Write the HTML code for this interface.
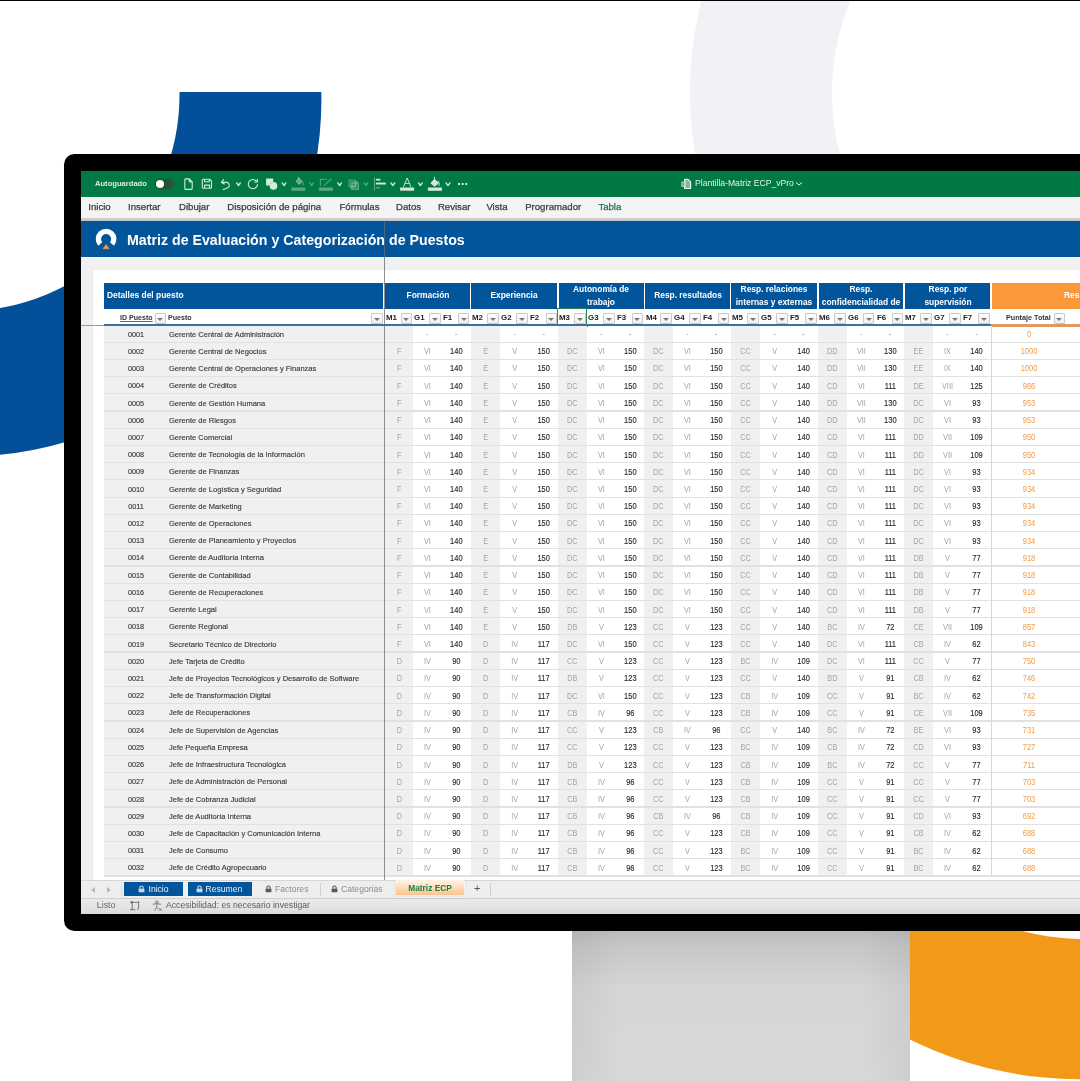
<!DOCTYPE html>
<html><head><meta charset="utf-8"><style>
html,body{margin:0;padding:0;}
body{width:1080px;height:1081px;overflow:hidden;position:relative;background:#fff;font-family:"Liberation Sans", sans-serif;}
div{box-sizing:border-box;}
</style></head><body>
<svg style="position:absolute;left:0;top:0" width="1080" height="1081" viewBox="0 0 1080 1081">
<defs><clipPath id="cb"><rect x="0" y="92" width="1080" height="1000"/></clipPath>
<linearGradient id="st" x1="0" y1="0" x2="0" y2="1"><stop offset="0" stop-color="#b8b8b9"/><stop offset="0.12" stop-color="#c6c6c7"/><stop offset="0.4" stop-color="#d6d6d8"/><stop offset="1" stop-color="#d9d9db"/></linearGradient>
<linearGradient id="stx" x1="0" y1="0" x2="1" y2="0"><stop offset="0" stop-color="#000" stop-opacity="0.05"/><stop offset="0.15" stop-color="#000" stop-opacity="0"/><stop offset="0.85" stop-color="#000" stop-opacity="0"/><stop offset="1" stop-color="#000" stop-opacity="0.05"/></linearGradient>
</defs>
<path fill-rule="evenodd" fill="#f1f1f6" d="M690,93 a382,382 0 1,0 764,0 a382,382 0 1,0 -764,0 Z M832,93 a240,240 0 1,1 480,0 a240,240 0 1,1 -480,0 Z"/>
<path fill-rule="evenodd" fill="#034f9a" clip-path="url(#cb)" d="M-392.2,99.7 a356.8,356.8 0 1,0 713.6,0 a356.8,356.8 0 1,0 -713.6,0 Z M-252.89999999999998,94.9 a216.2,216.2 0 1,1 432.4,0 a216.2,216.2 0 1,1 -432.4,0 Z"/>
<path fill-rule="evenodd" fill="#f3991a" d="M697.0999999999999,697.2 a382,382 0 1,0 764,0 a382,382 0 1,0 -764,0 Z M843.0999999999999,698.9 a240,240 0 1,1 480,0 a240,240 0 1,1 -480,0 Z"/>
<rect x="572" y="925" width="338" height="160" fill="url(#st)"/>
<rect x="572" y="925" width="338" height="160" fill="url(#stx)"/>
<rect x="0" y="0" width="1080" height="1.0" fill="#000"/>
</svg><div style="position:absolute;left:63.80px;top:153.70px;width:1100.00px;height:777.10px;background:#000;border-radius:10.5px;"></div><div style="position:absolute;left:0;top:0;width:1080px;height:1081px;overflow:hidden;filter:blur(0.35px);"><div style="position:absolute;left:80.80px;top:170.80px;width:999.20px;height:742.70px;background:#f0f0f0;overflow:hidden;"></div><div style="position:absolute;left:80.80px;top:170.80px;width:999.20px;height:26.00px;background:#007944;"></div><div style="position:absolute;left:80.80px;top:196.80px;width:999.20px;height:21.50px;background:#f4f4f4;"></div><div style="position:absolute;left:80.80px;top:218.30px;width:999.20px;height:2.80px;background:linear-gradient(#d6d6d6,#c2bfbf);"></div><div style="position:absolute;left:80.80px;top:221.00px;width:999.20px;height:36.40px;background:#02559b;"></div><div style="position:absolute;left:80.80px;top:257.40px;width:999.20px;height:13.00px;background:#f1f1f1;"></div><div style="position:absolute;left:92.60px;top:270.30px;width:987.40px;height:609.70px;background:#fff;box-shadow:0 0 1px rgba(0,0,0,0.15);"></div><div style="position:absolute;top:179.31px;font-size:7.6px;line-height:9.5px;color:#d9eee0;white-space:nowrap;font-weight:bold;left:95.00px;">Autoguardado</div><div style="position:absolute;left:155.30px;top:179.40px;width:19.40px;height:9.40px;background:linear-gradient(90deg,#184a2e,#2a5a3e);border-radius:5px;"></div><div style="position:absolute;left:155.60px;top:179.60px;width:8.80px;height:8.80px;background:#fff;border-radius:50%;"></div><svg style="position:absolute;left:180px;top:175px" width="300" height="18" viewBox="180 175 300 18" fill="none" stroke="#d3eadb" stroke-width="1.1" stroke-linejoin="round" stroke-linecap="round">
<path d="M185.6,178.9 h3.6 l3,3.1 v6.6 a0.8,0.8 0 0 1 -0.8,0.8 h-5.8 a0.8,0.8 0 0 1 -0.8,-0.8 v-8.9 a0.8,0.8 0 0 1 0.8,-0.8 z M189.2,178.9 v2.3 a0.8,0.8 0 0 0 0.8,0.8 h2.2"/>
<path d="M203.2,179.3 h6.6 l1.7,1.7 v6.4 a0.9,0.9 0 0 1 -0.9,0.9 h-7.4 a0.9,0.9 0 0 1 -0.9,-0.9 v-7.2 a0.9,0.9 0 0 1 0.9,-0.9 z M204.6,179.3 v2.4 h4.6 v-2.4 M204.6,188.3 v-3.2 h5 v3.2"/>
<path d="M221.6,182.4 h5.4 a2.9,2.9 0 0 1 0.9,5.3 l-4.6,1.9"/>
<path d="M223.6,179.6 l-2.1,2.8 l2.8,1.6" />
<path d="M236.70000000000002,182.9 L238.5,185.5 L240.29999999999998,182.9" stroke="#d3eadb" stroke-width="1.35" fill="none"/>
<path d="M256.6,181.3 a4.6,4.6 0 1 0 0.9,3.2"/>
<path d="M257.3,179.4 v2.6 h-2.6" />
<path d="M266.1,178.6 h7.1 v3.4 a3.8,3.8 0 0 0 -3.4,3.5 h-3.7 z" fill="#d3eadb" stroke="none"/>
<circle cx="273.5" cy="185.9" r="3.8" fill="#d3eadb" stroke="none"/>
<path d="M282.29999999999995,182.9 L284.1,185.5 L285.90000000000003,182.9" stroke="#d3eadb" stroke-width="1.35" fill="none"/>
<path d="M296,181.2 l3,-3 l3.2,3.2 l-3,3 z" fill="rgba(210,235,220,0.42)" stroke="rgba(210,235,220,0.42)"/>
<path d="M298.5,177 v2.6 M302.8,182 q1,1.5 0,3" stroke="rgba(210,235,220,0.42)"/>
<rect x="291.5" y="187.5" width="13.8" height="3.3" fill="rgba(210,235,220,0.42)" stroke="none"/>
<path d="M309.9,182.9 L311.6,185.5 L313.3,182.9" stroke="rgba(210,235,220,0.42)" stroke-width="1.35" fill="none"/>
<path d="M320.4,185.2 v-6 h6 M324.4,185.4 l6.8,-6.4" stroke="rgba(210,235,220,0.42)"/>
<rect x="319" y="187.5" width="14" height="3.3" fill="rgba(210,235,220,0.42)" stroke="none"/>
<path d="M337.79999999999995,182.9 L339.6,185.5 L341.40000000000003,182.9" stroke="#d3eadb" stroke-width="1.35" fill="none"/>
<path d="M349,180 h6.5 v6.5 h-6.5 z M352,183 h6.5 v6.5 h-6.5 z" stroke="rgba(210,235,220,0.42)"/>
<rect x="350" y="181" width="8" height="8" fill="rgba(210,235,220,0.42)" stroke="none" opacity="0.6"/>
<path d="M364.29999999999995,182.9 L366.0,185.5 L367.70000000000005,182.9" stroke="rgba(210,235,220,0.42)" stroke-width="1.35" fill="none"/>
<path d="M374.5,178 v12" stroke="rgba(210,235,220,0.42)"/>
<rect x="375.9" y="178.8" width="4.5" height="1.7" fill="#d3eadb" stroke="none"/>
<rect x="375.9" y="182.6" width="10" height="1.9" fill="#d3eadb" stroke="none"/>
<rect x="375.9" y="187.1" width="4.2" height="1.4" fill="rgba(210,235,220,0.42)" stroke="none"/>
<path d="M391.0,182.9 L392.9,185.5 L394.8,182.9" stroke="#d3eadb" stroke-width="1.35" fill="none"/>
<path d="M403.6,186.6 l3.6,-8.6 l3.6,8.6 M405,183.4 h4.4" stroke-width="0.9"/>
<rect x="400.1" y="187.5" width="14" height="3.2" fill="#d3eadb" stroke="none"/>
<path d="M418.5,182.9 L420.4,185.5 L422.3,182.9" stroke="#d3eadb" stroke-width="1.35" fill="none"/>
<path d="M431.2,183 l3.4,-3.4 l3.4,3.4 l-3.4,3 z" fill="#d3eadb"/>
<path d="M434.4,177.2 v2.6 M438.6,181.2 q1.2,1.6 0.4,4.4" stroke-width="0.9"/>
<rect x="427.9" y="187.5" width="14" height="3.3" fill="#d3eadb" stroke="none"/>
<path d="M446.0,182.9 L448.0,185.5 L450.0,182.9" stroke="#d3eadb" stroke-width="1.35" fill="none"/>
<rect x="458" y="183" width="2" height="2" fill="#d3eadb" stroke="none"/><rect x="461.6" y="183" width="2" height="2" fill="#d3eadb" stroke="none"/><rect x="465.2" y="183" width="2" height="2" fill="#d3eadb" stroke="none"/>
</svg><svg style="position:absolute;left:680px;top:177px" width="14" height="14" viewBox="680 177 14 14">
<path d="M684.6,179.3 h3.4 l2.6,2.6 v6.6 h-6 z" fill="rgba(225,242,232,0.55)" stroke="#eaf6ef" stroke-width="1.2" stroke-linejoin="round"/>
<rect x="681.2" y="181.6" width="4.6" height="5.4" fill="rgba(200,230,212,0.75)"/>
<path d="M682.4,183 l2.2,2.6 M684.6,183 l-2.2,2.6" stroke="#007944" stroke-width="0.7" opacity="0.6"/>
</svg><div style="position:absolute;top:178.35px;font-size:9px;line-height:11.25px;color:#e3f1e8;white-space:nowrap;left:694.50px;transform:scaleX(0.955);transform-origin:0 0;">Plantilla-Matriz ECP_vPro</div><svg style="position:absolute;left:795px;top:181px" width="8" height="6" viewBox="0 0 8 6"><path d="M1,1.5 l3,2.5 l3,-2.5" stroke="#eef6f1" fill="none" stroke-width="1"/></svg><div style="position:absolute;top:200.97px;font-size:9.6px;line-height:12.0px;color:#3b3b3b;white-space:nowrap;left:88.30px;-webkit-text-stroke:0.25px #3b3b3b;">Inicio</div><div style="position:absolute;top:200.97px;font-size:9.6px;line-height:12.0px;color:#3b3b3b;white-space:nowrap;left:128.00px;-webkit-text-stroke:0.25px #3b3b3b;">Insertar</div><div style="position:absolute;top:200.97px;font-size:9.6px;line-height:12.0px;color:#3b3b3b;white-space:nowrap;left:179.00px;-webkit-text-stroke:0.25px #3b3b3b;">Dibujar</div><div style="position:absolute;top:200.97px;font-size:9.6px;line-height:12.0px;color:#3b3b3b;white-space:nowrap;left:227.30px;-webkit-text-stroke:0.25px #3b3b3b;">Disposición de página</div><div style="position:absolute;top:200.97px;font-size:9.6px;line-height:12.0px;color:#3b3b3b;white-space:nowrap;left:339.50px;-webkit-text-stroke:0.25px #3b3b3b;">Fórmulas</div><div style="position:absolute;top:200.97px;font-size:9.6px;line-height:12.0px;color:#3b3b3b;white-space:nowrap;left:396.00px;-webkit-text-stroke:0.25px #3b3b3b;">Datos</div><div style="position:absolute;top:200.97px;font-size:9.6px;line-height:12.0px;color:#3b3b3b;white-space:nowrap;left:437.90px;-webkit-text-stroke:0.25px #3b3b3b;">Revisar</div><div style="position:absolute;top:200.97px;font-size:9.6px;line-height:12.0px;color:#3b3b3b;white-space:nowrap;left:486.40px;-webkit-text-stroke:0.25px #3b3b3b;">Vista</div><div style="position:absolute;top:200.97px;font-size:9.6px;line-height:12.0px;color:#3b3b3b;white-space:nowrap;left:525.20px;-webkit-text-stroke:0.25px #3b3b3b;">Programador</div><div style="position:absolute;top:200.97px;font-size:9.6px;line-height:12.0px;color:#1e7145;white-space:nowrap;left:598.40px;-webkit-text-stroke:0.25px #1e7145;">Tabla</div><svg style="position:absolute;left:90px;top:224px" width="34" height="28" viewBox="90 224 34 28">
<path d="M100.2,244.05 A7.7,7.7 0 1 1 112,244.05" fill="none" stroke="#fff" stroke-width="5.3"/>
<path d="M103.2,248.7 L106.1,244.6 L109.1,248.7 Z" fill="#f7993a" stroke="#f7993a" stroke-width="0.7" stroke-linejoin="round"/>
</svg><div style="position:absolute;top:230.13px;font-size:15.2px;line-height:19.0px;color:#fff;white-space:nowrap;font-weight:bold;left:126.50px;transform:scaleX(0.935);transform-origin:0 0;">Matriz de Evaluación y Categorización de Puestos</div><div style="position:absolute;left:104.20px;top:282.50px;width:278.60px;height:26.00px;background:#02559b;"></div><div style="position:absolute;top:290.25px;font-size:8.8px;line-height:11.0px;color:#fff;white-space:nowrap;font-weight:bold;left:106.70px;transform:scaleX(0.955);transform-origin:0 0;">Detalles del puesto</div><div style="position:absolute;left:385.40px;top:282.50px;width:84.40px;height:26.00px;background:#02559b;"></div><div style="position:absolute;top:289.75px;font-size:8.8px;line-height:11.0px;color:#fff;white-space:nowrap;font-weight:bold;left:372.60px;width:110.00px;text-align:center;transform:scaleX(0.955);">Formación</div><div style="position:absolute;left:471.40px;top:282.50px;width:86.10px;height:26.00px;background:#02559b;"></div><div style="position:absolute;top:289.75px;font-size:8.8px;line-height:11.0px;color:#fff;white-space:nowrap;font-weight:bold;left:459.45px;width:110.00px;text-align:center;transform:scaleX(0.955);">Experiencia</div><div style="position:absolute;left:559.10px;top:282.50px;width:84.50px;height:26.00px;background:#02559b;"></div><div style="position:absolute;top:284.15px;font-size:8.8px;line-height:11.0px;color:#fff;white-space:nowrap;font-weight:bold;left:546.35px;width:110.00px;text-align:center;transform:scaleX(0.955);">Autonomía de</div><div style="position:absolute;top:296.55px;font-size:8.8px;line-height:11.0px;color:#fff;white-space:nowrap;font-weight:bold;left:546.35px;width:110.00px;text-align:center;transform:scaleX(0.955);">trabajo</div><div style="position:absolute;left:645.20px;top:282.50px;width:84.60px;height:26.00px;background:#02559b;"></div><div style="position:absolute;top:289.75px;font-size:8.8px;line-height:11.0px;color:#fff;white-space:nowrap;font-weight:bold;left:632.50px;width:110.00px;text-align:center;transform:scaleX(0.955);">Resp. resultados</div><div style="position:absolute;left:731.40px;top:282.50px;width:85.90px;height:26.00px;background:#02559b;"></div><div style="position:absolute;top:284.15px;font-size:8.8px;line-height:11.0px;color:#fff;white-space:nowrap;font-weight:bold;left:719.35px;width:110.00px;text-align:center;transform:scaleX(0.955);">Resp. relaciones</div><div style="position:absolute;top:296.55px;font-size:8.8px;line-height:11.0px;color:#fff;white-space:nowrap;font-weight:bold;left:719.35px;width:110.00px;text-align:center;transform:scaleX(0.955);">internas y externas</div><div style="position:absolute;left:818.90px;top:282.50px;width:84.50px;height:26.00px;background:#02559b;"></div><div style="position:absolute;top:284.15px;font-size:8.8px;line-height:11.0px;color:#fff;white-space:nowrap;font-weight:bold;left:806.15px;width:110.00px;text-align:center;transform:scaleX(0.955);">Resp.</div><div style="position:absolute;top:296.55px;font-size:8.8px;line-height:11.0px;color:#fff;white-space:nowrap;font-weight:bold;left:806.15px;width:110.00px;text-align:center;transform:scaleX(0.955);">confidencialidad de</div><div style="position:absolute;left:905.00px;top:282.50px;width:85.30px;height:26.00px;background:#02559b;"></div><div style="position:absolute;top:284.15px;font-size:8.8px;line-height:11.0px;color:#fff;white-space:nowrap;font-weight:bold;left:892.65px;width:110.00px;text-align:center;transform:scaleX(0.955);">Resp. por</div><div style="position:absolute;top:296.55px;font-size:8.8px;line-height:11.0px;color:#fff;white-space:nowrap;font-weight:bold;left:892.65px;width:110.00px;text-align:center;transform:scaleX(0.955);">supervisión</div><div style="position:absolute;left:992.40px;top:282.50px;width:200.00px;height:26.00px;background:#fd983a;"></div><div style="position:absolute;top:289.65px;font-size:8.8px;line-height:11.0px;color:#fff;white-space:nowrap;font-weight:bold;left:1064.20px;transform:scaleX(0.955);transform-origin:0 0;">Resultado</div><div style="position:absolute;top:313.01px;font-size:7.5px;line-height:9.38px;color:#333;white-space:nowrap;font-weight:bold;left:119.80px;transform:scaleX(0.945);transform-origin:0 0;text-decoration:underline;text-decoration-color:#666;text-decoration-thickness:0.7px;text-underline-offset:0.8px;">ID Puesto</div><div style="position:absolute;left:154.60px;top:313.1px;width:11.5px;height:10.9px;border:1px solid #cacaca;border-radius:1px;background:linear-gradient(#fdfdfd,#f0f0f0);"></div><div style="position:absolute;left:157.35px;top:317.5px;width:0;height:0;border-left:3px solid transparent;border-right:3px solid transparent;border-top:3.3px solid #777;"></div><div style="position:absolute;top:313.01px;font-size:7.5px;line-height:9.38px;color:#333;white-space:nowrap;font-weight:bold;left:168.30px;transform:scaleX(0.945);transform-origin:0 0;">Puesto</div><div style="position:absolute;left:371.30px;top:313.1px;width:11.5px;height:10.9px;border:1px solid #cacaca;border-radius:1px;background:linear-gradient(#fdfdfd,#f0f0f0);"></div><div style="position:absolute;left:374.05px;top:317.5px;width:0;height:0;border-left:3px solid transparent;border-right:3px solid transparent;border-top:3.3px solid #777;"></div><div style="position:absolute;top:312.91px;font-size:7.6px;line-height:9.5px;color:#222;white-space:nowrap;font-weight:bold;left:385.70px;transform:scaleX(1.04);transform-origin:0 0;">M1</div><div style="position:absolute;left:400.57px;top:313.1px;width:11.5px;height:10.9px;border:1px solid #cacaca;border-radius:1px;background:linear-gradient(#fdfdfd,#f0f0f0);"></div><div style="position:absolute;left:403.32px;top:317.5px;width:0;height:0;border-left:3px solid transparent;border-right:3px solid transparent;border-top:3.3px solid #777;"></div><div style="position:absolute;top:312.91px;font-size:7.6px;line-height:9.5px;color:#222;white-space:nowrap;font-weight:bold;left:414.37px;transform:scaleX(1.04);transform-origin:0 0;">G1</div><div style="position:absolute;left:429.23px;top:313.1px;width:11.5px;height:10.9px;border:1px solid #cacaca;border-radius:1px;background:linear-gradient(#fdfdfd,#f0f0f0);"></div><div style="position:absolute;left:431.98px;top:317.5px;width:0;height:0;border-left:3px solid transparent;border-right:3px solid transparent;border-top:3.3px solid #777;"></div><div style="position:absolute;top:312.91px;font-size:7.6px;line-height:9.5px;color:#222;white-space:nowrap;font-weight:bold;left:443.03px;transform:scaleX(1.04);transform-origin:0 0;">F1</div><div style="position:absolute;left:457.90px;top:313.1px;width:11.5px;height:10.9px;border:1px solid #cacaca;border-radius:1px;background:linear-gradient(#fdfdfd,#f0f0f0);"></div><div style="position:absolute;left:460.65px;top:317.5px;width:0;height:0;border-left:3px solid transparent;border-right:3px solid transparent;border-top:3.3px solid #777;"></div><div style="position:absolute;top:312.91px;font-size:7.6px;line-height:9.5px;color:#222;white-space:nowrap;font-weight:bold;left:471.70px;transform:scaleX(1.04);transform-origin:0 0;">M2</div><div style="position:absolute;left:487.13px;top:313.1px;width:11.5px;height:10.9px;border:1px solid #cacaca;border-radius:1px;background:linear-gradient(#fdfdfd,#f0f0f0);"></div><div style="position:absolute;left:489.88px;top:317.5px;width:0;height:0;border-left:3px solid transparent;border-right:3px solid transparent;border-top:3.3px solid #777;"></div><div style="position:absolute;top:312.91px;font-size:7.6px;line-height:9.5px;color:#222;white-space:nowrap;font-weight:bold;left:500.93px;transform:scaleX(1.04);transform-origin:0 0;">G2</div><div style="position:absolute;left:516.37px;top:313.1px;width:11.5px;height:10.9px;border:1px solid #cacaca;border-radius:1px;background:linear-gradient(#fdfdfd,#f0f0f0);"></div><div style="position:absolute;left:519.12px;top:317.5px;width:0;height:0;border-left:3px solid transparent;border-right:3px solid transparent;border-top:3.3px solid #777;"></div><div style="position:absolute;top:312.91px;font-size:7.6px;line-height:9.5px;color:#222;white-space:nowrap;font-weight:bold;left:530.17px;transform:scaleX(1.04);transform-origin:0 0;">F2</div><div style="position:absolute;left:545.60px;top:313.1px;width:11.5px;height:10.9px;border:1px solid #cacaca;border-radius:1px;background:linear-gradient(#fdfdfd,#f0f0f0);"></div><div style="position:absolute;left:548.35px;top:317.5px;width:0;height:0;border-left:3px solid transparent;border-right:3px solid transparent;border-top:3.3px solid #777;"></div><div style="position:absolute;top:312.91px;font-size:7.6px;line-height:9.5px;color:#222;white-space:nowrap;font-weight:bold;left:559.40px;transform:scaleX(1.04);transform-origin:0 0;">M3</div><div style="position:absolute;left:574.30px;top:313.1px;width:11.5px;height:10.9px;border:1px solid #cacaca;border-radius:1px;background:linear-gradient(#fdfdfd,#f0f0f0);"></div><div style="position:absolute;left:577.05px;top:317.5px;width:0;height:0;border-left:3px solid transparent;border-right:3px solid transparent;border-top:3.3px solid #777;"></div><div style="position:absolute;top:312.91px;font-size:7.6px;line-height:9.5px;color:#222;white-space:nowrap;font-weight:bold;left:588.10px;transform:scaleX(1.04);transform-origin:0 0;">G3</div><div style="position:absolute;left:603.00px;top:313.1px;width:11.5px;height:10.9px;border:1px solid #cacaca;border-radius:1px;background:linear-gradient(#fdfdfd,#f0f0f0);"></div><div style="position:absolute;left:605.75px;top:317.5px;width:0;height:0;border-left:3px solid transparent;border-right:3px solid transparent;border-top:3.3px solid #777;"></div><div style="position:absolute;top:312.91px;font-size:7.6px;line-height:9.5px;color:#222;white-space:nowrap;font-weight:bold;left:616.80px;transform:scaleX(1.04);transform-origin:0 0;">F3</div><div style="position:absolute;left:631.70px;top:313.1px;width:11.5px;height:10.9px;border:1px solid #cacaca;border-radius:1px;background:linear-gradient(#fdfdfd,#f0f0f0);"></div><div style="position:absolute;left:634.45px;top:317.5px;width:0;height:0;border-left:3px solid transparent;border-right:3px solid transparent;border-top:3.3px solid #777;"></div><div style="position:absolute;top:312.91px;font-size:7.6px;line-height:9.5px;color:#222;white-space:nowrap;font-weight:bold;left:645.50px;transform:scaleX(1.04);transform-origin:0 0;">M4</div><div style="position:absolute;left:660.43px;top:313.1px;width:11.5px;height:10.9px;border:1px solid #cacaca;border-radius:1px;background:linear-gradient(#fdfdfd,#f0f0f0);"></div><div style="position:absolute;left:663.18px;top:317.5px;width:0;height:0;border-left:3px solid transparent;border-right:3px solid transparent;border-top:3.3px solid #777;"></div><div style="position:absolute;top:312.91px;font-size:7.6px;line-height:9.5px;color:#222;white-space:nowrap;font-weight:bold;left:674.23px;transform:scaleX(1.04);transform-origin:0 0;">G4</div><div style="position:absolute;left:689.17px;top:313.1px;width:11.5px;height:10.9px;border:1px solid #cacaca;border-radius:1px;background:linear-gradient(#fdfdfd,#f0f0f0);"></div><div style="position:absolute;left:691.92px;top:317.5px;width:0;height:0;border-left:3px solid transparent;border-right:3px solid transparent;border-top:3.3px solid #777;"></div><div style="position:absolute;top:312.91px;font-size:7.6px;line-height:9.5px;color:#222;white-space:nowrap;font-weight:bold;left:702.97px;transform:scaleX(1.04);transform-origin:0 0;">F4</div><div style="position:absolute;left:717.90px;top:313.1px;width:11.5px;height:10.9px;border:1px solid #cacaca;border-radius:1px;background:linear-gradient(#fdfdfd,#f0f0f0);"></div><div style="position:absolute;left:720.65px;top:317.5px;width:0;height:0;border-left:3px solid transparent;border-right:3px solid transparent;border-top:3.3px solid #777;"></div><div style="position:absolute;top:312.91px;font-size:7.6px;line-height:9.5px;color:#222;white-space:nowrap;font-weight:bold;left:731.70px;transform:scaleX(1.04);transform-origin:0 0;">M5</div><div style="position:absolute;left:747.07px;top:313.1px;width:11.5px;height:10.9px;border:1px solid #cacaca;border-radius:1px;background:linear-gradient(#fdfdfd,#f0f0f0);"></div><div style="position:absolute;left:749.82px;top:317.5px;width:0;height:0;border-left:3px solid transparent;border-right:3px solid transparent;border-top:3.3px solid #777;"></div><div style="position:absolute;top:312.91px;font-size:7.6px;line-height:9.5px;color:#222;white-space:nowrap;font-weight:bold;left:760.87px;transform:scaleX(1.04);transform-origin:0 0;">G5</div><div style="position:absolute;left:776.23px;top:313.1px;width:11.5px;height:10.9px;border:1px solid #cacaca;border-radius:1px;background:linear-gradient(#fdfdfd,#f0f0f0);"></div><div style="position:absolute;left:778.98px;top:317.5px;width:0;height:0;border-left:3px solid transparent;border-right:3px solid transparent;border-top:3.3px solid #777;"></div><div style="position:absolute;top:312.91px;font-size:7.6px;line-height:9.5px;color:#222;white-space:nowrap;font-weight:bold;left:790.03px;transform:scaleX(1.04);transform-origin:0 0;">F5</div><div style="position:absolute;left:805.40px;top:313.1px;width:11.5px;height:10.9px;border:1px solid #cacaca;border-radius:1px;background:linear-gradient(#fdfdfd,#f0f0f0);"></div><div style="position:absolute;left:808.15px;top:317.5px;width:0;height:0;border-left:3px solid transparent;border-right:3px solid transparent;border-top:3.3px solid #777;"></div><div style="position:absolute;top:312.91px;font-size:7.6px;line-height:9.5px;color:#222;white-space:nowrap;font-weight:bold;left:819.20px;transform:scaleX(1.04);transform-origin:0 0;">M6</div><div style="position:absolute;left:834.10px;top:313.1px;width:11.5px;height:10.9px;border:1px solid #cacaca;border-radius:1px;background:linear-gradient(#fdfdfd,#f0f0f0);"></div><div style="position:absolute;left:836.85px;top:317.5px;width:0;height:0;border-left:3px solid transparent;border-right:3px solid transparent;border-top:3.3px solid #777;"></div><div style="position:absolute;top:312.91px;font-size:7.6px;line-height:9.5px;color:#222;white-space:nowrap;font-weight:bold;left:847.90px;transform:scaleX(1.04);transform-origin:0 0;">G6</div><div style="position:absolute;left:862.80px;top:313.1px;width:11.5px;height:10.9px;border:1px solid #cacaca;border-radius:1px;background:linear-gradient(#fdfdfd,#f0f0f0);"></div><div style="position:absolute;left:865.55px;top:317.5px;width:0;height:0;border-left:3px solid transparent;border-right:3px solid transparent;border-top:3.3px solid #777;"></div><div style="position:absolute;top:312.91px;font-size:7.6px;line-height:9.5px;color:#222;white-space:nowrap;font-weight:bold;left:876.60px;transform:scaleX(1.04);transform-origin:0 0;">F6</div><div style="position:absolute;left:891.50px;top:313.1px;width:11.5px;height:10.9px;border:1px solid #cacaca;border-radius:1px;background:linear-gradient(#fdfdfd,#f0f0f0);"></div><div style="position:absolute;left:894.25px;top:317.5px;width:0;height:0;border-left:3px solid transparent;border-right:3px solid transparent;border-top:3.3px solid #777;"></div><div style="position:absolute;top:312.91px;font-size:7.6px;line-height:9.5px;color:#222;white-space:nowrap;font-weight:bold;left:905.30px;transform:scaleX(1.04);transform-origin:0 0;">M7</div><div style="position:absolute;left:920.47px;top:313.1px;width:11.5px;height:10.9px;border:1px solid #cacaca;border-radius:1px;background:linear-gradient(#fdfdfd,#f0f0f0);"></div><div style="position:absolute;left:923.22px;top:317.5px;width:0;height:0;border-left:3px solid transparent;border-right:3px solid transparent;border-top:3.3px solid #777;"></div><div style="position:absolute;top:312.91px;font-size:7.6px;line-height:9.5px;color:#222;white-space:nowrap;font-weight:bold;left:934.27px;transform:scaleX(1.04);transform-origin:0 0;">G7</div><div style="position:absolute;left:949.43px;top:313.1px;width:11.5px;height:10.9px;border:1px solid #cacaca;border-radius:1px;background:linear-gradient(#fdfdfd,#f0f0f0);"></div><div style="position:absolute;left:952.18px;top:317.5px;width:0;height:0;border-left:3px solid transparent;border-right:3px solid transparent;border-top:3.3px solid #777;"></div><div style="position:absolute;top:312.91px;font-size:7.6px;line-height:9.5px;color:#222;white-space:nowrap;font-weight:bold;left:963.23px;transform:scaleX(1.04);transform-origin:0 0;">F7</div><div style="position:absolute;left:978.40px;top:313.1px;width:11.5px;height:10.9px;border:1px solid #cacaca;border-radius:1px;background:linear-gradient(#fdfdfd,#f0f0f0);"></div><div style="position:absolute;left:981.15px;top:317.5px;width:0;height:0;border-left:3px solid transparent;border-right:3px solid transparent;border-top:3.3px solid #777;"></div><div style="position:absolute;top:313.11px;font-size:7.4px;line-height:9.25px;color:#333;white-space:nowrap;font-weight:bold;left:1006.30px;transform:scaleX(0.975);transform-origin:0 0;">Puntaje Total</div><div style="position:absolute;left:1053.70px;top:313.1px;width:11.5px;height:10.9px;border:1px solid #cacaca;border-radius:1px;background:linear-gradient(#fdfdfd,#f0f0f0);"></div><div style="position:absolute;left:1056.45px;top:317.5px;width:0;height:0;border-left:3px solid transparent;border-right:3px solid transparent;border-top:3.3px solid #777;"></div><div style="position:absolute;left:104.20px;top:324.10px;width:886.90px;height:2.20px;background:#3d70a0;"></div><div style="position:absolute;left:991.10px;top:324.40px;width:200.00px;height:2.20px;background:#de9a62;"></div><div style="position:absolute;left:556.90px;top:307.90px;width:30.20px;height:18.00px;border:1.4px solid #2a8754;"></div><div style="position:absolute;left:585.00px;top:324.00px;width:3.00px;height:3.00px;background:#2a8754;"></div><div style="position:absolute;left:104.20px;top:326.30px;width:280.20px;height:549.94px;background:#f0f0f0;"></div><div style="position:absolute;left:384.60px;top:326.30px;width:28.67px;height:549.94px;background:#f0f0f0;"></div><div style="position:absolute;left:470.60px;top:326.30px;width:29.23px;height:549.94px;background:#f0f0f0;"></div><div style="position:absolute;left:558.30px;top:326.30px;width:28.70px;height:549.94px;background:#f0f0f0;"></div><div style="position:absolute;left:644.40px;top:326.30px;width:28.73px;height:549.94px;background:#f0f0f0;"></div><div style="position:absolute;left:730.60px;top:326.30px;width:29.17px;height:549.94px;background:#f0f0f0;"></div><div style="position:absolute;left:818.10px;top:326.30px;width:28.70px;height:549.94px;background:#f0f0f0;"></div><div style="position:absolute;left:904.20px;top:326.30px;width:28.97px;height:549.94px;background:#f0f0f0;"></div><div style="position:absolute;left:104.20px;top:341.52px;width:975.80px;height:1.20px;background:#e1e1e1;"></div><div style="position:absolute;left:104.20px;top:358.74px;width:975.80px;height:1.20px;background:#e1e1e1;"></div><div style="position:absolute;left:104.20px;top:375.96px;width:975.80px;height:1.20px;background:#e1e1e1;"></div><div style="position:absolute;left:104.20px;top:393.18px;width:975.80px;height:1.20px;background:#e1e1e1;"></div><div style="position:absolute;left:104.20px;top:410.40px;width:975.80px;height:1.20px;background:#e1e1e1;"></div><div style="position:absolute;left:104.20px;top:427.62px;width:975.80px;height:1.20px;background:#e1e1e1;"></div><div style="position:absolute;left:104.20px;top:444.84px;width:975.80px;height:1.20px;background:#e1e1e1;"></div><div style="position:absolute;left:104.20px;top:462.06px;width:975.80px;height:1.20px;background:#e1e1e1;"></div><div style="position:absolute;left:104.20px;top:479.28px;width:975.80px;height:1.20px;background:#e1e1e1;"></div><div style="position:absolute;left:104.20px;top:496.50px;width:975.80px;height:1.20px;background:#e1e1e1;"></div><div style="position:absolute;left:104.20px;top:513.72px;width:975.80px;height:1.20px;background:#e1e1e1;"></div><div style="position:absolute;left:104.20px;top:530.94px;width:975.80px;height:1.20px;background:#e1e1e1;"></div><div style="position:absolute;left:104.20px;top:548.16px;width:975.80px;height:1.20px;background:#e1e1e1;"></div><div style="position:absolute;left:104.20px;top:565.38px;width:975.80px;height:1.20px;background:#e1e1e1;"></div><div style="position:absolute;left:104.20px;top:582.60px;width:975.80px;height:1.20px;background:#e1e1e1;"></div><div style="position:absolute;left:104.20px;top:599.82px;width:975.80px;height:1.20px;background:#e1e1e1;"></div><div style="position:absolute;left:104.20px;top:617.04px;width:975.80px;height:1.20px;background:#e1e1e1;"></div><div style="position:absolute;left:104.20px;top:634.26px;width:975.80px;height:1.20px;background:#e1e1e1;"></div><div style="position:absolute;left:104.20px;top:651.48px;width:975.80px;height:1.20px;background:#e1e1e1;"></div><div style="position:absolute;left:104.20px;top:668.70px;width:975.80px;height:1.20px;background:#e1e1e1;"></div><div style="position:absolute;left:104.20px;top:685.92px;width:975.80px;height:1.20px;background:#e1e1e1;"></div><div style="position:absolute;left:104.20px;top:703.14px;width:975.80px;height:1.20px;background:#e1e1e1;"></div><div style="position:absolute;left:104.20px;top:720.36px;width:975.80px;height:1.20px;background:#e1e1e1;"></div><div style="position:absolute;left:104.20px;top:737.58px;width:975.80px;height:1.20px;background:#e1e1e1;"></div><div style="position:absolute;left:104.20px;top:754.80px;width:975.80px;height:1.20px;background:#e1e1e1;"></div><div style="position:absolute;left:104.20px;top:772.02px;width:975.80px;height:1.20px;background:#e1e1e1;"></div><div style="position:absolute;left:104.20px;top:789.24px;width:975.80px;height:1.20px;background:#e1e1e1;"></div><div style="position:absolute;left:104.20px;top:806.46px;width:975.80px;height:1.20px;background:#e1e1e1;"></div><div style="position:absolute;left:104.20px;top:823.68px;width:975.80px;height:1.20px;background:#e1e1e1;"></div><div style="position:absolute;left:104.20px;top:840.90px;width:975.80px;height:1.20px;background:#e1e1e1;"></div><div style="position:absolute;left:104.20px;top:858.12px;width:975.80px;height:1.20px;background:#e1e1e1;"></div><div style="position:absolute;left:104.20px;top:875.34px;width:975.80px;height:1.20px;background:#e1e1e1;"></div><div style="position:absolute;left:991.10px;top:326.30px;width:0.90px;height:549.94px;background:#d8d8d8;"></div><div style="position:absolute;left:384.00px;top:221.00px;width:1.00px;height:659.00px;background:rgba(105,105,105,0.75);"></div><div style="position:absolute;left:80.80px;top:324.90px;width:23.40px;height:0.80px;background:#9a9a9a;"></div><div style="position:absolute;top:329.63px;font-size:8.1px;line-height:10.12px;color:#383838;white-space:nowrap;left:115.90px;width:40.00px;text-align:center;transform:scaleX(0.9);-webkit-text-stroke:0.14px currentColor;">0001</div><div style="position:absolute;top:329.63px;font-size:8.1px;line-height:10.12px;color:#383838;white-space:nowrap;left:168.60px;transform:scaleX(0.93);transform-origin:0 0;-webkit-text-stroke:0.14px currentColor;">Gerente Central de Administración</div><div style="position:absolute;top:329.03px;font-size:8.3px;line-height:10.38px;color:#a4a4a4;white-space:nowrap;left:413.27px;width:28.67px;text-align:center;transform:scaleX(0.88);">-</div><div style="position:absolute;top:329.03px;font-size:8.3px;line-height:10.38px;color:#a4a4a4;white-space:nowrap;left:441.93px;width:28.67px;text-align:center;">-</div><div style="position:absolute;top:329.03px;font-size:8.3px;line-height:10.38px;color:#a4a4a4;white-space:nowrap;left:499.83px;width:29.23px;text-align:center;transform:scaleX(0.88);">-</div><div style="position:absolute;top:329.03px;font-size:8.3px;line-height:10.38px;color:#a4a4a4;white-space:nowrap;left:529.07px;width:29.23px;text-align:center;">-</div><div style="position:absolute;top:329.03px;font-size:8.3px;line-height:10.38px;color:#a4a4a4;white-space:nowrap;left:587.00px;width:28.70px;text-align:center;transform:scaleX(0.88);">-</div><div style="position:absolute;top:329.03px;font-size:8.3px;line-height:10.38px;color:#a4a4a4;white-space:nowrap;left:615.70px;width:28.70px;text-align:center;">-</div><div style="position:absolute;top:329.03px;font-size:8.3px;line-height:10.38px;color:#a4a4a4;white-space:nowrap;left:673.13px;width:28.73px;text-align:center;transform:scaleX(0.88);">-</div><div style="position:absolute;top:329.03px;font-size:8.3px;line-height:10.38px;color:#a4a4a4;white-space:nowrap;left:701.87px;width:28.73px;text-align:center;">-</div><div style="position:absolute;top:329.03px;font-size:8.3px;line-height:10.38px;color:#a4a4a4;white-space:nowrap;left:759.77px;width:29.17px;text-align:center;transform:scaleX(0.88);">-</div><div style="position:absolute;top:329.03px;font-size:8.3px;line-height:10.38px;color:#a4a4a4;white-space:nowrap;left:788.93px;width:29.17px;text-align:center;">-</div><div style="position:absolute;top:329.03px;font-size:8.3px;line-height:10.38px;color:#a4a4a4;white-space:nowrap;left:846.80px;width:28.70px;text-align:center;transform:scaleX(0.88);">-</div><div style="position:absolute;top:329.03px;font-size:8.3px;line-height:10.38px;color:#a4a4a4;white-space:nowrap;left:875.50px;width:28.70px;text-align:center;">-</div><div style="position:absolute;top:329.03px;font-size:8.3px;line-height:10.38px;color:#a4a4a4;white-space:nowrap;left:933.17px;width:28.97px;text-align:center;transform:scaleX(0.88);">-</div><div style="position:absolute;top:329.03px;font-size:8.3px;line-height:10.38px;color:#a4a4a4;white-space:nowrap;left:962.13px;width:28.97px;text-align:center;">-</div><div style="position:absolute;top:329.03px;font-size:8.3px;line-height:10.38px;color:#f59a3e;white-space:nowrap;left:1009.00px;width:40.00px;text-align:center;transform:scaleX(0.9);">0</div><div style="position:absolute;top:346.85px;font-size:8.1px;line-height:10.12px;color:#383838;white-space:nowrap;left:115.90px;width:40.00px;text-align:center;transform:scaleX(0.9);-webkit-text-stroke:0.14px currentColor;">0002</div><div style="position:absolute;top:346.85px;font-size:8.1px;line-height:10.12px;color:#383838;white-space:nowrap;left:168.60px;transform:scaleX(0.93);transform-origin:0 0;-webkit-text-stroke:0.14px currentColor;">Gerente Central de Negocios</div><div style="position:absolute;top:346.25px;font-size:8.3px;line-height:10.38px;color:#a4a4a4;white-space:nowrap;left:384.60px;width:28.67px;text-align:center;transform:scaleX(0.88);">F</div><div style="position:absolute;top:346.25px;font-size:8.3px;line-height:10.38px;color:#a4a4a4;white-space:nowrap;left:413.27px;width:28.67px;text-align:center;transform:scaleX(0.88);">VI</div><div style="position:absolute;top:346.25px;font-size:8.3px;line-height:10.38px;color:#2a2a2a;white-space:nowrap;left:441.93px;width:28.67px;text-align:center;transform:scaleX(0.9);-webkit-text-stroke:0.14px currentColor;">140</div><div style="position:absolute;top:346.25px;font-size:8.3px;line-height:10.38px;color:#a4a4a4;white-space:nowrap;left:470.60px;width:29.23px;text-align:center;transform:scaleX(0.88);">E</div><div style="position:absolute;top:346.25px;font-size:8.3px;line-height:10.38px;color:#a4a4a4;white-space:nowrap;left:499.83px;width:29.23px;text-align:center;transform:scaleX(0.88);">V</div><div style="position:absolute;top:346.25px;font-size:8.3px;line-height:10.38px;color:#2a2a2a;white-space:nowrap;left:529.07px;width:29.23px;text-align:center;transform:scaleX(0.9);-webkit-text-stroke:0.14px currentColor;">150</div><div style="position:absolute;top:346.25px;font-size:8.3px;line-height:10.38px;color:#a4a4a4;white-space:nowrap;left:558.30px;width:28.70px;text-align:center;transform:scaleX(0.88);">DC</div><div style="position:absolute;top:346.25px;font-size:8.3px;line-height:10.38px;color:#a4a4a4;white-space:nowrap;left:587.00px;width:28.70px;text-align:center;transform:scaleX(0.88);">VI</div><div style="position:absolute;top:346.25px;font-size:8.3px;line-height:10.38px;color:#2a2a2a;white-space:nowrap;left:615.70px;width:28.70px;text-align:center;transform:scaleX(0.9);-webkit-text-stroke:0.14px currentColor;">150</div><div style="position:absolute;top:346.25px;font-size:8.3px;line-height:10.38px;color:#a4a4a4;white-space:nowrap;left:644.40px;width:28.73px;text-align:center;transform:scaleX(0.88);">DC</div><div style="position:absolute;top:346.25px;font-size:8.3px;line-height:10.38px;color:#a4a4a4;white-space:nowrap;left:673.13px;width:28.73px;text-align:center;transform:scaleX(0.88);">VI</div><div style="position:absolute;top:346.25px;font-size:8.3px;line-height:10.38px;color:#2a2a2a;white-space:nowrap;left:701.87px;width:28.73px;text-align:center;transform:scaleX(0.9);-webkit-text-stroke:0.14px currentColor;">150</div><div style="position:absolute;top:346.25px;font-size:8.3px;line-height:10.38px;color:#a4a4a4;white-space:nowrap;left:730.60px;width:29.17px;text-align:center;transform:scaleX(0.88);">CC</div><div style="position:absolute;top:346.25px;font-size:8.3px;line-height:10.38px;color:#a4a4a4;white-space:nowrap;left:759.77px;width:29.17px;text-align:center;transform:scaleX(0.88);">V</div><div style="position:absolute;top:346.25px;font-size:8.3px;line-height:10.38px;color:#2a2a2a;white-space:nowrap;left:788.93px;width:29.17px;text-align:center;transform:scaleX(0.9);-webkit-text-stroke:0.14px currentColor;">140</div><div style="position:absolute;top:346.25px;font-size:8.3px;line-height:10.38px;color:#a4a4a4;white-space:nowrap;left:818.10px;width:28.70px;text-align:center;transform:scaleX(0.88);">DD</div><div style="position:absolute;top:346.25px;font-size:8.3px;line-height:10.38px;color:#a4a4a4;white-space:nowrap;left:846.80px;width:28.70px;text-align:center;transform:scaleX(0.88);">VII</div><div style="position:absolute;top:346.25px;font-size:8.3px;line-height:10.38px;color:#2a2a2a;white-space:nowrap;left:875.50px;width:28.70px;text-align:center;transform:scaleX(0.9);-webkit-text-stroke:0.14px currentColor;">130</div><div style="position:absolute;top:346.25px;font-size:8.3px;line-height:10.38px;color:#a4a4a4;white-space:nowrap;left:904.20px;width:28.97px;text-align:center;transform:scaleX(0.88);">EE</div><div style="position:absolute;top:346.25px;font-size:8.3px;line-height:10.38px;color:#a4a4a4;white-space:nowrap;left:933.17px;width:28.97px;text-align:center;transform:scaleX(0.88);">IX</div><div style="position:absolute;top:346.25px;font-size:8.3px;line-height:10.38px;color:#2a2a2a;white-space:nowrap;left:962.13px;width:28.97px;text-align:center;transform:scaleX(0.9);-webkit-text-stroke:0.14px currentColor;">140</div><div style="position:absolute;top:346.25px;font-size:8.3px;line-height:10.38px;color:#f59a3e;white-space:nowrap;left:1009.00px;width:40.00px;text-align:center;transform:scaleX(0.9);">1000</div><div style="position:absolute;top:364.07px;font-size:8.1px;line-height:10.12px;color:#383838;white-space:nowrap;left:115.90px;width:40.00px;text-align:center;transform:scaleX(0.9);-webkit-text-stroke:0.14px currentColor;">0003</div><div style="position:absolute;top:364.07px;font-size:8.1px;line-height:10.12px;color:#383838;white-space:nowrap;left:168.60px;transform:scaleX(0.93);transform-origin:0 0;-webkit-text-stroke:0.14px currentColor;">Gerente Central de Operaciones y Finanzas</div><div style="position:absolute;top:363.47px;font-size:8.3px;line-height:10.38px;color:#a4a4a4;white-space:nowrap;left:384.60px;width:28.67px;text-align:center;transform:scaleX(0.88);">F</div><div style="position:absolute;top:363.47px;font-size:8.3px;line-height:10.38px;color:#a4a4a4;white-space:nowrap;left:413.27px;width:28.67px;text-align:center;transform:scaleX(0.88);">VI</div><div style="position:absolute;top:363.47px;font-size:8.3px;line-height:10.38px;color:#2a2a2a;white-space:nowrap;left:441.93px;width:28.67px;text-align:center;transform:scaleX(0.9);-webkit-text-stroke:0.14px currentColor;">140</div><div style="position:absolute;top:363.47px;font-size:8.3px;line-height:10.38px;color:#a4a4a4;white-space:nowrap;left:470.60px;width:29.23px;text-align:center;transform:scaleX(0.88);">E</div><div style="position:absolute;top:363.47px;font-size:8.3px;line-height:10.38px;color:#a4a4a4;white-space:nowrap;left:499.83px;width:29.23px;text-align:center;transform:scaleX(0.88);">V</div><div style="position:absolute;top:363.47px;font-size:8.3px;line-height:10.38px;color:#2a2a2a;white-space:nowrap;left:529.07px;width:29.23px;text-align:center;transform:scaleX(0.9);-webkit-text-stroke:0.14px currentColor;">150</div><div style="position:absolute;top:363.47px;font-size:8.3px;line-height:10.38px;color:#a4a4a4;white-space:nowrap;left:558.30px;width:28.70px;text-align:center;transform:scaleX(0.88);">DC</div><div style="position:absolute;top:363.47px;font-size:8.3px;line-height:10.38px;color:#a4a4a4;white-space:nowrap;left:587.00px;width:28.70px;text-align:center;transform:scaleX(0.88);">VI</div><div style="position:absolute;top:363.47px;font-size:8.3px;line-height:10.38px;color:#2a2a2a;white-space:nowrap;left:615.70px;width:28.70px;text-align:center;transform:scaleX(0.9);-webkit-text-stroke:0.14px currentColor;">150</div><div style="position:absolute;top:363.47px;font-size:8.3px;line-height:10.38px;color:#a4a4a4;white-space:nowrap;left:644.40px;width:28.73px;text-align:center;transform:scaleX(0.88);">DC</div><div style="position:absolute;top:363.47px;font-size:8.3px;line-height:10.38px;color:#a4a4a4;white-space:nowrap;left:673.13px;width:28.73px;text-align:center;transform:scaleX(0.88);">VI</div><div style="position:absolute;top:363.47px;font-size:8.3px;line-height:10.38px;color:#2a2a2a;white-space:nowrap;left:701.87px;width:28.73px;text-align:center;transform:scaleX(0.9);-webkit-text-stroke:0.14px currentColor;">150</div><div style="position:absolute;top:363.47px;font-size:8.3px;line-height:10.38px;color:#a4a4a4;white-space:nowrap;left:730.60px;width:29.17px;text-align:center;transform:scaleX(0.88);">CC</div><div style="position:absolute;top:363.47px;font-size:8.3px;line-height:10.38px;color:#a4a4a4;white-space:nowrap;left:759.77px;width:29.17px;text-align:center;transform:scaleX(0.88);">V</div><div style="position:absolute;top:363.47px;font-size:8.3px;line-height:10.38px;color:#2a2a2a;white-space:nowrap;left:788.93px;width:29.17px;text-align:center;transform:scaleX(0.9);-webkit-text-stroke:0.14px currentColor;">140</div><div style="position:absolute;top:363.47px;font-size:8.3px;line-height:10.38px;color:#a4a4a4;white-space:nowrap;left:818.10px;width:28.70px;text-align:center;transform:scaleX(0.88);">DD</div><div style="position:absolute;top:363.47px;font-size:8.3px;line-height:10.38px;color:#a4a4a4;white-space:nowrap;left:846.80px;width:28.70px;text-align:center;transform:scaleX(0.88);">VII</div><div style="position:absolute;top:363.47px;font-size:8.3px;line-height:10.38px;color:#2a2a2a;white-space:nowrap;left:875.50px;width:28.70px;text-align:center;transform:scaleX(0.9);-webkit-text-stroke:0.14px currentColor;">130</div><div style="position:absolute;top:363.47px;font-size:8.3px;line-height:10.38px;color:#a4a4a4;white-space:nowrap;left:904.20px;width:28.97px;text-align:center;transform:scaleX(0.88);">EE</div><div style="position:absolute;top:363.47px;font-size:8.3px;line-height:10.38px;color:#a4a4a4;white-space:nowrap;left:933.17px;width:28.97px;text-align:center;transform:scaleX(0.88);">IX</div><div style="position:absolute;top:363.47px;font-size:8.3px;line-height:10.38px;color:#2a2a2a;white-space:nowrap;left:962.13px;width:28.97px;text-align:center;transform:scaleX(0.9);-webkit-text-stroke:0.14px currentColor;">140</div><div style="position:absolute;top:363.47px;font-size:8.3px;line-height:10.38px;color:#f59a3e;white-space:nowrap;left:1009.00px;width:40.00px;text-align:center;transform:scaleX(0.9);">1000</div><div style="position:absolute;top:381.29px;font-size:8.1px;line-height:10.12px;color:#383838;white-space:nowrap;left:115.90px;width:40.00px;text-align:center;transform:scaleX(0.9);-webkit-text-stroke:0.14px currentColor;">0004</div><div style="position:absolute;top:381.29px;font-size:8.1px;line-height:10.12px;color:#383838;white-space:nowrap;left:168.60px;transform:scaleX(0.93);transform-origin:0 0;-webkit-text-stroke:0.14px currentColor;">Gerente de Créditos</div><div style="position:absolute;top:380.69px;font-size:8.3px;line-height:10.38px;color:#a4a4a4;white-space:nowrap;left:384.60px;width:28.67px;text-align:center;transform:scaleX(0.88);">F</div><div style="position:absolute;top:380.69px;font-size:8.3px;line-height:10.38px;color:#a4a4a4;white-space:nowrap;left:413.27px;width:28.67px;text-align:center;transform:scaleX(0.88);">VI</div><div style="position:absolute;top:380.69px;font-size:8.3px;line-height:10.38px;color:#2a2a2a;white-space:nowrap;left:441.93px;width:28.67px;text-align:center;transform:scaleX(0.9);-webkit-text-stroke:0.14px currentColor;">140</div><div style="position:absolute;top:380.69px;font-size:8.3px;line-height:10.38px;color:#a4a4a4;white-space:nowrap;left:470.60px;width:29.23px;text-align:center;transform:scaleX(0.88);">E</div><div style="position:absolute;top:380.69px;font-size:8.3px;line-height:10.38px;color:#a4a4a4;white-space:nowrap;left:499.83px;width:29.23px;text-align:center;transform:scaleX(0.88);">V</div><div style="position:absolute;top:380.69px;font-size:8.3px;line-height:10.38px;color:#2a2a2a;white-space:nowrap;left:529.07px;width:29.23px;text-align:center;transform:scaleX(0.9);-webkit-text-stroke:0.14px currentColor;">150</div><div style="position:absolute;top:380.69px;font-size:8.3px;line-height:10.38px;color:#a4a4a4;white-space:nowrap;left:558.30px;width:28.70px;text-align:center;transform:scaleX(0.88);">DC</div><div style="position:absolute;top:380.69px;font-size:8.3px;line-height:10.38px;color:#a4a4a4;white-space:nowrap;left:587.00px;width:28.70px;text-align:center;transform:scaleX(0.88);">VI</div><div style="position:absolute;top:380.69px;font-size:8.3px;line-height:10.38px;color:#2a2a2a;white-space:nowrap;left:615.70px;width:28.70px;text-align:center;transform:scaleX(0.9);-webkit-text-stroke:0.14px currentColor;">150</div><div style="position:absolute;top:380.69px;font-size:8.3px;line-height:10.38px;color:#a4a4a4;white-space:nowrap;left:644.40px;width:28.73px;text-align:center;transform:scaleX(0.88);">DC</div><div style="position:absolute;top:380.69px;font-size:8.3px;line-height:10.38px;color:#a4a4a4;white-space:nowrap;left:673.13px;width:28.73px;text-align:center;transform:scaleX(0.88);">VI</div><div style="position:absolute;top:380.69px;font-size:8.3px;line-height:10.38px;color:#2a2a2a;white-space:nowrap;left:701.87px;width:28.73px;text-align:center;transform:scaleX(0.9);-webkit-text-stroke:0.14px currentColor;">150</div><div style="position:absolute;top:380.69px;font-size:8.3px;line-height:10.38px;color:#a4a4a4;white-space:nowrap;left:730.60px;width:29.17px;text-align:center;transform:scaleX(0.88);">CC</div><div style="position:absolute;top:380.69px;font-size:8.3px;line-height:10.38px;color:#a4a4a4;white-space:nowrap;left:759.77px;width:29.17px;text-align:center;transform:scaleX(0.88);">V</div><div style="position:absolute;top:380.69px;font-size:8.3px;line-height:10.38px;color:#2a2a2a;white-space:nowrap;left:788.93px;width:29.17px;text-align:center;transform:scaleX(0.9);-webkit-text-stroke:0.14px currentColor;">140</div><div style="position:absolute;top:380.69px;font-size:8.3px;line-height:10.38px;color:#a4a4a4;white-space:nowrap;left:818.10px;width:28.70px;text-align:center;transform:scaleX(0.88);">CD</div><div style="position:absolute;top:380.69px;font-size:8.3px;line-height:10.38px;color:#a4a4a4;white-space:nowrap;left:846.80px;width:28.70px;text-align:center;transform:scaleX(0.88);">VI</div><div style="position:absolute;top:380.69px;font-size:8.3px;line-height:10.38px;color:#2a2a2a;white-space:nowrap;left:875.50px;width:28.70px;text-align:center;transform:scaleX(0.9);-webkit-text-stroke:0.14px currentColor;">111</div><div style="position:absolute;top:380.69px;font-size:8.3px;line-height:10.38px;color:#a4a4a4;white-space:nowrap;left:904.20px;width:28.97px;text-align:center;transform:scaleX(0.88);">DE</div><div style="position:absolute;top:380.69px;font-size:8.3px;line-height:10.38px;color:#a4a4a4;white-space:nowrap;left:933.17px;width:28.97px;text-align:center;transform:scaleX(0.88);">VIII</div><div style="position:absolute;top:380.69px;font-size:8.3px;line-height:10.38px;color:#2a2a2a;white-space:nowrap;left:962.13px;width:28.97px;text-align:center;transform:scaleX(0.9);-webkit-text-stroke:0.14px currentColor;">125</div><div style="position:absolute;top:380.69px;font-size:8.3px;line-height:10.38px;color:#f59a3e;white-space:nowrap;left:1009.00px;width:40.00px;text-align:center;transform:scaleX(0.9);">966</div><div style="position:absolute;top:398.51px;font-size:8.1px;line-height:10.12px;color:#383838;white-space:nowrap;left:115.90px;width:40.00px;text-align:center;transform:scaleX(0.9);-webkit-text-stroke:0.14px currentColor;">0005</div><div style="position:absolute;top:398.51px;font-size:8.1px;line-height:10.12px;color:#383838;white-space:nowrap;left:168.60px;transform:scaleX(0.93);transform-origin:0 0;-webkit-text-stroke:0.14px currentColor;">Gerente de Gestión Humana</div><div style="position:absolute;top:397.91px;font-size:8.3px;line-height:10.38px;color:#a4a4a4;white-space:nowrap;left:384.60px;width:28.67px;text-align:center;transform:scaleX(0.88);">F</div><div style="position:absolute;top:397.91px;font-size:8.3px;line-height:10.38px;color:#a4a4a4;white-space:nowrap;left:413.27px;width:28.67px;text-align:center;transform:scaleX(0.88);">VI</div><div style="position:absolute;top:397.91px;font-size:8.3px;line-height:10.38px;color:#2a2a2a;white-space:nowrap;left:441.93px;width:28.67px;text-align:center;transform:scaleX(0.9);-webkit-text-stroke:0.14px currentColor;">140</div><div style="position:absolute;top:397.91px;font-size:8.3px;line-height:10.38px;color:#a4a4a4;white-space:nowrap;left:470.60px;width:29.23px;text-align:center;transform:scaleX(0.88);">E</div><div style="position:absolute;top:397.91px;font-size:8.3px;line-height:10.38px;color:#a4a4a4;white-space:nowrap;left:499.83px;width:29.23px;text-align:center;transform:scaleX(0.88);">V</div><div style="position:absolute;top:397.91px;font-size:8.3px;line-height:10.38px;color:#2a2a2a;white-space:nowrap;left:529.07px;width:29.23px;text-align:center;transform:scaleX(0.9);-webkit-text-stroke:0.14px currentColor;">150</div><div style="position:absolute;top:397.91px;font-size:8.3px;line-height:10.38px;color:#a4a4a4;white-space:nowrap;left:558.30px;width:28.70px;text-align:center;transform:scaleX(0.88);">DC</div><div style="position:absolute;top:397.91px;font-size:8.3px;line-height:10.38px;color:#a4a4a4;white-space:nowrap;left:587.00px;width:28.70px;text-align:center;transform:scaleX(0.88);">VI</div><div style="position:absolute;top:397.91px;font-size:8.3px;line-height:10.38px;color:#2a2a2a;white-space:nowrap;left:615.70px;width:28.70px;text-align:center;transform:scaleX(0.9);-webkit-text-stroke:0.14px currentColor;">150</div><div style="position:absolute;top:397.91px;font-size:8.3px;line-height:10.38px;color:#a4a4a4;white-space:nowrap;left:644.40px;width:28.73px;text-align:center;transform:scaleX(0.88);">DC</div><div style="position:absolute;top:397.91px;font-size:8.3px;line-height:10.38px;color:#a4a4a4;white-space:nowrap;left:673.13px;width:28.73px;text-align:center;transform:scaleX(0.88);">VI</div><div style="position:absolute;top:397.91px;font-size:8.3px;line-height:10.38px;color:#2a2a2a;white-space:nowrap;left:701.87px;width:28.73px;text-align:center;transform:scaleX(0.9);-webkit-text-stroke:0.14px currentColor;">150</div><div style="position:absolute;top:397.91px;font-size:8.3px;line-height:10.38px;color:#a4a4a4;white-space:nowrap;left:730.60px;width:29.17px;text-align:center;transform:scaleX(0.88);">CC</div><div style="position:absolute;top:397.91px;font-size:8.3px;line-height:10.38px;color:#a4a4a4;white-space:nowrap;left:759.77px;width:29.17px;text-align:center;transform:scaleX(0.88);">V</div><div style="position:absolute;top:397.91px;font-size:8.3px;line-height:10.38px;color:#2a2a2a;white-space:nowrap;left:788.93px;width:29.17px;text-align:center;transform:scaleX(0.9);-webkit-text-stroke:0.14px currentColor;">140</div><div style="position:absolute;top:397.91px;font-size:8.3px;line-height:10.38px;color:#a4a4a4;white-space:nowrap;left:818.10px;width:28.70px;text-align:center;transform:scaleX(0.88);">DD</div><div style="position:absolute;top:397.91px;font-size:8.3px;line-height:10.38px;color:#a4a4a4;white-space:nowrap;left:846.80px;width:28.70px;text-align:center;transform:scaleX(0.88);">VII</div><div style="position:absolute;top:397.91px;font-size:8.3px;line-height:10.38px;color:#2a2a2a;white-space:nowrap;left:875.50px;width:28.70px;text-align:center;transform:scaleX(0.9);-webkit-text-stroke:0.14px currentColor;">130</div><div style="position:absolute;top:397.91px;font-size:8.3px;line-height:10.38px;color:#a4a4a4;white-space:nowrap;left:904.20px;width:28.97px;text-align:center;transform:scaleX(0.88);">DC</div><div style="position:absolute;top:397.91px;font-size:8.3px;line-height:10.38px;color:#a4a4a4;white-space:nowrap;left:933.17px;width:28.97px;text-align:center;transform:scaleX(0.88);">VI</div><div style="position:absolute;top:397.91px;font-size:8.3px;line-height:10.38px;color:#2a2a2a;white-space:nowrap;left:962.13px;width:28.97px;text-align:center;transform:scaleX(0.9);-webkit-text-stroke:0.14px currentColor;">93</div><div style="position:absolute;top:397.91px;font-size:8.3px;line-height:10.38px;color:#f59a3e;white-space:nowrap;left:1009.00px;width:40.00px;text-align:center;transform:scaleX(0.9);">953</div><div style="position:absolute;top:415.73px;font-size:8.1px;line-height:10.12px;color:#383838;white-space:nowrap;left:115.90px;width:40.00px;text-align:center;transform:scaleX(0.9);-webkit-text-stroke:0.14px currentColor;">0006</div><div style="position:absolute;top:415.73px;font-size:8.1px;line-height:10.12px;color:#383838;white-space:nowrap;left:168.60px;transform:scaleX(0.93);transform-origin:0 0;-webkit-text-stroke:0.14px currentColor;">Gerente de Riesgos</div><div style="position:absolute;top:415.13px;font-size:8.3px;line-height:10.38px;color:#a4a4a4;white-space:nowrap;left:384.60px;width:28.67px;text-align:center;transform:scaleX(0.88);">F</div><div style="position:absolute;top:415.13px;font-size:8.3px;line-height:10.38px;color:#a4a4a4;white-space:nowrap;left:413.27px;width:28.67px;text-align:center;transform:scaleX(0.88);">VI</div><div style="position:absolute;top:415.13px;font-size:8.3px;line-height:10.38px;color:#2a2a2a;white-space:nowrap;left:441.93px;width:28.67px;text-align:center;transform:scaleX(0.9);-webkit-text-stroke:0.14px currentColor;">140</div><div style="position:absolute;top:415.13px;font-size:8.3px;line-height:10.38px;color:#a4a4a4;white-space:nowrap;left:470.60px;width:29.23px;text-align:center;transform:scaleX(0.88);">E</div><div style="position:absolute;top:415.13px;font-size:8.3px;line-height:10.38px;color:#a4a4a4;white-space:nowrap;left:499.83px;width:29.23px;text-align:center;transform:scaleX(0.88);">V</div><div style="position:absolute;top:415.13px;font-size:8.3px;line-height:10.38px;color:#2a2a2a;white-space:nowrap;left:529.07px;width:29.23px;text-align:center;transform:scaleX(0.9);-webkit-text-stroke:0.14px currentColor;">150</div><div style="position:absolute;top:415.13px;font-size:8.3px;line-height:10.38px;color:#a4a4a4;white-space:nowrap;left:558.30px;width:28.70px;text-align:center;transform:scaleX(0.88);">DC</div><div style="position:absolute;top:415.13px;font-size:8.3px;line-height:10.38px;color:#a4a4a4;white-space:nowrap;left:587.00px;width:28.70px;text-align:center;transform:scaleX(0.88);">VI</div><div style="position:absolute;top:415.13px;font-size:8.3px;line-height:10.38px;color:#2a2a2a;white-space:nowrap;left:615.70px;width:28.70px;text-align:center;transform:scaleX(0.9);-webkit-text-stroke:0.14px currentColor;">150</div><div style="position:absolute;top:415.13px;font-size:8.3px;line-height:10.38px;color:#a4a4a4;white-space:nowrap;left:644.40px;width:28.73px;text-align:center;transform:scaleX(0.88);">DC</div><div style="position:absolute;top:415.13px;font-size:8.3px;line-height:10.38px;color:#a4a4a4;white-space:nowrap;left:673.13px;width:28.73px;text-align:center;transform:scaleX(0.88);">VI</div><div style="position:absolute;top:415.13px;font-size:8.3px;line-height:10.38px;color:#2a2a2a;white-space:nowrap;left:701.87px;width:28.73px;text-align:center;transform:scaleX(0.9);-webkit-text-stroke:0.14px currentColor;">150</div><div style="position:absolute;top:415.13px;font-size:8.3px;line-height:10.38px;color:#a4a4a4;white-space:nowrap;left:730.60px;width:29.17px;text-align:center;transform:scaleX(0.88);">CC</div><div style="position:absolute;top:415.13px;font-size:8.3px;line-height:10.38px;color:#a4a4a4;white-space:nowrap;left:759.77px;width:29.17px;text-align:center;transform:scaleX(0.88);">V</div><div style="position:absolute;top:415.13px;font-size:8.3px;line-height:10.38px;color:#2a2a2a;white-space:nowrap;left:788.93px;width:29.17px;text-align:center;transform:scaleX(0.9);-webkit-text-stroke:0.14px currentColor;">140</div><div style="position:absolute;top:415.13px;font-size:8.3px;line-height:10.38px;color:#a4a4a4;white-space:nowrap;left:818.10px;width:28.70px;text-align:center;transform:scaleX(0.88);">DD</div><div style="position:absolute;top:415.13px;font-size:8.3px;line-height:10.38px;color:#a4a4a4;white-space:nowrap;left:846.80px;width:28.70px;text-align:center;transform:scaleX(0.88);">VII</div><div style="position:absolute;top:415.13px;font-size:8.3px;line-height:10.38px;color:#2a2a2a;white-space:nowrap;left:875.50px;width:28.70px;text-align:center;transform:scaleX(0.9);-webkit-text-stroke:0.14px currentColor;">130</div><div style="position:absolute;top:415.13px;font-size:8.3px;line-height:10.38px;color:#a4a4a4;white-space:nowrap;left:904.20px;width:28.97px;text-align:center;transform:scaleX(0.88);">DC</div><div style="position:absolute;top:415.13px;font-size:8.3px;line-height:10.38px;color:#a4a4a4;white-space:nowrap;left:933.17px;width:28.97px;text-align:center;transform:scaleX(0.88);">VI</div><div style="position:absolute;top:415.13px;font-size:8.3px;line-height:10.38px;color:#2a2a2a;white-space:nowrap;left:962.13px;width:28.97px;text-align:center;transform:scaleX(0.9);-webkit-text-stroke:0.14px currentColor;">93</div><div style="position:absolute;top:415.13px;font-size:8.3px;line-height:10.38px;color:#f59a3e;white-space:nowrap;left:1009.00px;width:40.00px;text-align:center;transform:scaleX(0.9);">953</div><div style="position:absolute;top:432.95px;font-size:8.1px;line-height:10.12px;color:#383838;white-space:nowrap;left:115.90px;width:40.00px;text-align:center;transform:scaleX(0.9);-webkit-text-stroke:0.14px currentColor;">0007</div><div style="position:absolute;top:432.95px;font-size:8.1px;line-height:10.12px;color:#383838;white-space:nowrap;left:168.60px;transform:scaleX(0.93);transform-origin:0 0;-webkit-text-stroke:0.14px currentColor;">Gerente Comercial</div><div style="position:absolute;top:432.35px;font-size:8.3px;line-height:10.38px;color:#a4a4a4;white-space:nowrap;left:384.60px;width:28.67px;text-align:center;transform:scaleX(0.88);">F</div><div style="position:absolute;top:432.35px;font-size:8.3px;line-height:10.38px;color:#a4a4a4;white-space:nowrap;left:413.27px;width:28.67px;text-align:center;transform:scaleX(0.88);">VI</div><div style="position:absolute;top:432.35px;font-size:8.3px;line-height:10.38px;color:#2a2a2a;white-space:nowrap;left:441.93px;width:28.67px;text-align:center;transform:scaleX(0.9);-webkit-text-stroke:0.14px currentColor;">140</div><div style="position:absolute;top:432.35px;font-size:8.3px;line-height:10.38px;color:#a4a4a4;white-space:nowrap;left:470.60px;width:29.23px;text-align:center;transform:scaleX(0.88);">E</div><div style="position:absolute;top:432.35px;font-size:8.3px;line-height:10.38px;color:#a4a4a4;white-space:nowrap;left:499.83px;width:29.23px;text-align:center;transform:scaleX(0.88);">V</div><div style="position:absolute;top:432.35px;font-size:8.3px;line-height:10.38px;color:#2a2a2a;white-space:nowrap;left:529.07px;width:29.23px;text-align:center;transform:scaleX(0.9);-webkit-text-stroke:0.14px currentColor;">150</div><div style="position:absolute;top:432.35px;font-size:8.3px;line-height:10.38px;color:#a4a4a4;white-space:nowrap;left:558.30px;width:28.70px;text-align:center;transform:scaleX(0.88);">DC</div><div style="position:absolute;top:432.35px;font-size:8.3px;line-height:10.38px;color:#a4a4a4;white-space:nowrap;left:587.00px;width:28.70px;text-align:center;transform:scaleX(0.88);">VI</div><div style="position:absolute;top:432.35px;font-size:8.3px;line-height:10.38px;color:#2a2a2a;white-space:nowrap;left:615.70px;width:28.70px;text-align:center;transform:scaleX(0.9);-webkit-text-stroke:0.14px currentColor;">150</div><div style="position:absolute;top:432.35px;font-size:8.3px;line-height:10.38px;color:#a4a4a4;white-space:nowrap;left:644.40px;width:28.73px;text-align:center;transform:scaleX(0.88);">DC</div><div style="position:absolute;top:432.35px;font-size:8.3px;line-height:10.38px;color:#a4a4a4;white-space:nowrap;left:673.13px;width:28.73px;text-align:center;transform:scaleX(0.88);">VI</div><div style="position:absolute;top:432.35px;font-size:8.3px;line-height:10.38px;color:#2a2a2a;white-space:nowrap;left:701.87px;width:28.73px;text-align:center;transform:scaleX(0.9);-webkit-text-stroke:0.14px currentColor;">150</div><div style="position:absolute;top:432.35px;font-size:8.3px;line-height:10.38px;color:#a4a4a4;white-space:nowrap;left:730.60px;width:29.17px;text-align:center;transform:scaleX(0.88);">CC</div><div style="position:absolute;top:432.35px;font-size:8.3px;line-height:10.38px;color:#a4a4a4;white-space:nowrap;left:759.77px;width:29.17px;text-align:center;transform:scaleX(0.88);">V</div><div style="position:absolute;top:432.35px;font-size:8.3px;line-height:10.38px;color:#2a2a2a;white-space:nowrap;left:788.93px;width:29.17px;text-align:center;transform:scaleX(0.9);-webkit-text-stroke:0.14px currentColor;">140</div><div style="position:absolute;top:432.35px;font-size:8.3px;line-height:10.38px;color:#a4a4a4;white-space:nowrap;left:818.10px;width:28.70px;text-align:center;transform:scaleX(0.88);">CD</div><div style="position:absolute;top:432.35px;font-size:8.3px;line-height:10.38px;color:#a4a4a4;white-space:nowrap;left:846.80px;width:28.70px;text-align:center;transform:scaleX(0.88);">VI</div><div style="position:absolute;top:432.35px;font-size:8.3px;line-height:10.38px;color:#2a2a2a;white-space:nowrap;left:875.50px;width:28.70px;text-align:center;transform:scaleX(0.9);-webkit-text-stroke:0.14px currentColor;">111</div><div style="position:absolute;top:432.35px;font-size:8.3px;line-height:10.38px;color:#a4a4a4;white-space:nowrap;left:904.20px;width:28.97px;text-align:center;transform:scaleX(0.88);">DD</div><div style="position:absolute;top:432.35px;font-size:8.3px;line-height:10.38px;color:#a4a4a4;white-space:nowrap;left:933.17px;width:28.97px;text-align:center;transform:scaleX(0.88);">VII</div><div style="position:absolute;top:432.35px;font-size:8.3px;line-height:10.38px;color:#2a2a2a;white-space:nowrap;left:962.13px;width:28.97px;text-align:center;transform:scaleX(0.9);-webkit-text-stroke:0.14px currentColor;">109</div><div style="position:absolute;top:432.35px;font-size:8.3px;line-height:10.38px;color:#f59a3e;white-space:nowrap;left:1009.00px;width:40.00px;text-align:center;transform:scaleX(0.9);">950</div><div style="position:absolute;top:450.17px;font-size:8.1px;line-height:10.12px;color:#383838;white-space:nowrap;left:115.90px;width:40.00px;text-align:center;transform:scaleX(0.9);-webkit-text-stroke:0.14px currentColor;">0008</div><div style="position:absolute;top:450.17px;font-size:8.1px;line-height:10.12px;color:#383838;white-space:nowrap;left:168.60px;transform:scaleX(0.93);transform-origin:0 0;-webkit-text-stroke:0.14px currentColor;">Gerente de Tecnología de la Información</div><div style="position:absolute;top:449.57px;font-size:8.3px;line-height:10.38px;color:#a4a4a4;white-space:nowrap;left:384.60px;width:28.67px;text-align:center;transform:scaleX(0.88);">F</div><div style="position:absolute;top:449.57px;font-size:8.3px;line-height:10.38px;color:#a4a4a4;white-space:nowrap;left:413.27px;width:28.67px;text-align:center;transform:scaleX(0.88);">VI</div><div style="position:absolute;top:449.57px;font-size:8.3px;line-height:10.38px;color:#2a2a2a;white-space:nowrap;left:441.93px;width:28.67px;text-align:center;transform:scaleX(0.9);-webkit-text-stroke:0.14px currentColor;">140</div><div style="position:absolute;top:449.57px;font-size:8.3px;line-height:10.38px;color:#a4a4a4;white-space:nowrap;left:470.60px;width:29.23px;text-align:center;transform:scaleX(0.88);">E</div><div style="position:absolute;top:449.57px;font-size:8.3px;line-height:10.38px;color:#a4a4a4;white-space:nowrap;left:499.83px;width:29.23px;text-align:center;transform:scaleX(0.88);">V</div><div style="position:absolute;top:449.57px;font-size:8.3px;line-height:10.38px;color:#2a2a2a;white-space:nowrap;left:529.07px;width:29.23px;text-align:center;transform:scaleX(0.9);-webkit-text-stroke:0.14px currentColor;">150</div><div style="position:absolute;top:449.57px;font-size:8.3px;line-height:10.38px;color:#a4a4a4;white-space:nowrap;left:558.30px;width:28.70px;text-align:center;transform:scaleX(0.88);">DC</div><div style="position:absolute;top:449.57px;font-size:8.3px;line-height:10.38px;color:#a4a4a4;white-space:nowrap;left:587.00px;width:28.70px;text-align:center;transform:scaleX(0.88);">VI</div><div style="position:absolute;top:449.57px;font-size:8.3px;line-height:10.38px;color:#2a2a2a;white-space:nowrap;left:615.70px;width:28.70px;text-align:center;transform:scaleX(0.9);-webkit-text-stroke:0.14px currentColor;">150</div><div style="position:absolute;top:449.57px;font-size:8.3px;line-height:10.38px;color:#a4a4a4;white-space:nowrap;left:644.40px;width:28.73px;text-align:center;transform:scaleX(0.88);">DC</div><div style="position:absolute;top:449.57px;font-size:8.3px;line-height:10.38px;color:#a4a4a4;white-space:nowrap;left:673.13px;width:28.73px;text-align:center;transform:scaleX(0.88);">VI</div><div style="position:absolute;top:449.57px;font-size:8.3px;line-height:10.38px;color:#2a2a2a;white-space:nowrap;left:701.87px;width:28.73px;text-align:center;transform:scaleX(0.9);-webkit-text-stroke:0.14px currentColor;">150</div><div style="position:absolute;top:449.57px;font-size:8.3px;line-height:10.38px;color:#a4a4a4;white-space:nowrap;left:730.60px;width:29.17px;text-align:center;transform:scaleX(0.88);">CC</div><div style="position:absolute;top:449.57px;font-size:8.3px;line-height:10.38px;color:#a4a4a4;white-space:nowrap;left:759.77px;width:29.17px;text-align:center;transform:scaleX(0.88);">V</div><div style="position:absolute;top:449.57px;font-size:8.3px;line-height:10.38px;color:#2a2a2a;white-space:nowrap;left:788.93px;width:29.17px;text-align:center;transform:scaleX(0.9);-webkit-text-stroke:0.14px currentColor;">140</div><div style="position:absolute;top:449.57px;font-size:8.3px;line-height:10.38px;color:#a4a4a4;white-space:nowrap;left:818.10px;width:28.70px;text-align:center;transform:scaleX(0.88);">CD</div><div style="position:absolute;top:449.57px;font-size:8.3px;line-height:10.38px;color:#a4a4a4;white-space:nowrap;left:846.80px;width:28.70px;text-align:center;transform:scaleX(0.88);">VI</div><div style="position:absolute;top:449.57px;font-size:8.3px;line-height:10.38px;color:#2a2a2a;white-space:nowrap;left:875.50px;width:28.70px;text-align:center;transform:scaleX(0.9);-webkit-text-stroke:0.14px currentColor;">111</div><div style="position:absolute;top:449.57px;font-size:8.3px;line-height:10.38px;color:#a4a4a4;white-space:nowrap;left:904.20px;width:28.97px;text-align:center;transform:scaleX(0.88);">DD</div><div style="position:absolute;top:449.57px;font-size:8.3px;line-height:10.38px;color:#a4a4a4;white-space:nowrap;left:933.17px;width:28.97px;text-align:center;transform:scaleX(0.88);">VII</div><div style="position:absolute;top:449.57px;font-size:8.3px;line-height:10.38px;color:#2a2a2a;white-space:nowrap;left:962.13px;width:28.97px;text-align:center;transform:scaleX(0.9);-webkit-text-stroke:0.14px currentColor;">109</div><div style="position:absolute;top:449.57px;font-size:8.3px;line-height:10.38px;color:#f59a3e;white-space:nowrap;left:1009.00px;width:40.00px;text-align:center;transform:scaleX(0.9);">950</div><div style="position:absolute;top:467.39px;font-size:8.1px;line-height:10.12px;color:#383838;white-space:nowrap;left:115.90px;width:40.00px;text-align:center;transform:scaleX(0.9);-webkit-text-stroke:0.14px currentColor;">0009</div><div style="position:absolute;top:467.39px;font-size:8.1px;line-height:10.12px;color:#383838;white-space:nowrap;left:168.60px;transform:scaleX(0.93);transform-origin:0 0;-webkit-text-stroke:0.14px currentColor;">Gerente de Finanzas</div><div style="position:absolute;top:466.79px;font-size:8.3px;line-height:10.38px;color:#a4a4a4;white-space:nowrap;left:384.60px;width:28.67px;text-align:center;transform:scaleX(0.88);">F</div><div style="position:absolute;top:466.79px;font-size:8.3px;line-height:10.38px;color:#a4a4a4;white-space:nowrap;left:413.27px;width:28.67px;text-align:center;transform:scaleX(0.88);">VI</div><div style="position:absolute;top:466.79px;font-size:8.3px;line-height:10.38px;color:#2a2a2a;white-space:nowrap;left:441.93px;width:28.67px;text-align:center;transform:scaleX(0.9);-webkit-text-stroke:0.14px currentColor;">140</div><div style="position:absolute;top:466.79px;font-size:8.3px;line-height:10.38px;color:#a4a4a4;white-space:nowrap;left:470.60px;width:29.23px;text-align:center;transform:scaleX(0.88);">E</div><div style="position:absolute;top:466.79px;font-size:8.3px;line-height:10.38px;color:#a4a4a4;white-space:nowrap;left:499.83px;width:29.23px;text-align:center;transform:scaleX(0.88);">V</div><div style="position:absolute;top:466.79px;font-size:8.3px;line-height:10.38px;color:#2a2a2a;white-space:nowrap;left:529.07px;width:29.23px;text-align:center;transform:scaleX(0.9);-webkit-text-stroke:0.14px currentColor;">150</div><div style="position:absolute;top:466.79px;font-size:8.3px;line-height:10.38px;color:#a4a4a4;white-space:nowrap;left:558.30px;width:28.70px;text-align:center;transform:scaleX(0.88);">DC</div><div style="position:absolute;top:466.79px;font-size:8.3px;line-height:10.38px;color:#a4a4a4;white-space:nowrap;left:587.00px;width:28.70px;text-align:center;transform:scaleX(0.88);">VI</div><div style="position:absolute;top:466.79px;font-size:8.3px;line-height:10.38px;color:#2a2a2a;white-space:nowrap;left:615.70px;width:28.70px;text-align:center;transform:scaleX(0.9);-webkit-text-stroke:0.14px currentColor;">150</div><div style="position:absolute;top:466.79px;font-size:8.3px;line-height:10.38px;color:#a4a4a4;white-space:nowrap;left:644.40px;width:28.73px;text-align:center;transform:scaleX(0.88);">DC</div><div style="position:absolute;top:466.79px;font-size:8.3px;line-height:10.38px;color:#a4a4a4;white-space:nowrap;left:673.13px;width:28.73px;text-align:center;transform:scaleX(0.88);">VI</div><div style="position:absolute;top:466.79px;font-size:8.3px;line-height:10.38px;color:#2a2a2a;white-space:nowrap;left:701.87px;width:28.73px;text-align:center;transform:scaleX(0.9);-webkit-text-stroke:0.14px currentColor;">150</div><div style="position:absolute;top:466.79px;font-size:8.3px;line-height:10.38px;color:#a4a4a4;white-space:nowrap;left:730.60px;width:29.17px;text-align:center;transform:scaleX(0.88);">CC</div><div style="position:absolute;top:466.79px;font-size:8.3px;line-height:10.38px;color:#a4a4a4;white-space:nowrap;left:759.77px;width:29.17px;text-align:center;transform:scaleX(0.88);">V</div><div style="position:absolute;top:466.79px;font-size:8.3px;line-height:10.38px;color:#2a2a2a;white-space:nowrap;left:788.93px;width:29.17px;text-align:center;transform:scaleX(0.9);-webkit-text-stroke:0.14px currentColor;">140</div><div style="position:absolute;top:466.79px;font-size:8.3px;line-height:10.38px;color:#a4a4a4;white-space:nowrap;left:818.10px;width:28.70px;text-align:center;transform:scaleX(0.88);">CD</div><div style="position:absolute;top:466.79px;font-size:8.3px;line-height:10.38px;color:#a4a4a4;white-space:nowrap;left:846.80px;width:28.70px;text-align:center;transform:scaleX(0.88);">VI</div><div style="position:absolute;top:466.79px;font-size:8.3px;line-height:10.38px;color:#2a2a2a;white-space:nowrap;left:875.50px;width:28.70px;text-align:center;transform:scaleX(0.9);-webkit-text-stroke:0.14px currentColor;">111</div><div style="position:absolute;top:466.79px;font-size:8.3px;line-height:10.38px;color:#a4a4a4;white-space:nowrap;left:904.20px;width:28.97px;text-align:center;transform:scaleX(0.88);">DC</div><div style="position:absolute;top:466.79px;font-size:8.3px;line-height:10.38px;color:#a4a4a4;white-space:nowrap;left:933.17px;width:28.97px;text-align:center;transform:scaleX(0.88);">VI</div><div style="position:absolute;top:466.79px;font-size:8.3px;line-height:10.38px;color:#2a2a2a;white-space:nowrap;left:962.13px;width:28.97px;text-align:center;transform:scaleX(0.9);-webkit-text-stroke:0.14px currentColor;">93</div><div style="position:absolute;top:466.79px;font-size:8.3px;line-height:10.38px;color:#f59a3e;white-space:nowrap;left:1009.00px;width:40.00px;text-align:center;transform:scaleX(0.9);">934</div><div style="position:absolute;top:484.61px;font-size:8.1px;line-height:10.12px;color:#383838;white-space:nowrap;left:115.90px;width:40.00px;text-align:center;transform:scaleX(0.9);-webkit-text-stroke:0.14px currentColor;">0010</div><div style="position:absolute;top:484.61px;font-size:8.1px;line-height:10.12px;color:#383838;white-space:nowrap;left:168.60px;transform:scaleX(0.93);transform-origin:0 0;-webkit-text-stroke:0.14px currentColor;">Gerente de Logística y Seguridad</div><div style="position:absolute;top:484.01px;font-size:8.3px;line-height:10.38px;color:#a4a4a4;white-space:nowrap;left:384.60px;width:28.67px;text-align:center;transform:scaleX(0.88);">F</div><div style="position:absolute;top:484.01px;font-size:8.3px;line-height:10.38px;color:#a4a4a4;white-space:nowrap;left:413.27px;width:28.67px;text-align:center;transform:scaleX(0.88);">VI</div><div style="position:absolute;top:484.01px;font-size:8.3px;line-height:10.38px;color:#2a2a2a;white-space:nowrap;left:441.93px;width:28.67px;text-align:center;transform:scaleX(0.9);-webkit-text-stroke:0.14px currentColor;">140</div><div style="position:absolute;top:484.01px;font-size:8.3px;line-height:10.38px;color:#a4a4a4;white-space:nowrap;left:470.60px;width:29.23px;text-align:center;transform:scaleX(0.88);">E</div><div style="position:absolute;top:484.01px;font-size:8.3px;line-height:10.38px;color:#a4a4a4;white-space:nowrap;left:499.83px;width:29.23px;text-align:center;transform:scaleX(0.88);">V</div><div style="position:absolute;top:484.01px;font-size:8.3px;line-height:10.38px;color:#2a2a2a;white-space:nowrap;left:529.07px;width:29.23px;text-align:center;transform:scaleX(0.9);-webkit-text-stroke:0.14px currentColor;">150</div><div style="position:absolute;top:484.01px;font-size:8.3px;line-height:10.38px;color:#a4a4a4;white-space:nowrap;left:558.30px;width:28.70px;text-align:center;transform:scaleX(0.88);">DC</div><div style="position:absolute;top:484.01px;font-size:8.3px;line-height:10.38px;color:#a4a4a4;white-space:nowrap;left:587.00px;width:28.70px;text-align:center;transform:scaleX(0.88);">VI</div><div style="position:absolute;top:484.01px;font-size:8.3px;line-height:10.38px;color:#2a2a2a;white-space:nowrap;left:615.70px;width:28.70px;text-align:center;transform:scaleX(0.9);-webkit-text-stroke:0.14px currentColor;">150</div><div style="position:absolute;top:484.01px;font-size:8.3px;line-height:10.38px;color:#a4a4a4;white-space:nowrap;left:644.40px;width:28.73px;text-align:center;transform:scaleX(0.88);">DC</div><div style="position:absolute;top:484.01px;font-size:8.3px;line-height:10.38px;color:#a4a4a4;white-space:nowrap;left:673.13px;width:28.73px;text-align:center;transform:scaleX(0.88);">VI</div><div style="position:absolute;top:484.01px;font-size:8.3px;line-height:10.38px;color:#2a2a2a;white-space:nowrap;left:701.87px;width:28.73px;text-align:center;transform:scaleX(0.9);-webkit-text-stroke:0.14px currentColor;">150</div><div style="position:absolute;top:484.01px;font-size:8.3px;line-height:10.38px;color:#a4a4a4;white-space:nowrap;left:730.60px;width:29.17px;text-align:center;transform:scaleX(0.88);">CC</div><div style="position:absolute;top:484.01px;font-size:8.3px;line-height:10.38px;color:#a4a4a4;white-space:nowrap;left:759.77px;width:29.17px;text-align:center;transform:scaleX(0.88);">V</div><div style="position:absolute;top:484.01px;font-size:8.3px;line-height:10.38px;color:#2a2a2a;white-space:nowrap;left:788.93px;width:29.17px;text-align:center;transform:scaleX(0.9);-webkit-text-stroke:0.14px currentColor;">140</div><div style="position:absolute;top:484.01px;font-size:8.3px;line-height:10.38px;color:#a4a4a4;white-space:nowrap;left:818.10px;width:28.70px;text-align:center;transform:scaleX(0.88);">CD</div><div style="position:absolute;top:484.01px;font-size:8.3px;line-height:10.38px;color:#a4a4a4;white-space:nowrap;left:846.80px;width:28.70px;text-align:center;transform:scaleX(0.88);">VI</div><div style="position:absolute;top:484.01px;font-size:8.3px;line-height:10.38px;color:#2a2a2a;white-space:nowrap;left:875.50px;width:28.70px;text-align:center;transform:scaleX(0.9);-webkit-text-stroke:0.14px currentColor;">111</div><div style="position:absolute;top:484.01px;font-size:8.3px;line-height:10.38px;color:#a4a4a4;white-space:nowrap;left:904.20px;width:28.97px;text-align:center;transform:scaleX(0.88);">DC</div><div style="position:absolute;top:484.01px;font-size:8.3px;line-height:10.38px;color:#a4a4a4;white-space:nowrap;left:933.17px;width:28.97px;text-align:center;transform:scaleX(0.88);">VI</div><div style="position:absolute;top:484.01px;font-size:8.3px;line-height:10.38px;color:#2a2a2a;white-space:nowrap;left:962.13px;width:28.97px;text-align:center;transform:scaleX(0.9);-webkit-text-stroke:0.14px currentColor;">93</div><div style="position:absolute;top:484.01px;font-size:8.3px;line-height:10.38px;color:#f59a3e;white-space:nowrap;left:1009.00px;width:40.00px;text-align:center;transform:scaleX(0.9);">934</div><div style="position:absolute;top:501.83px;font-size:8.1px;line-height:10.12px;color:#383838;white-space:nowrap;left:115.90px;width:40.00px;text-align:center;transform:scaleX(0.9);-webkit-text-stroke:0.14px currentColor;">0011</div><div style="position:absolute;top:501.83px;font-size:8.1px;line-height:10.12px;color:#383838;white-space:nowrap;left:168.60px;transform:scaleX(0.93);transform-origin:0 0;-webkit-text-stroke:0.14px currentColor;">Gerente de Marketing</div><div style="position:absolute;top:501.23px;font-size:8.3px;line-height:10.38px;color:#a4a4a4;white-space:nowrap;left:384.60px;width:28.67px;text-align:center;transform:scaleX(0.88);">F</div><div style="position:absolute;top:501.23px;font-size:8.3px;line-height:10.38px;color:#a4a4a4;white-space:nowrap;left:413.27px;width:28.67px;text-align:center;transform:scaleX(0.88);">VI</div><div style="position:absolute;top:501.23px;font-size:8.3px;line-height:10.38px;color:#2a2a2a;white-space:nowrap;left:441.93px;width:28.67px;text-align:center;transform:scaleX(0.9);-webkit-text-stroke:0.14px currentColor;">140</div><div style="position:absolute;top:501.23px;font-size:8.3px;line-height:10.38px;color:#a4a4a4;white-space:nowrap;left:470.60px;width:29.23px;text-align:center;transform:scaleX(0.88);">E</div><div style="position:absolute;top:501.23px;font-size:8.3px;line-height:10.38px;color:#a4a4a4;white-space:nowrap;left:499.83px;width:29.23px;text-align:center;transform:scaleX(0.88);">V</div><div style="position:absolute;top:501.23px;font-size:8.3px;line-height:10.38px;color:#2a2a2a;white-space:nowrap;left:529.07px;width:29.23px;text-align:center;transform:scaleX(0.9);-webkit-text-stroke:0.14px currentColor;">150</div><div style="position:absolute;top:501.23px;font-size:8.3px;line-height:10.38px;color:#a4a4a4;white-space:nowrap;left:558.30px;width:28.70px;text-align:center;transform:scaleX(0.88);">DC</div><div style="position:absolute;top:501.23px;font-size:8.3px;line-height:10.38px;color:#a4a4a4;white-space:nowrap;left:587.00px;width:28.70px;text-align:center;transform:scaleX(0.88);">VI</div><div style="position:absolute;top:501.23px;font-size:8.3px;line-height:10.38px;color:#2a2a2a;white-space:nowrap;left:615.70px;width:28.70px;text-align:center;transform:scaleX(0.9);-webkit-text-stroke:0.14px currentColor;">150</div><div style="position:absolute;top:501.23px;font-size:8.3px;line-height:10.38px;color:#a4a4a4;white-space:nowrap;left:644.40px;width:28.73px;text-align:center;transform:scaleX(0.88);">DC</div><div style="position:absolute;top:501.23px;font-size:8.3px;line-height:10.38px;color:#a4a4a4;white-space:nowrap;left:673.13px;width:28.73px;text-align:center;transform:scaleX(0.88);">VI</div><div style="position:absolute;top:501.23px;font-size:8.3px;line-height:10.38px;color:#2a2a2a;white-space:nowrap;left:701.87px;width:28.73px;text-align:center;transform:scaleX(0.9);-webkit-text-stroke:0.14px currentColor;">150</div><div style="position:absolute;top:501.23px;font-size:8.3px;line-height:10.38px;color:#a4a4a4;white-space:nowrap;left:730.60px;width:29.17px;text-align:center;transform:scaleX(0.88);">CC</div><div style="position:absolute;top:501.23px;font-size:8.3px;line-height:10.38px;color:#a4a4a4;white-space:nowrap;left:759.77px;width:29.17px;text-align:center;transform:scaleX(0.88);">V</div><div style="position:absolute;top:501.23px;font-size:8.3px;line-height:10.38px;color:#2a2a2a;white-space:nowrap;left:788.93px;width:29.17px;text-align:center;transform:scaleX(0.9);-webkit-text-stroke:0.14px currentColor;">140</div><div style="position:absolute;top:501.23px;font-size:8.3px;line-height:10.38px;color:#a4a4a4;white-space:nowrap;left:818.10px;width:28.70px;text-align:center;transform:scaleX(0.88);">CD</div><div style="position:absolute;top:501.23px;font-size:8.3px;line-height:10.38px;color:#a4a4a4;white-space:nowrap;left:846.80px;width:28.70px;text-align:center;transform:scaleX(0.88);">VI</div><div style="position:absolute;top:501.23px;font-size:8.3px;line-height:10.38px;color:#2a2a2a;white-space:nowrap;left:875.50px;width:28.70px;text-align:center;transform:scaleX(0.9);-webkit-text-stroke:0.14px currentColor;">111</div><div style="position:absolute;top:501.23px;font-size:8.3px;line-height:10.38px;color:#a4a4a4;white-space:nowrap;left:904.20px;width:28.97px;text-align:center;transform:scaleX(0.88);">DC</div><div style="position:absolute;top:501.23px;font-size:8.3px;line-height:10.38px;color:#a4a4a4;white-space:nowrap;left:933.17px;width:28.97px;text-align:center;transform:scaleX(0.88);">VI</div><div style="position:absolute;top:501.23px;font-size:8.3px;line-height:10.38px;color:#2a2a2a;white-space:nowrap;left:962.13px;width:28.97px;text-align:center;transform:scaleX(0.9);-webkit-text-stroke:0.14px currentColor;">93</div><div style="position:absolute;top:501.23px;font-size:8.3px;line-height:10.38px;color:#f59a3e;white-space:nowrap;left:1009.00px;width:40.00px;text-align:center;transform:scaleX(0.9);">934</div><div style="position:absolute;top:519.05px;font-size:8.1px;line-height:10.12px;color:#383838;white-space:nowrap;left:115.90px;width:40.00px;text-align:center;transform:scaleX(0.9);-webkit-text-stroke:0.14px currentColor;">0012</div><div style="position:absolute;top:519.05px;font-size:8.1px;line-height:10.12px;color:#383838;white-space:nowrap;left:168.60px;transform:scaleX(0.93);transform-origin:0 0;-webkit-text-stroke:0.14px currentColor;">Gerente de Operaciones</div><div style="position:absolute;top:518.45px;font-size:8.3px;line-height:10.38px;color:#a4a4a4;white-space:nowrap;left:384.60px;width:28.67px;text-align:center;transform:scaleX(0.88);">F</div><div style="position:absolute;top:518.45px;font-size:8.3px;line-height:10.38px;color:#a4a4a4;white-space:nowrap;left:413.27px;width:28.67px;text-align:center;transform:scaleX(0.88);">VI</div><div style="position:absolute;top:518.45px;font-size:8.3px;line-height:10.38px;color:#2a2a2a;white-space:nowrap;left:441.93px;width:28.67px;text-align:center;transform:scaleX(0.9);-webkit-text-stroke:0.14px currentColor;">140</div><div style="position:absolute;top:518.45px;font-size:8.3px;line-height:10.38px;color:#a4a4a4;white-space:nowrap;left:470.60px;width:29.23px;text-align:center;transform:scaleX(0.88);">E</div><div style="position:absolute;top:518.45px;font-size:8.3px;line-height:10.38px;color:#a4a4a4;white-space:nowrap;left:499.83px;width:29.23px;text-align:center;transform:scaleX(0.88);">V</div><div style="position:absolute;top:518.45px;font-size:8.3px;line-height:10.38px;color:#2a2a2a;white-space:nowrap;left:529.07px;width:29.23px;text-align:center;transform:scaleX(0.9);-webkit-text-stroke:0.14px currentColor;">150</div><div style="position:absolute;top:518.45px;font-size:8.3px;line-height:10.38px;color:#a4a4a4;white-space:nowrap;left:558.30px;width:28.70px;text-align:center;transform:scaleX(0.88);">DC</div><div style="position:absolute;top:518.45px;font-size:8.3px;line-height:10.38px;color:#a4a4a4;white-space:nowrap;left:587.00px;width:28.70px;text-align:center;transform:scaleX(0.88);">VI</div><div style="position:absolute;top:518.45px;font-size:8.3px;line-height:10.38px;color:#2a2a2a;white-space:nowrap;left:615.70px;width:28.70px;text-align:center;transform:scaleX(0.9);-webkit-text-stroke:0.14px currentColor;">150</div><div style="position:absolute;top:518.45px;font-size:8.3px;line-height:10.38px;color:#a4a4a4;white-space:nowrap;left:644.40px;width:28.73px;text-align:center;transform:scaleX(0.88);">DC</div><div style="position:absolute;top:518.45px;font-size:8.3px;line-height:10.38px;color:#a4a4a4;white-space:nowrap;left:673.13px;width:28.73px;text-align:center;transform:scaleX(0.88);">VI</div><div style="position:absolute;top:518.45px;font-size:8.3px;line-height:10.38px;color:#2a2a2a;white-space:nowrap;left:701.87px;width:28.73px;text-align:center;transform:scaleX(0.9);-webkit-text-stroke:0.14px currentColor;">150</div><div style="position:absolute;top:518.45px;font-size:8.3px;line-height:10.38px;color:#a4a4a4;white-space:nowrap;left:730.60px;width:29.17px;text-align:center;transform:scaleX(0.88);">CC</div><div style="position:absolute;top:518.45px;font-size:8.3px;line-height:10.38px;color:#a4a4a4;white-space:nowrap;left:759.77px;width:29.17px;text-align:center;transform:scaleX(0.88);">V</div><div style="position:absolute;top:518.45px;font-size:8.3px;line-height:10.38px;color:#2a2a2a;white-space:nowrap;left:788.93px;width:29.17px;text-align:center;transform:scaleX(0.9);-webkit-text-stroke:0.14px currentColor;">140</div><div style="position:absolute;top:518.45px;font-size:8.3px;line-height:10.38px;color:#a4a4a4;white-space:nowrap;left:818.10px;width:28.70px;text-align:center;transform:scaleX(0.88);">CD</div><div style="position:absolute;top:518.45px;font-size:8.3px;line-height:10.38px;color:#a4a4a4;white-space:nowrap;left:846.80px;width:28.70px;text-align:center;transform:scaleX(0.88);">VI</div><div style="position:absolute;top:518.45px;font-size:8.3px;line-height:10.38px;color:#2a2a2a;white-space:nowrap;left:875.50px;width:28.70px;text-align:center;transform:scaleX(0.9);-webkit-text-stroke:0.14px currentColor;">111</div><div style="position:absolute;top:518.45px;font-size:8.3px;line-height:10.38px;color:#a4a4a4;white-space:nowrap;left:904.20px;width:28.97px;text-align:center;transform:scaleX(0.88);">DC</div><div style="position:absolute;top:518.45px;font-size:8.3px;line-height:10.38px;color:#a4a4a4;white-space:nowrap;left:933.17px;width:28.97px;text-align:center;transform:scaleX(0.88);">VI</div><div style="position:absolute;top:518.45px;font-size:8.3px;line-height:10.38px;color:#2a2a2a;white-space:nowrap;left:962.13px;width:28.97px;text-align:center;transform:scaleX(0.9);-webkit-text-stroke:0.14px currentColor;">93</div><div style="position:absolute;top:518.45px;font-size:8.3px;line-height:10.38px;color:#f59a3e;white-space:nowrap;left:1009.00px;width:40.00px;text-align:center;transform:scaleX(0.9);">934</div><div style="position:absolute;top:536.27px;font-size:8.1px;line-height:10.12px;color:#383838;white-space:nowrap;left:115.90px;width:40.00px;text-align:center;transform:scaleX(0.9);-webkit-text-stroke:0.14px currentColor;">0013</div><div style="position:absolute;top:536.27px;font-size:8.1px;line-height:10.12px;color:#383838;white-space:nowrap;left:168.60px;transform:scaleX(0.93);transform-origin:0 0;-webkit-text-stroke:0.14px currentColor;">Gerente de Planeamiento y Proyectos</div><div style="position:absolute;top:535.67px;font-size:8.3px;line-height:10.38px;color:#a4a4a4;white-space:nowrap;left:384.60px;width:28.67px;text-align:center;transform:scaleX(0.88);">F</div><div style="position:absolute;top:535.67px;font-size:8.3px;line-height:10.38px;color:#a4a4a4;white-space:nowrap;left:413.27px;width:28.67px;text-align:center;transform:scaleX(0.88);">VI</div><div style="position:absolute;top:535.67px;font-size:8.3px;line-height:10.38px;color:#2a2a2a;white-space:nowrap;left:441.93px;width:28.67px;text-align:center;transform:scaleX(0.9);-webkit-text-stroke:0.14px currentColor;">140</div><div style="position:absolute;top:535.67px;font-size:8.3px;line-height:10.38px;color:#a4a4a4;white-space:nowrap;left:470.60px;width:29.23px;text-align:center;transform:scaleX(0.88);">E</div><div style="position:absolute;top:535.67px;font-size:8.3px;line-height:10.38px;color:#a4a4a4;white-space:nowrap;left:499.83px;width:29.23px;text-align:center;transform:scaleX(0.88);">V</div><div style="position:absolute;top:535.67px;font-size:8.3px;line-height:10.38px;color:#2a2a2a;white-space:nowrap;left:529.07px;width:29.23px;text-align:center;transform:scaleX(0.9);-webkit-text-stroke:0.14px currentColor;">150</div><div style="position:absolute;top:535.67px;font-size:8.3px;line-height:10.38px;color:#a4a4a4;white-space:nowrap;left:558.30px;width:28.70px;text-align:center;transform:scaleX(0.88);">DC</div><div style="position:absolute;top:535.67px;font-size:8.3px;line-height:10.38px;color:#a4a4a4;white-space:nowrap;left:587.00px;width:28.70px;text-align:center;transform:scaleX(0.88);">VI</div><div style="position:absolute;top:535.67px;font-size:8.3px;line-height:10.38px;color:#2a2a2a;white-space:nowrap;left:615.70px;width:28.70px;text-align:center;transform:scaleX(0.9);-webkit-text-stroke:0.14px currentColor;">150</div><div style="position:absolute;top:535.67px;font-size:8.3px;line-height:10.38px;color:#a4a4a4;white-space:nowrap;left:644.40px;width:28.73px;text-align:center;transform:scaleX(0.88);">DC</div><div style="position:absolute;top:535.67px;font-size:8.3px;line-height:10.38px;color:#a4a4a4;white-space:nowrap;left:673.13px;width:28.73px;text-align:center;transform:scaleX(0.88);">VI</div><div style="position:absolute;top:535.67px;font-size:8.3px;line-height:10.38px;color:#2a2a2a;white-space:nowrap;left:701.87px;width:28.73px;text-align:center;transform:scaleX(0.9);-webkit-text-stroke:0.14px currentColor;">150</div><div style="position:absolute;top:535.67px;font-size:8.3px;line-height:10.38px;color:#a4a4a4;white-space:nowrap;left:730.60px;width:29.17px;text-align:center;transform:scaleX(0.88);">CC</div><div style="position:absolute;top:535.67px;font-size:8.3px;line-height:10.38px;color:#a4a4a4;white-space:nowrap;left:759.77px;width:29.17px;text-align:center;transform:scaleX(0.88);">V</div><div style="position:absolute;top:535.67px;font-size:8.3px;line-height:10.38px;color:#2a2a2a;white-space:nowrap;left:788.93px;width:29.17px;text-align:center;transform:scaleX(0.9);-webkit-text-stroke:0.14px currentColor;">140</div><div style="position:absolute;top:535.67px;font-size:8.3px;line-height:10.38px;color:#a4a4a4;white-space:nowrap;left:818.10px;width:28.70px;text-align:center;transform:scaleX(0.88);">CD</div><div style="position:absolute;top:535.67px;font-size:8.3px;line-height:10.38px;color:#a4a4a4;white-space:nowrap;left:846.80px;width:28.70px;text-align:center;transform:scaleX(0.88);">VI</div><div style="position:absolute;top:535.67px;font-size:8.3px;line-height:10.38px;color:#2a2a2a;white-space:nowrap;left:875.50px;width:28.70px;text-align:center;transform:scaleX(0.9);-webkit-text-stroke:0.14px currentColor;">111</div><div style="position:absolute;top:535.67px;font-size:8.3px;line-height:10.38px;color:#a4a4a4;white-space:nowrap;left:904.20px;width:28.97px;text-align:center;transform:scaleX(0.88);">DC</div><div style="position:absolute;top:535.67px;font-size:8.3px;line-height:10.38px;color:#a4a4a4;white-space:nowrap;left:933.17px;width:28.97px;text-align:center;transform:scaleX(0.88);">VI</div><div style="position:absolute;top:535.67px;font-size:8.3px;line-height:10.38px;color:#2a2a2a;white-space:nowrap;left:962.13px;width:28.97px;text-align:center;transform:scaleX(0.9);-webkit-text-stroke:0.14px currentColor;">93</div><div style="position:absolute;top:535.67px;font-size:8.3px;line-height:10.38px;color:#f59a3e;white-space:nowrap;left:1009.00px;width:40.00px;text-align:center;transform:scaleX(0.9);">934</div><div style="position:absolute;top:553.49px;font-size:8.1px;line-height:10.12px;color:#383838;white-space:nowrap;left:115.90px;width:40.00px;text-align:center;transform:scaleX(0.9);-webkit-text-stroke:0.14px currentColor;">0014</div><div style="position:absolute;top:553.49px;font-size:8.1px;line-height:10.12px;color:#383838;white-space:nowrap;left:168.60px;transform:scaleX(0.93);transform-origin:0 0;-webkit-text-stroke:0.14px currentColor;">Gerente de Auditoría Interna</div><div style="position:absolute;top:552.89px;font-size:8.3px;line-height:10.38px;color:#a4a4a4;white-space:nowrap;left:384.60px;width:28.67px;text-align:center;transform:scaleX(0.88);">F</div><div style="position:absolute;top:552.89px;font-size:8.3px;line-height:10.38px;color:#a4a4a4;white-space:nowrap;left:413.27px;width:28.67px;text-align:center;transform:scaleX(0.88);">VI</div><div style="position:absolute;top:552.89px;font-size:8.3px;line-height:10.38px;color:#2a2a2a;white-space:nowrap;left:441.93px;width:28.67px;text-align:center;transform:scaleX(0.9);-webkit-text-stroke:0.14px currentColor;">140</div><div style="position:absolute;top:552.89px;font-size:8.3px;line-height:10.38px;color:#a4a4a4;white-space:nowrap;left:470.60px;width:29.23px;text-align:center;transform:scaleX(0.88);">E</div><div style="position:absolute;top:552.89px;font-size:8.3px;line-height:10.38px;color:#a4a4a4;white-space:nowrap;left:499.83px;width:29.23px;text-align:center;transform:scaleX(0.88);">V</div><div style="position:absolute;top:552.89px;font-size:8.3px;line-height:10.38px;color:#2a2a2a;white-space:nowrap;left:529.07px;width:29.23px;text-align:center;transform:scaleX(0.9);-webkit-text-stroke:0.14px currentColor;">150</div><div style="position:absolute;top:552.89px;font-size:8.3px;line-height:10.38px;color:#a4a4a4;white-space:nowrap;left:558.30px;width:28.70px;text-align:center;transform:scaleX(0.88);">DC</div><div style="position:absolute;top:552.89px;font-size:8.3px;line-height:10.38px;color:#a4a4a4;white-space:nowrap;left:587.00px;width:28.70px;text-align:center;transform:scaleX(0.88);">VI</div><div style="position:absolute;top:552.89px;font-size:8.3px;line-height:10.38px;color:#2a2a2a;white-space:nowrap;left:615.70px;width:28.70px;text-align:center;transform:scaleX(0.9);-webkit-text-stroke:0.14px currentColor;">150</div><div style="position:absolute;top:552.89px;font-size:8.3px;line-height:10.38px;color:#a4a4a4;white-space:nowrap;left:644.40px;width:28.73px;text-align:center;transform:scaleX(0.88);">DC</div><div style="position:absolute;top:552.89px;font-size:8.3px;line-height:10.38px;color:#a4a4a4;white-space:nowrap;left:673.13px;width:28.73px;text-align:center;transform:scaleX(0.88);">VI</div><div style="position:absolute;top:552.89px;font-size:8.3px;line-height:10.38px;color:#2a2a2a;white-space:nowrap;left:701.87px;width:28.73px;text-align:center;transform:scaleX(0.9);-webkit-text-stroke:0.14px currentColor;">150</div><div style="position:absolute;top:552.89px;font-size:8.3px;line-height:10.38px;color:#a4a4a4;white-space:nowrap;left:730.60px;width:29.17px;text-align:center;transform:scaleX(0.88);">CC</div><div style="position:absolute;top:552.89px;font-size:8.3px;line-height:10.38px;color:#a4a4a4;white-space:nowrap;left:759.77px;width:29.17px;text-align:center;transform:scaleX(0.88);">V</div><div style="position:absolute;top:552.89px;font-size:8.3px;line-height:10.38px;color:#2a2a2a;white-space:nowrap;left:788.93px;width:29.17px;text-align:center;transform:scaleX(0.9);-webkit-text-stroke:0.14px currentColor;">140</div><div style="position:absolute;top:552.89px;font-size:8.3px;line-height:10.38px;color:#a4a4a4;white-space:nowrap;left:818.10px;width:28.70px;text-align:center;transform:scaleX(0.88);">CD</div><div style="position:absolute;top:552.89px;font-size:8.3px;line-height:10.38px;color:#a4a4a4;white-space:nowrap;left:846.80px;width:28.70px;text-align:center;transform:scaleX(0.88);">VI</div><div style="position:absolute;top:552.89px;font-size:8.3px;line-height:10.38px;color:#2a2a2a;white-space:nowrap;left:875.50px;width:28.70px;text-align:center;transform:scaleX(0.9);-webkit-text-stroke:0.14px currentColor;">111</div><div style="position:absolute;top:552.89px;font-size:8.3px;line-height:10.38px;color:#a4a4a4;white-space:nowrap;left:904.20px;width:28.97px;text-align:center;transform:scaleX(0.88);">DB</div><div style="position:absolute;top:552.89px;font-size:8.3px;line-height:10.38px;color:#a4a4a4;white-space:nowrap;left:933.17px;width:28.97px;text-align:center;transform:scaleX(0.88);">V</div><div style="position:absolute;top:552.89px;font-size:8.3px;line-height:10.38px;color:#2a2a2a;white-space:nowrap;left:962.13px;width:28.97px;text-align:center;transform:scaleX(0.9);-webkit-text-stroke:0.14px currentColor;">77</div><div style="position:absolute;top:552.89px;font-size:8.3px;line-height:10.38px;color:#f59a3e;white-space:nowrap;left:1009.00px;width:40.00px;text-align:center;transform:scaleX(0.9);">918</div><div style="position:absolute;top:570.71px;font-size:8.1px;line-height:10.12px;color:#383838;white-space:nowrap;left:115.90px;width:40.00px;text-align:center;transform:scaleX(0.9);-webkit-text-stroke:0.14px currentColor;">0015</div><div style="position:absolute;top:570.71px;font-size:8.1px;line-height:10.12px;color:#383838;white-space:nowrap;left:168.60px;transform:scaleX(0.93);transform-origin:0 0;-webkit-text-stroke:0.14px currentColor;">Gerente de Contabilidad</div><div style="position:absolute;top:570.11px;font-size:8.3px;line-height:10.38px;color:#a4a4a4;white-space:nowrap;left:384.60px;width:28.67px;text-align:center;transform:scaleX(0.88);">F</div><div style="position:absolute;top:570.11px;font-size:8.3px;line-height:10.38px;color:#a4a4a4;white-space:nowrap;left:413.27px;width:28.67px;text-align:center;transform:scaleX(0.88);">VI</div><div style="position:absolute;top:570.11px;font-size:8.3px;line-height:10.38px;color:#2a2a2a;white-space:nowrap;left:441.93px;width:28.67px;text-align:center;transform:scaleX(0.9);-webkit-text-stroke:0.14px currentColor;">140</div><div style="position:absolute;top:570.11px;font-size:8.3px;line-height:10.38px;color:#a4a4a4;white-space:nowrap;left:470.60px;width:29.23px;text-align:center;transform:scaleX(0.88);">E</div><div style="position:absolute;top:570.11px;font-size:8.3px;line-height:10.38px;color:#a4a4a4;white-space:nowrap;left:499.83px;width:29.23px;text-align:center;transform:scaleX(0.88);">V</div><div style="position:absolute;top:570.11px;font-size:8.3px;line-height:10.38px;color:#2a2a2a;white-space:nowrap;left:529.07px;width:29.23px;text-align:center;transform:scaleX(0.9);-webkit-text-stroke:0.14px currentColor;">150</div><div style="position:absolute;top:570.11px;font-size:8.3px;line-height:10.38px;color:#a4a4a4;white-space:nowrap;left:558.30px;width:28.70px;text-align:center;transform:scaleX(0.88);">DC</div><div style="position:absolute;top:570.11px;font-size:8.3px;line-height:10.38px;color:#a4a4a4;white-space:nowrap;left:587.00px;width:28.70px;text-align:center;transform:scaleX(0.88);">VI</div><div style="position:absolute;top:570.11px;font-size:8.3px;line-height:10.38px;color:#2a2a2a;white-space:nowrap;left:615.70px;width:28.70px;text-align:center;transform:scaleX(0.9);-webkit-text-stroke:0.14px currentColor;">150</div><div style="position:absolute;top:570.11px;font-size:8.3px;line-height:10.38px;color:#a4a4a4;white-space:nowrap;left:644.40px;width:28.73px;text-align:center;transform:scaleX(0.88);">DC</div><div style="position:absolute;top:570.11px;font-size:8.3px;line-height:10.38px;color:#a4a4a4;white-space:nowrap;left:673.13px;width:28.73px;text-align:center;transform:scaleX(0.88);">VI</div><div style="position:absolute;top:570.11px;font-size:8.3px;line-height:10.38px;color:#2a2a2a;white-space:nowrap;left:701.87px;width:28.73px;text-align:center;transform:scaleX(0.9);-webkit-text-stroke:0.14px currentColor;">150</div><div style="position:absolute;top:570.11px;font-size:8.3px;line-height:10.38px;color:#a4a4a4;white-space:nowrap;left:730.60px;width:29.17px;text-align:center;transform:scaleX(0.88);">CC</div><div style="position:absolute;top:570.11px;font-size:8.3px;line-height:10.38px;color:#a4a4a4;white-space:nowrap;left:759.77px;width:29.17px;text-align:center;transform:scaleX(0.88);">V</div><div style="position:absolute;top:570.11px;font-size:8.3px;line-height:10.38px;color:#2a2a2a;white-space:nowrap;left:788.93px;width:29.17px;text-align:center;transform:scaleX(0.9);-webkit-text-stroke:0.14px currentColor;">140</div><div style="position:absolute;top:570.11px;font-size:8.3px;line-height:10.38px;color:#a4a4a4;white-space:nowrap;left:818.10px;width:28.70px;text-align:center;transform:scaleX(0.88);">CD</div><div style="position:absolute;top:570.11px;font-size:8.3px;line-height:10.38px;color:#a4a4a4;white-space:nowrap;left:846.80px;width:28.70px;text-align:center;transform:scaleX(0.88);">VI</div><div style="position:absolute;top:570.11px;font-size:8.3px;line-height:10.38px;color:#2a2a2a;white-space:nowrap;left:875.50px;width:28.70px;text-align:center;transform:scaleX(0.9);-webkit-text-stroke:0.14px currentColor;">111</div><div style="position:absolute;top:570.11px;font-size:8.3px;line-height:10.38px;color:#a4a4a4;white-space:nowrap;left:904.20px;width:28.97px;text-align:center;transform:scaleX(0.88);">DB</div><div style="position:absolute;top:570.11px;font-size:8.3px;line-height:10.38px;color:#a4a4a4;white-space:nowrap;left:933.17px;width:28.97px;text-align:center;transform:scaleX(0.88);">V</div><div style="position:absolute;top:570.11px;font-size:8.3px;line-height:10.38px;color:#2a2a2a;white-space:nowrap;left:962.13px;width:28.97px;text-align:center;transform:scaleX(0.9);-webkit-text-stroke:0.14px currentColor;">77</div><div style="position:absolute;top:570.11px;font-size:8.3px;line-height:10.38px;color:#f59a3e;white-space:nowrap;left:1009.00px;width:40.00px;text-align:center;transform:scaleX(0.9);">918</div><div style="position:absolute;top:587.93px;font-size:8.1px;line-height:10.12px;color:#383838;white-space:nowrap;left:115.90px;width:40.00px;text-align:center;transform:scaleX(0.9);-webkit-text-stroke:0.14px currentColor;">0016</div><div style="position:absolute;top:587.93px;font-size:8.1px;line-height:10.12px;color:#383838;white-space:nowrap;left:168.60px;transform:scaleX(0.93);transform-origin:0 0;-webkit-text-stroke:0.14px currentColor;">Gerente de Recuperaciones</div><div style="position:absolute;top:587.33px;font-size:8.3px;line-height:10.38px;color:#a4a4a4;white-space:nowrap;left:384.60px;width:28.67px;text-align:center;transform:scaleX(0.88);">F</div><div style="position:absolute;top:587.33px;font-size:8.3px;line-height:10.38px;color:#a4a4a4;white-space:nowrap;left:413.27px;width:28.67px;text-align:center;transform:scaleX(0.88);">VI</div><div style="position:absolute;top:587.33px;font-size:8.3px;line-height:10.38px;color:#2a2a2a;white-space:nowrap;left:441.93px;width:28.67px;text-align:center;transform:scaleX(0.9);-webkit-text-stroke:0.14px currentColor;">140</div><div style="position:absolute;top:587.33px;font-size:8.3px;line-height:10.38px;color:#a4a4a4;white-space:nowrap;left:470.60px;width:29.23px;text-align:center;transform:scaleX(0.88);">E</div><div style="position:absolute;top:587.33px;font-size:8.3px;line-height:10.38px;color:#a4a4a4;white-space:nowrap;left:499.83px;width:29.23px;text-align:center;transform:scaleX(0.88);">V</div><div style="position:absolute;top:587.33px;font-size:8.3px;line-height:10.38px;color:#2a2a2a;white-space:nowrap;left:529.07px;width:29.23px;text-align:center;transform:scaleX(0.9);-webkit-text-stroke:0.14px currentColor;">150</div><div style="position:absolute;top:587.33px;font-size:8.3px;line-height:10.38px;color:#a4a4a4;white-space:nowrap;left:558.30px;width:28.70px;text-align:center;transform:scaleX(0.88);">DC</div><div style="position:absolute;top:587.33px;font-size:8.3px;line-height:10.38px;color:#a4a4a4;white-space:nowrap;left:587.00px;width:28.70px;text-align:center;transform:scaleX(0.88);">VI</div><div style="position:absolute;top:587.33px;font-size:8.3px;line-height:10.38px;color:#2a2a2a;white-space:nowrap;left:615.70px;width:28.70px;text-align:center;transform:scaleX(0.9);-webkit-text-stroke:0.14px currentColor;">150</div><div style="position:absolute;top:587.33px;font-size:8.3px;line-height:10.38px;color:#a4a4a4;white-space:nowrap;left:644.40px;width:28.73px;text-align:center;transform:scaleX(0.88);">DC</div><div style="position:absolute;top:587.33px;font-size:8.3px;line-height:10.38px;color:#a4a4a4;white-space:nowrap;left:673.13px;width:28.73px;text-align:center;transform:scaleX(0.88);">VI</div><div style="position:absolute;top:587.33px;font-size:8.3px;line-height:10.38px;color:#2a2a2a;white-space:nowrap;left:701.87px;width:28.73px;text-align:center;transform:scaleX(0.9);-webkit-text-stroke:0.14px currentColor;">150</div><div style="position:absolute;top:587.33px;font-size:8.3px;line-height:10.38px;color:#a4a4a4;white-space:nowrap;left:730.60px;width:29.17px;text-align:center;transform:scaleX(0.88);">CC</div><div style="position:absolute;top:587.33px;font-size:8.3px;line-height:10.38px;color:#a4a4a4;white-space:nowrap;left:759.77px;width:29.17px;text-align:center;transform:scaleX(0.88);">V</div><div style="position:absolute;top:587.33px;font-size:8.3px;line-height:10.38px;color:#2a2a2a;white-space:nowrap;left:788.93px;width:29.17px;text-align:center;transform:scaleX(0.9);-webkit-text-stroke:0.14px currentColor;">140</div><div style="position:absolute;top:587.33px;font-size:8.3px;line-height:10.38px;color:#a4a4a4;white-space:nowrap;left:818.10px;width:28.70px;text-align:center;transform:scaleX(0.88);">CD</div><div style="position:absolute;top:587.33px;font-size:8.3px;line-height:10.38px;color:#a4a4a4;white-space:nowrap;left:846.80px;width:28.70px;text-align:center;transform:scaleX(0.88);">VI</div><div style="position:absolute;top:587.33px;font-size:8.3px;line-height:10.38px;color:#2a2a2a;white-space:nowrap;left:875.50px;width:28.70px;text-align:center;transform:scaleX(0.9);-webkit-text-stroke:0.14px currentColor;">111</div><div style="position:absolute;top:587.33px;font-size:8.3px;line-height:10.38px;color:#a4a4a4;white-space:nowrap;left:904.20px;width:28.97px;text-align:center;transform:scaleX(0.88);">DB</div><div style="position:absolute;top:587.33px;font-size:8.3px;line-height:10.38px;color:#a4a4a4;white-space:nowrap;left:933.17px;width:28.97px;text-align:center;transform:scaleX(0.88);">V</div><div style="position:absolute;top:587.33px;font-size:8.3px;line-height:10.38px;color:#2a2a2a;white-space:nowrap;left:962.13px;width:28.97px;text-align:center;transform:scaleX(0.9);-webkit-text-stroke:0.14px currentColor;">77</div><div style="position:absolute;top:587.33px;font-size:8.3px;line-height:10.38px;color:#f59a3e;white-space:nowrap;left:1009.00px;width:40.00px;text-align:center;transform:scaleX(0.9);">918</div><div style="position:absolute;top:605.15px;font-size:8.1px;line-height:10.12px;color:#383838;white-space:nowrap;left:115.90px;width:40.00px;text-align:center;transform:scaleX(0.9);-webkit-text-stroke:0.14px currentColor;">0017</div><div style="position:absolute;top:605.15px;font-size:8.1px;line-height:10.12px;color:#383838;white-space:nowrap;left:168.60px;transform:scaleX(0.93);transform-origin:0 0;-webkit-text-stroke:0.14px currentColor;">Gerente Legal</div><div style="position:absolute;top:604.55px;font-size:8.3px;line-height:10.38px;color:#a4a4a4;white-space:nowrap;left:384.60px;width:28.67px;text-align:center;transform:scaleX(0.88);">F</div><div style="position:absolute;top:604.55px;font-size:8.3px;line-height:10.38px;color:#a4a4a4;white-space:nowrap;left:413.27px;width:28.67px;text-align:center;transform:scaleX(0.88);">VI</div><div style="position:absolute;top:604.55px;font-size:8.3px;line-height:10.38px;color:#2a2a2a;white-space:nowrap;left:441.93px;width:28.67px;text-align:center;transform:scaleX(0.9);-webkit-text-stroke:0.14px currentColor;">140</div><div style="position:absolute;top:604.55px;font-size:8.3px;line-height:10.38px;color:#a4a4a4;white-space:nowrap;left:470.60px;width:29.23px;text-align:center;transform:scaleX(0.88);">E</div><div style="position:absolute;top:604.55px;font-size:8.3px;line-height:10.38px;color:#a4a4a4;white-space:nowrap;left:499.83px;width:29.23px;text-align:center;transform:scaleX(0.88);">V</div><div style="position:absolute;top:604.55px;font-size:8.3px;line-height:10.38px;color:#2a2a2a;white-space:nowrap;left:529.07px;width:29.23px;text-align:center;transform:scaleX(0.9);-webkit-text-stroke:0.14px currentColor;">150</div><div style="position:absolute;top:604.55px;font-size:8.3px;line-height:10.38px;color:#a4a4a4;white-space:nowrap;left:558.30px;width:28.70px;text-align:center;transform:scaleX(0.88);">DC</div><div style="position:absolute;top:604.55px;font-size:8.3px;line-height:10.38px;color:#a4a4a4;white-space:nowrap;left:587.00px;width:28.70px;text-align:center;transform:scaleX(0.88);">VI</div><div style="position:absolute;top:604.55px;font-size:8.3px;line-height:10.38px;color:#2a2a2a;white-space:nowrap;left:615.70px;width:28.70px;text-align:center;transform:scaleX(0.9);-webkit-text-stroke:0.14px currentColor;">150</div><div style="position:absolute;top:604.55px;font-size:8.3px;line-height:10.38px;color:#a4a4a4;white-space:nowrap;left:644.40px;width:28.73px;text-align:center;transform:scaleX(0.88);">DC</div><div style="position:absolute;top:604.55px;font-size:8.3px;line-height:10.38px;color:#a4a4a4;white-space:nowrap;left:673.13px;width:28.73px;text-align:center;transform:scaleX(0.88);">VI</div><div style="position:absolute;top:604.55px;font-size:8.3px;line-height:10.38px;color:#2a2a2a;white-space:nowrap;left:701.87px;width:28.73px;text-align:center;transform:scaleX(0.9);-webkit-text-stroke:0.14px currentColor;">150</div><div style="position:absolute;top:604.55px;font-size:8.3px;line-height:10.38px;color:#a4a4a4;white-space:nowrap;left:730.60px;width:29.17px;text-align:center;transform:scaleX(0.88);">CC</div><div style="position:absolute;top:604.55px;font-size:8.3px;line-height:10.38px;color:#a4a4a4;white-space:nowrap;left:759.77px;width:29.17px;text-align:center;transform:scaleX(0.88);">V</div><div style="position:absolute;top:604.55px;font-size:8.3px;line-height:10.38px;color:#2a2a2a;white-space:nowrap;left:788.93px;width:29.17px;text-align:center;transform:scaleX(0.9);-webkit-text-stroke:0.14px currentColor;">140</div><div style="position:absolute;top:604.55px;font-size:8.3px;line-height:10.38px;color:#a4a4a4;white-space:nowrap;left:818.10px;width:28.70px;text-align:center;transform:scaleX(0.88);">CD</div><div style="position:absolute;top:604.55px;font-size:8.3px;line-height:10.38px;color:#a4a4a4;white-space:nowrap;left:846.80px;width:28.70px;text-align:center;transform:scaleX(0.88);">VI</div><div style="position:absolute;top:604.55px;font-size:8.3px;line-height:10.38px;color:#2a2a2a;white-space:nowrap;left:875.50px;width:28.70px;text-align:center;transform:scaleX(0.9);-webkit-text-stroke:0.14px currentColor;">111</div><div style="position:absolute;top:604.55px;font-size:8.3px;line-height:10.38px;color:#a4a4a4;white-space:nowrap;left:904.20px;width:28.97px;text-align:center;transform:scaleX(0.88);">DB</div><div style="position:absolute;top:604.55px;font-size:8.3px;line-height:10.38px;color:#a4a4a4;white-space:nowrap;left:933.17px;width:28.97px;text-align:center;transform:scaleX(0.88);">V</div><div style="position:absolute;top:604.55px;font-size:8.3px;line-height:10.38px;color:#2a2a2a;white-space:nowrap;left:962.13px;width:28.97px;text-align:center;transform:scaleX(0.9);-webkit-text-stroke:0.14px currentColor;">77</div><div style="position:absolute;top:604.55px;font-size:8.3px;line-height:10.38px;color:#f59a3e;white-space:nowrap;left:1009.00px;width:40.00px;text-align:center;transform:scaleX(0.9);">918</div><div style="position:absolute;top:622.37px;font-size:8.1px;line-height:10.12px;color:#383838;white-space:nowrap;left:115.90px;width:40.00px;text-align:center;transform:scaleX(0.9);-webkit-text-stroke:0.14px currentColor;">0018</div><div style="position:absolute;top:622.37px;font-size:8.1px;line-height:10.12px;color:#383838;white-space:nowrap;left:168.60px;transform:scaleX(0.93);transform-origin:0 0;-webkit-text-stroke:0.14px currentColor;">Gerente Regional</div><div style="position:absolute;top:621.77px;font-size:8.3px;line-height:10.38px;color:#a4a4a4;white-space:nowrap;left:384.60px;width:28.67px;text-align:center;transform:scaleX(0.88);">F</div><div style="position:absolute;top:621.77px;font-size:8.3px;line-height:10.38px;color:#a4a4a4;white-space:nowrap;left:413.27px;width:28.67px;text-align:center;transform:scaleX(0.88);">VI</div><div style="position:absolute;top:621.77px;font-size:8.3px;line-height:10.38px;color:#2a2a2a;white-space:nowrap;left:441.93px;width:28.67px;text-align:center;transform:scaleX(0.9);-webkit-text-stroke:0.14px currentColor;">140</div><div style="position:absolute;top:621.77px;font-size:8.3px;line-height:10.38px;color:#a4a4a4;white-space:nowrap;left:470.60px;width:29.23px;text-align:center;transform:scaleX(0.88);">E</div><div style="position:absolute;top:621.77px;font-size:8.3px;line-height:10.38px;color:#a4a4a4;white-space:nowrap;left:499.83px;width:29.23px;text-align:center;transform:scaleX(0.88);">V</div><div style="position:absolute;top:621.77px;font-size:8.3px;line-height:10.38px;color:#2a2a2a;white-space:nowrap;left:529.07px;width:29.23px;text-align:center;transform:scaleX(0.9);-webkit-text-stroke:0.14px currentColor;">150</div><div style="position:absolute;top:621.77px;font-size:8.3px;line-height:10.38px;color:#a4a4a4;white-space:nowrap;left:558.30px;width:28.70px;text-align:center;transform:scaleX(0.88);">DB</div><div style="position:absolute;top:621.77px;font-size:8.3px;line-height:10.38px;color:#a4a4a4;white-space:nowrap;left:587.00px;width:28.70px;text-align:center;transform:scaleX(0.88);">V</div><div style="position:absolute;top:621.77px;font-size:8.3px;line-height:10.38px;color:#2a2a2a;white-space:nowrap;left:615.70px;width:28.70px;text-align:center;transform:scaleX(0.9);-webkit-text-stroke:0.14px currentColor;">123</div><div style="position:absolute;top:621.77px;font-size:8.3px;line-height:10.38px;color:#a4a4a4;white-space:nowrap;left:644.40px;width:28.73px;text-align:center;transform:scaleX(0.88);">CC</div><div style="position:absolute;top:621.77px;font-size:8.3px;line-height:10.38px;color:#a4a4a4;white-space:nowrap;left:673.13px;width:28.73px;text-align:center;transform:scaleX(0.88);">V</div><div style="position:absolute;top:621.77px;font-size:8.3px;line-height:10.38px;color:#2a2a2a;white-space:nowrap;left:701.87px;width:28.73px;text-align:center;transform:scaleX(0.9);-webkit-text-stroke:0.14px currentColor;">123</div><div style="position:absolute;top:621.77px;font-size:8.3px;line-height:10.38px;color:#a4a4a4;white-space:nowrap;left:730.60px;width:29.17px;text-align:center;transform:scaleX(0.88);">CC</div><div style="position:absolute;top:621.77px;font-size:8.3px;line-height:10.38px;color:#a4a4a4;white-space:nowrap;left:759.77px;width:29.17px;text-align:center;transform:scaleX(0.88);">V</div><div style="position:absolute;top:621.77px;font-size:8.3px;line-height:10.38px;color:#2a2a2a;white-space:nowrap;left:788.93px;width:29.17px;text-align:center;transform:scaleX(0.9);-webkit-text-stroke:0.14px currentColor;">140</div><div style="position:absolute;top:621.77px;font-size:8.3px;line-height:10.38px;color:#a4a4a4;white-space:nowrap;left:818.10px;width:28.70px;text-align:center;transform:scaleX(0.88);">BC</div><div style="position:absolute;top:621.77px;font-size:8.3px;line-height:10.38px;color:#a4a4a4;white-space:nowrap;left:846.80px;width:28.70px;text-align:center;transform:scaleX(0.88);">IV</div><div style="position:absolute;top:621.77px;font-size:8.3px;line-height:10.38px;color:#2a2a2a;white-space:nowrap;left:875.50px;width:28.70px;text-align:center;transform:scaleX(0.9);-webkit-text-stroke:0.14px currentColor;">72</div><div style="position:absolute;top:621.77px;font-size:8.3px;line-height:10.38px;color:#a4a4a4;white-space:nowrap;left:904.20px;width:28.97px;text-align:center;transform:scaleX(0.88);">CE</div><div style="position:absolute;top:621.77px;font-size:8.3px;line-height:10.38px;color:#a4a4a4;white-space:nowrap;left:933.17px;width:28.97px;text-align:center;transform:scaleX(0.88);">VII</div><div style="position:absolute;top:621.77px;font-size:8.3px;line-height:10.38px;color:#2a2a2a;white-space:nowrap;left:962.13px;width:28.97px;text-align:center;transform:scaleX(0.9);-webkit-text-stroke:0.14px currentColor;">109</div><div style="position:absolute;top:621.77px;font-size:8.3px;line-height:10.38px;color:#f59a3e;white-space:nowrap;left:1009.00px;width:40.00px;text-align:center;transform:scaleX(0.9);">857</div><div style="position:absolute;top:639.59px;font-size:8.1px;line-height:10.12px;color:#383838;white-space:nowrap;left:115.90px;width:40.00px;text-align:center;transform:scaleX(0.9);-webkit-text-stroke:0.14px currentColor;">0019</div><div style="position:absolute;top:639.59px;font-size:8.1px;line-height:10.12px;color:#383838;white-space:nowrap;left:168.60px;transform:scaleX(0.93);transform-origin:0 0;-webkit-text-stroke:0.14px currentColor;">Secretario Técnico de Directorio</div><div style="position:absolute;top:638.99px;font-size:8.3px;line-height:10.38px;color:#a4a4a4;white-space:nowrap;left:384.60px;width:28.67px;text-align:center;transform:scaleX(0.88);">F</div><div style="position:absolute;top:638.99px;font-size:8.3px;line-height:10.38px;color:#a4a4a4;white-space:nowrap;left:413.27px;width:28.67px;text-align:center;transform:scaleX(0.88);">VI</div><div style="position:absolute;top:638.99px;font-size:8.3px;line-height:10.38px;color:#2a2a2a;white-space:nowrap;left:441.93px;width:28.67px;text-align:center;transform:scaleX(0.9);-webkit-text-stroke:0.14px currentColor;">140</div><div style="position:absolute;top:638.99px;font-size:8.3px;line-height:10.38px;color:#a4a4a4;white-space:nowrap;left:470.60px;width:29.23px;text-align:center;transform:scaleX(0.88);">D</div><div style="position:absolute;top:638.99px;font-size:8.3px;line-height:10.38px;color:#a4a4a4;white-space:nowrap;left:499.83px;width:29.23px;text-align:center;transform:scaleX(0.88);">IV</div><div style="position:absolute;top:638.99px;font-size:8.3px;line-height:10.38px;color:#2a2a2a;white-space:nowrap;left:529.07px;width:29.23px;text-align:center;transform:scaleX(0.9);-webkit-text-stroke:0.14px currentColor;">117</div><div style="position:absolute;top:638.99px;font-size:8.3px;line-height:10.38px;color:#a4a4a4;white-space:nowrap;left:558.30px;width:28.70px;text-align:center;transform:scaleX(0.88);">DC</div><div style="position:absolute;top:638.99px;font-size:8.3px;line-height:10.38px;color:#a4a4a4;white-space:nowrap;left:587.00px;width:28.70px;text-align:center;transform:scaleX(0.88);">VI</div><div style="position:absolute;top:638.99px;font-size:8.3px;line-height:10.38px;color:#2a2a2a;white-space:nowrap;left:615.70px;width:28.70px;text-align:center;transform:scaleX(0.9);-webkit-text-stroke:0.14px currentColor;">150</div><div style="position:absolute;top:638.99px;font-size:8.3px;line-height:10.38px;color:#a4a4a4;white-space:nowrap;left:644.40px;width:28.73px;text-align:center;transform:scaleX(0.88);">CC</div><div style="position:absolute;top:638.99px;font-size:8.3px;line-height:10.38px;color:#a4a4a4;white-space:nowrap;left:673.13px;width:28.73px;text-align:center;transform:scaleX(0.88);">V</div><div style="position:absolute;top:638.99px;font-size:8.3px;line-height:10.38px;color:#2a2a2a;white-space:nowrap;left:701.87px;width:28.73px;text-align:center;transform:scaleX(0.9);-webkit-text-stroke:0.14px currentColor;">123</div><div style="position:absolute;top:638.99px;font-size:8.3px;line-height:10.38px;color:#a4a4a4;white-space:nowrap;left:730.60px;width:29.17px;text-align:center;transform:scaleX(0.88);">CC</div><div style="position:absolute;top:638.99px;font-size:8.3px;line-height:10.38px;color:#a4a4a4;white-space:nowrap;left:759.77px;width:29.17px;text-align:center;transform:scaleX(0.88);">V</div><div style="position:absolute;top:638.99px;font-size:8.3px;line-height:10.38px;color:#2a2a2a;white-space:nowrap;left:788.93px;width:29.17px;text-align:center;transform:scaleX(0.9);-webkit-text-stroke:0.14px currentColor;">140</div><div style="position:absolute;top:638.99px;font-size:8.3px;line-height:10.38px;color:#a4a4a4;white-space:nowrap;left:818.10px;width:28.70px;text-align:center;transform:scaleX(0.88);">DC</div><div style="position:absolute;top:638.99px;font-size:8.3px;line-height:10.38px;color:#a4a4a4;white-space:nowrap;left:846.80px;width:28.70px;text-align:center;transform:scaleX(0.88);">VI</div><div style="position:absolute;top:638.99px;font-size:8.3px;line-height:10.38px;color:#2a2a2a;white-space:nowrap;left:875.50px;width:28.70px;text-align:center;transform:scaleX(0.9);-webkit-text-stroke:0.14px currentColor;">111</div><div style="position:absolute;top:638.99px;font-size:8.3px;line-height:10.38px;color:#a4a4a4;white-space:nowrap;left:904.20px;width:28.97px;text-align:center;transform:scaleX(0.88);">CB</div><div style="position:absolute;top:638.99px;font-size:8.3px;line-height:10.38px;color:#a4a4a4;white-space:nowrap;left:933.17px;width:28.97px;text-align:center;transform:scaleX(0.88);">IV</div><div style="position:absolute;top:638.99px;font-size:8.3px;line-height:10.38px;color:#2a2a2a;white-space:nowrap;left:962.13px;width:28.97px;text-align:center;transform:scaleX(0.9);-webkit-text-stroke:0.14px currentColor;">62</div><div style="position:absolute;top:638.99px;font-size:8.3px;line-height:10.38px;color:#f59a3e;white-space:nowrap;left:1009.00px;width:40.00px;text-align:center;transform:scaleX(0.9);">843</div><div style="position:absolute;top:656.81px;font-size:8.1px;line-height:10.12px;color:#383838;white-space:nowrap;left:115.90px;width:40.00px;text-align:center;transform:scaleX(0.9);-webkit-text-stroke:0.14px currentColor;">0020</div><div style="position:absolute;top:656.81px;font-size:8.1px;line-height:10.12px;color:#383838;white-space:nowrap;left:168.60px;transform:scaleX(0.93);transform-origin:0 0;-webkit-text-stroke:0.14px currentColor;">Jefe Tarjeta de Crédito</div><div style="position:absolute;top:656.21px;font-size:8.3px;line-height:10.38px;color:#a4a4a4;white-space:nowrap;left:384.60px;width:28.67px;text-align:center;transform:scaleX(0.88);">D</div><div style="position:absolute;top:656.21px;font-size:8.3px;line-height:10.38px;color:#a4a4a4;white-space:nowrap;left:413.27px;width:28.67px;text-align:center;transform:scaleX(0.88);">IV</div><div style="position:absolute;top:656.21px;font-size:8.3px;line-height:10.38px;color:#2a2a2a;white-space:nowrap;left:441.93px;width:28.67px;text-align:center;transform:scaleX(0.9);-webkit-text-stroke:0.14px currentColor;">90</div><div style="position:absolute;top:656.21px;font-size:8.3px;line-height:10.38px;color:#a4a4a4;white-space:nowrap;left:470.60px;width:29.23px;text-align:center;transform:scaleX(0.88);">D</div><div style="position:absolute;top:656.21px;font-size:8.3px;line-height:10.38px;color:#a4a4a4;white-space:nowrap;left:499.83px;width:29.23px;text-align:center;transform:scaleX(0.88);">IV</div><div style="position:absolute;top:656.21px;font-size:8.3px;line-height:10.38px;color:#2a2a2a;white-space:nowrap;left:529.07px;width:29.23px;text-align:center;transform:scaleX(0.9);-webkit-text-stroke:0.14px currentColor;">117</div><div style="position:absolute;top:656.21px;font-size:8.3px;line-height:10.38px;color:#a4a4a4;white-space:nowrap;left:558.30px;width:28.70px;text-align:center;transform:scaleX(0.88);">CC</div><div style="position:absolute;top:656.21px;font-size:8.3px;line-height:10.38px;color:#a4a4a4;white-space:nowrap;left:587.00px;width:28.70px;text-align:center;transform:scaleX(0.88);">V</div><div style="position:absolute;top:656.21px;font-size:8.3px;line-height:10.38px;color:#2a2a2a;white-space:nowrap;left:615.70px;width:28.70px;text-align:center;transform:scaleX(0.9);-webkit-text-stroke:0.14px currentColor;">123</div><div style="position:absolute;top:656.21px;font-size:8.3px;line-height:10.38px;color:#a4a4a4;white-space:nowrap;left:644.40px;width:28.73px;text-align:center;transform:scaleX(0.88);">CC</div><div style="position:absolute;top:656.21px;font-size:8.3px;line-height:10.38px;color:#a4a4a4;white-space:nowrap;left:673.13px;width:28.73px;text-align:center;transform:scaleX(0.88);">V</div><div style="position:absolute;top:656.21px;font-size:8.3px;line-height:10.38px;color:#2a2a2a;white-space:nowrap;left:701.87px;width:28.73px;text-align:center;transform:scaleX(0.9);-webkit-text-stroke:0.14px currentColor;">123</div><div style="position:absolute;top:656.21px;font-size:8.3px;line-height:10.38px;color:#a4a4a4;white-space:nowrap;left:730.60px;width:29.17px;text-align:center;transform:scaleX(0.88);">BC</div><div style="position:absolute;top:656.21px;font-size:8.3px;line-height:10.38px;color:#a4a4a4;white-space:nowrap;left:759.77px;width:29.17px;text-align:center;transform:scaleX(0.88);">IV</div><div style="position:absolute;top:656.21px;font-size:8.3px;line-height:10.38px;color:#2a2a2a;white-space:nowrap;left:788.93px;width:29.17px;text-align:center;transform:scaleX(0.9);-webkit-text-stroke:0.14px currentColor;">109</div><div style="position:absolute;top:656.21px;font-size:8.3px;line-height:10.38px;color:#a4a4a4;white-space:nowrap;left:818.10px;width:28.70px;text-align:center;transform:scaleX(0.88);">DC</div><div style="position:absolute;top:656.21px;font-size:8.3px;line-height:10.38px;color:#a4a4a4;white-space:nowrap;left:846.80px;width:28.70px;text-align:center;transform:scaleX(0.88);">VI</div><div style="position:absolute;top:656.21px;font-size:8.3px;line-height:10.38px;color:#2a2a2a;white-space:nowrap;left:875.50px;width:28.70px;text-align:center;transform:scaleX(0.9);-webkit-text-stroke:0.14px currentColor;">111</div><div style="position:absolute;top:656.21px;font-size:8.3px;line-height:10.38px;color:#a4a4a4;white-space:nowrap;left:904.20px;width:28.97px;text-align:center;transform:scaleX(0.88);">CC</div><div style="position:absolute;top:656.21px;font-size:8.3px;line-height:10.38px;color:#a4a4a4;white-space:nowrap;left:933.17px;width:28.97px;text-align:center;transform:scaleX(0.88);">V</div><div style="position:absolute;top:656.21px;font-size:8.3px;line-height:10.38px;color:#2a2a2a;white-space:nowrap;left:962.13px;width:28.97px;text-align:center;transform:scaleX(0.9);-webkit-text-stroke:0.14px currentColor;">77</div><div style="position:absolute;top:656.21px;font-size:8.3px;line-height:10.38px;color:#f59a3e;white-space:nowrap;left:1009.00px;width:40.00px;text-align:center;transform:scaleX(0.9);">750</div><div style="position:absolute;top:674.03px;font-size:8.1px;line-height:10.12px;color:#383838;white-space:nowrap;left:115.90px;width:40.00px;text-align:center;transform:scaleX(0.9);-webkit-text-stroke:0.14px currentColor;">0021</div><div style="position:absolute;top:674.03px;font-size:8.1px;line-height:10.12px;color:#383838;white-space:nowrap;left:168.60px;transform:scaleX(0.93);transform-origin:0 0;-webkit-text-stroke:0.14px currentColor;">Jefe de Proyectos Tecnológicos y Desarrollo de Software</div><div style="position:absolute;top:673.43px;font-size:8.3px;line-height:10.38px;color:#a4a4a4;white-space:nowrap;left:384.60px;width:28.67px;text-align:center;transform:scaleX(0.88);">D</div><div style="position:absolute;top:673.43px;font-size:8.3px;line-height:10.38px;color:#a4a4a4;white-space:nowrap;left:413.27px;width:28.67px;text-align:center;transform:scaleX(0.88);">IV</div><div style="position:absolute;top:673.43px;font-size:8.3px;line-height:10.38px;color:#2a2a2a;white-space:nowrap;left:441.93px;width:28.67px;text-align:center;transform:scaleX(0.9);-webkit-text-stroke:0.14px currentColor;">90</div><div style="position:absolute;top:673.43px;font-size:8.3px;line-height:10.38px;color:#a4a4a4;white-space:nowrap;left:470.60px;width:29.23px;text-align:center;transform:scaleX(0.88);">D</div><div style="position:absolute;top:673.43px;font-size:8.3px;line-height:10.38px;color:#a4a4a4;white-space:nowrap;left:499.83px;width:29.23px;text-align:center;transform:scaleX(0.88);">IV</div><div style="position:absolute;top:673.43px;font-size:8.3px;line-height:10.38px;color:#2a2a2a;white-space:nowrap;left:529.07px;width:29.23px;text-align:center;transform:scaleX(0.9);-webkit-text-stroke:0.14px currentColor;">117</div><div style="position:absolute;top:673.43px;font-size:8.3px;line-height:10.38px;color:#a4a4a4;white-space:nowrap;left:558.30px;width:28.70px;text-align:center;transform:scaleX(0.88);">DB</div><div style="position:absolute;top:673.43px;font-size:8.3px;line-height:10.38px;color:#a4a4a4;white-space:nowrap;left:587.00px;width:28.70px;text-align:center;transform:scaleX(0.88);">V</div><div style="position:absolute;top:673.43px;font-size:8.3px;line-height:10.38px;color:#2a2a2a;white-space:nowrap;left:615.70px;width:28.70px;text-align:center;transform:scaleX(0.9);-webkit-text-stroke:0.14px currentColor;">123</div><div style="position:absolute;top:673.43px;font-size:8.3px;line-height:10.38px;color:#a4a4a4;white-space:nowrap;left:644.40px;width:28.73px;text-align:center;transform:scaleX(0.88);">CC</div><div style="position:absolute;top:673.43px;font-size:8.3px;line-height:10.38px;color:#a4a4a4;white-space:nowrap;left:673.13px;width:28.73px;text-align:center;transform:scaleX(0.88);">V</div><div style="position:absolute;top:673.43px;font-size:8.3px;line-height:10.38px;color:#2a2a2a;white-space:nowrap;left:701.87px;width:28.73px;text-align:center;transform:scaleX(0.9);-webkit-text-stroke:0.14px currentColor;">123</div><div style="position:absolute;top:673.43px;font-size:8.3px;line-height:10.38px;color:#a4a4a4;white-space:nowrap;left:730.60px;width:29.17px;text-align:center;transform:scaleX(0.88);">CC</div><div style="position:absolute;top:673.43px;font-size:8.3px;line-height:10.38px;color:#a4a4a4;white-space:nowrap;left:759.77px;width:29.17px;text-align:center;transform:scaleX(0.88);">V</div><div style="position:absolute;top:673.43px;font-size:8.3px;line-height:10.38px;color:#2a2a2a;white-space:nowrap;left:788.93px;width:29.17px;text-align:center;transform:scaleX(0.9);-webkit-text-stroke:0.14px currentColor;">140</div><div style="position:absolute;top:673.43px;font-size:8.3px;line-height:10.38px;color:#a4a4a4;white-space:nowrap;left:818.10px;width:28.70px;text-align:center;transform:scaleX(0.88);">BD</div><div style="position:absolute;top:673.43px;font-size:8.3px;line-height:10.38px;color:#a4a4a4;white-space:nowrap;left:846.80px;width:28.70px;text-align:center;transform:scaleX(0.88);">V</div><div style="position:absolute;top:673.43px;font-size:8.3px;line-height:10.38px;color:#2a2a2a;white-space:nowrap;left:875.50px;width:28.70px;text-align:center;transform:scaleX(0.9);-webkit-text-stroke:0.14px currentColor;">91</div><div style="position:absolute;top:673.43px;font-size:8.3px;line-height:10.38px;color:#a4a4a4;white-space:nowrap;left:904.20px;width:28.97px;text-align:center;transform:scaleX(0.88);">CB</div><div style="position:absolute;top:673.43px;font-size:8.3px;line-height:10.38px;color:#a4a4a4;white-space:nowrap;left:933.17px;width:28.97px;text-align:center;transform:scaleX(0.88);">IV</div><div style="position:absolute;top:673.43px;font-size:8.3px;line-height:10.38px;color:#2a2a2a;white-space:nowrap;left:962.13px;width:28.97px;text-align:center;transform:scaleX(0.9);-webkit-text-stroke:0.14px currentColor;">62</div><div style="position:absolute;top:673.43px;font-size:8.3px;line-height:10.38px;color:#f59a3e;white-space:nowrap;left:1009.00px;width:40.00px;text-align:center;transform:scaleX(0.9);">746</div><div style="position:absolute;top:691.25px;font-size:8.1px;line-height:10.12px;color:#383838;white-space:nowrap;left:115.90px;width:40.00px;text-align:center;transform:scaleX(0.9);-webkit-text-stroke:0.14px currentColor;">0022</div><div style="position:absolute;top:691.25px;font-size:8.1px;line-height:10.12px;color:#383838;white-space:nowrap;left:168.60px;transform:scaleX(0.93);transform-origin:0 0;-webkit-text-stroke:0.14px currentColor;">Jefe de Transformación Digital</div><div style="position:absolute;top:690.65px;font-size:8.3px;line-height:10.38px;color:#a4a4a4;white-space:nowrap;left:384.60px;width:28.67px;text-align:center;transform:scaleX(0.88);">D</div><div style="position:absolute;top:690.65px;font-size:8.3px;line-height:10.38px;color:#a4a4a4;white-space:nowrap;left:413.27px;width:28.67px;text-align:center;transform:scaleX(0.88);">IV</div><div style="position:absolute;top:690.65px;font-size:8.3px;line-height:10.38px;color:#2a2a2a;white-space:nowrap;left:441.93px;width:28.67px;text-align:center;transform:scaleX(0.9);-webkit-text-stroke:0.14px currentColor;">90</div><div style="position:absolute;top:690.65px;font-size:8.3px;line-height:10.38px;color:#a4a4a4;white-space:nowrap;left:470.60px;width:29.23px;text-align:center;transform:scaleX(0.88);">D</div><div style="position:absolute;top:690.65px;font-size:8.3px;line-height:10.38px;color:#a4a4a4;white-space:nowrap;left:499.83px;width:29.23px;text-align:center;transform:scaleX(0.88);">IV</div><div style="position:absolute;top:690.65px;font-size:8.3px;line-height:10.38px;color:#2a2a2a;white-space:nowrap;left:529.07px;width:29.23px;text-align:center;transform:scaleX(0.9);-webkit-text-stroke:0.14px currentColor;">117</div><div style="position:absolute;top:690.65px;font-size:8.3px;line-height:10.38px;color:#a4a4a4;white-space:nowrap;left:558.30px;width:28.70px;text-align:center;transform:scaleX(0.88);">DC</div><div style="position:absolute;top:690.65px;font-size:8.3px;line-height:10.38px;color:#a4a4a4;white-space:nowrap;left:587.00px;width:28.70px;text-align:center;transform:scaleX(0.88);">VI</div><div style="position:absolute;top:690.65px;font-size:8.3px;line-height:10.38px;color:#2a2a2a;white-space:nowrap;left:615.70px;width:28.70px;text-align:center;transform:scaleX(0.9);-webkit-text-stroke:0.14px currentColor;">150</div><div style="position:absolute;top:690.65px;font-size:8.3px;line-height:10.38px;color:#a4a4a4;white-space:nowrap;left:644.40px;width:28.73px;text-align:center;transform:scaleX(0.88);">CC</div><div style="position:absolute;top:690.65px;font-size:8.3px;line-height:10.38px;color:#a4a4a4;white-space:nowrap;left:673.13px;width:28.73px;text-align:center;transform:scaleX(0.88);">V</div><div style="position:absolute;top:690.65px;font-size:8.3px;line-height:10.38px;color:#2a2a2a;white-space:nowrap;left:701.87px;width:28.73px;text-align:center;transform:scaleX(0.9);-webkit-text-stroke:0.14px currentColor;">123</div><div style="position:absolute;top:690.65px;font-size:8.3px;line-height:10.38px;color:#a4a4a4;white-space:nowrap;left:730.60px;width:29.17px;text-align:center;transform:scaleX(0.88);">CB</div><div style="position:absolute;top:690.65px;font-size:8.3px;line-height:10.38px;color:#a4a4a4;white-space:nowrap;left:759.77px;width:29.17px;text-align:center;transform:scaleX(0.88);">IV</div><div style="position:absolute;top:690.65px;font-size:8.3px;line-height:10.38px;color:#2a2a2a;white-space:nowrap;left:788.93px;width:29.17px;text-align:center;transform:scaleX(0.9);-webkit-text-stroke:0.14px currentColor;">109</div><div style="position:absolute;top:690.65px;font-size:8.3px;line-height:10.38px;color:#a4a4a4;white-space:nowrap;left:818.10px;width:28.70px;text-align:center;transform:scaleX(0.88);">CC</div><div style="position:absolute;top:690.65px;font-size:8.3px;line-height:10.38px;color:#a4a4a4;white-space:nowrap;left:846.80px;width:28.70px;text-align:center;transform:scaleX(0.88);">V</div><div style="position:absolute;top:690.65px;font-size:8.3px;line-height:10.38px;color:#2a2a2a;white-space:nowrap;left:875.50px;width:28.70px;text-align:center;transform:scaleX(0.9);-webkit-text-stroke:0.14px currentColor;">91</div><div style="position:absolute;top:690.65px;font-size:8.3px;line-height:10.38px;color:#a4a4a4;white-space:nowrap;left:904.20px;width:28.97px;text-align:center;transform:scaleX(0.88);">BC</div><div style="position:absolute;top:690.65px;font-size:8.3px;line-height:10.38px;color:#a4a4a4;white-space:nowrap;left:933.17px;width:28.97px;text-align:center;transform:scaleX(0.88);">IV</div><div style="position:absolute;top:690.65px;font-size:8.3px;line-height:10.38px;color:#2a2a2a;white-space:nowrap;left:962.13px;width:28.97px;text-align:center;transform:scaleX(0.9);-webkit-text-stroke:0.14px currentColor;">62</div><div style="position:absolute;top:690.65px;font-size:8.3px;line-height:10.38px;color:#f59a3e;white-space:nowrap;left:1009.00px;width:40.00px;text-align:center;transform:scaleX(0.9);">742</div><div style="position:absolute;top:708.47px;font-size:8.1px;line-height:10.12px;color:#383838;white-space:nowrap;left:115.90px;width:40.00px;text-align:center;transform:scaleX(0.9);-webkit-text-stroke:0.14px currentColor;">0023</div><div style="position:absolute;top:708.47px;font-size:8.1px;line-height:10.12px;color:#383838;white-space:nowrap;left:168.60px;transform:scaleX(0.93);transform-origin:0 0;-webkit-text-stroke:0.14px currentColor;">Jefe de Recuperaciones</div><div style="position:absolute;top:707.87px;font-size:8.3px;line-height:10.38px;color:#a4a4a4;white-space:nowrap;left:384.60px;width:28.67px;text-align:center;transform:scaleX(0.88);">D</div><div style="position:absolute;top:707.87px;font-size:8.3px;line-height:10.38px;color:#a4a4a4;white-space:nowrap;left:413.27px;width:28.67px;text-align:center;transform:scaleX(0.88);">IV</div><div style="position:absolute;top:707.87px;font-size:8.3px;line-height:10.38px;color:#2a2a2a;white-space:nowrap;left:441.93px;width:28.67px;text-align:center;transform:scaleX(0.9);-webkit-text-stroke:0.14px currentColor;">90</div><div style="position:absolute;top:707.87px;font-size:8.3px;line-height:10.38px;color:#a4a4a4;white-space:nowrap;left:470.60px;width:29.23px;text-align:center;transform:scaleX(0.88);">D</div><div style="position:absolute;top:707.87px;font-size:8.3px;line-height:10.38px;color:#a4a4a4;white-space:nowrap;left:499.83px;width:29.23px;text-align:center;transform:scaleX(0.88);">IV</div><div style="position:absolute;top:707.87px;font-size:8.3px;line-height:10.38px;color:#2a2a2a;white-space:nowrap;left:529.07px;width:29.23px;text-align:center;transform:scaleX(0.9);-webkit-text-stroke:0.14px currentColor;">117</div><div style="position:absolute;top:707.87px;font-size:8.3px;line-height:10.38px;color:#a4a4a4;white-space:nowrap;left:558.30px;width:28.70px;text-align:center;transform:scaleX(0.88);">CB</div><div style="position:absolute;top:707.87px;font-size:8.3px;line-height:10.38px;color:#a4a4a4;white-space:nowrap;left:587.00px;width:28.70px;text-align:center;transform:scaleX(0.88);">IV</div><div style="position:absolute;top:707.87px;font-size:8.3px;line-height:10.38px;color:#2a2a2a;white-space:nowrap;left:615.70px;width:28.70px;text-align:center;transform:scaleX(0.9);-webkit-text-stroke:0.14px currentColor;">96</div><div style="position:absolute;top:707.87px;font-size:8.3px;line-height:10.38px;color:#a4a4a4;white-space:nowrap;left:644.40px;width:28.73px;text-align:center;transform:scaleX(0.88);">CC</div><div style="position:absolute;top:707.87px;font-size:8.3px;line-height:10.38px;color:#a4a4a4;white-space:nowrap;left:673.13px;width:28.73px;text-align:center;transform:scaleX(0.88);">V</div><div style="position:absolute;top:707.87px;font-size:8.3px;line-height:10.38px;color:#2a2a2a;white-space:nowrap;left:701.87px;width:28.73px;text-align:center;transform:scaleX(0.9);-webkit-text-stroke:0.14px currentColor;">123</div><div style="position:absolute;top:707.87px;font-size:8.3px;line-height:10.38px;color:#a4a4a4;white-space:nowrap;left:730.60px;width:29.17px;text-align:center;transform:scaleX(0.88);">CB</div><div style="position:absolute;top:707.87px;font-size:8.3px;line-height:10.38px;color:#a4a4a4;white-space:nowrap;left:759.77px;width:29.17px;text-align:center;transform:scaleX(0.88);">IV</div><div style="position:absolute;top:707.87px;font-size:8.3px;line-height:10.38px;color:#2a2a2a;white-space:nowrap;left:788.93px;width:29.17px;text-align:center;transform:scaleX(0.9);-webkit-text-stroke:0.14px currentColor;">109</div><div style="position:absolute;top:707.87px;font-size:8.3px;line-height:10.38px;color:#a4a4a4;white-space:nowrap;left:818.10px;width:28.70px;text-align:center;transform:scaleX(0.88);">CC</div><div style="position:absolute;top:707.87px;font-size:8.3px;line-height:10.38px;color:#a4a4a4;white-space:nowrap;left:846.80px;width:28.70px;text-align:center;transform:scaleX(0.88);">V</div><div style="position:absolute;top:707.87px;font-size:8.3px;line-height:10.38px;color:#2a2a2a;white-space:nowrap;left:875.50px;width:28.70px;text-align:center;transform:scaleX(0.9);-webkit-text-stroke:0.14px currentColor;">91</div><div style="position:absolute;top:707.87px;font-size:8.3px;line-height:10.38px;color:#a4a4a4;white-space:nowrap;left:904.20px;width:28.97px;text-align:center;transform:scaleX(0.88);">CE</div><div style="position:absolute;top:707.87px;font-size:8.3px;line-height:10.38px;color:#a4a4a4;white-space:nowrap;left:933.17px;width:28.97px;text-align:center;transform:scaleX(0.88);">VII</div><div style="position:absolute;top:707.87px;font-size:8.3px;line-height:10.38px;color:#2a2a2a;white-space:nowrap;left:962.13px;width:28.97px;text-align:center;transform:scaleX(0.9);-webkit-text-stroke:0.14px currentColor;">109</div><div style="position:absolute;top:707.87px;font-size:8.3px;line-height:10.38px;color:#f59a3e;white-space:nowrap;left:1009.00px;width:40.00px;text-align:center;transform:scaleX(0.9);">735</div><div style="position:absolute;top:725.69px;font-size:8.1px;line-height:10.12px;color:#383838;white-space:nowrap;left:115.90px;width:40.00px;text-align:center;transform:scaleX(0.9);-webkit-text-stroke:0.14px currentColor;">0024</div><div style="position:absolute;top:725.69px;font-size:8.1px;line-height:10.12px;color:#383838;white-space:nowrap;left:168.60px;transform:scaleX(0.93);transform-origin:0 0;-webkit-text-stroke:0.14px currentColor;">Jefe de Supervisión de Agencias</div><div style="position:absolute;top:725.09px;font-size:8.3px;line-height:10.38px;color:#a4a4a4;white-space:nowrap;left:384.60px;width:28.67px;text-align:center;transform:scaleX(0.88);">D</div><div style="position:absolute;top:725.09px;font-size:8.3px;line-height:10.38px;color:#a4a4a4;white-space:nowrap;left:413.27px;width:28.67px;text-align:center;transform:scaleX(0.88);">IV</div><div style="position:absolute;top:725.09px;font-size:8.3px;line-height:10.38px;color:#2a2a2a;white-space:nowrap;left:441.93px;width:28.67px;text-align:center;transform:scaleX(0.9);-webkit-text-stroke:0.14px currentColor;">90</div><div style="position:absolute;top:725.09px;font-size:8.3px;line-height:10.38px;color:#a4a4a4;white-space:nowrap;left:470.60px;width:29.23px;text-align:center;transform:scaleX(0.88);">D</div><div style="position:absolute;top:725.09px;font-size:8.3px;line-height:10.38px;color:#a4a4a4;white-space:nowrap;left:499.83px;width:29.23px;text-align:center;transform:scaleX(0.88);">IV</div><div style="position:absolute;top:725.09px;font-size:8.3px;line-height:10.38px;color:#2a2a2a;white-space:nowrap;left:529.07px;width:29.23px;text-align:center;transform:scaleX(0.9);-webkit-text-stroke:0.14px currentColor;">117</div><div style="position:absolute;top:725.09px;font-size:8.3px;line-height:10.38px;color:#a4a4a4;white-space:nowrap;left:558.30px;width:28.70px;text-align:center;transform:scaleX(0.88);">CC</div><div style="position:absolute;top:725.09px;font-size:8.3px;line-height:10.38px;color:#a4a4a4;white-space:nowrap;left:587.00px;width:28.70px;text-align:center;transform:scaleX(0.88);">V</div><div style="position:absolute;top:725.09px;font-size:8.3px;line-height:10.38px;color:#2a2a2a;white-space:nowrap;left:615.70px;width:28.70px;text-align:center;transform:scaleX(0.9);-webkit-text-stroke:0.14px currentColor;">123</div><div style="position:absolute;top:725.09px;font-size:8.3px;line-height:10.38px;color:#a4a4a4;white-space:nowrap;left:644.40px;width:28.73px;text-align:center;transform:scaleX(0.88);">CB</div><div style="position:absolute;top:725.09px;font-size:8.3px;line-height:10.38px;color:#a4a4a4;white-space:nowrap;left:673.13px;width:28.73px;text-align:center;transform:scaleX(0.88);">IV</div><div style="position:absolute;top:725.09px;font-size:8.3px;line-height:10.38px;color:#2a2a2a;white-space:nowrap;left:701.87px;width:28.73px;text-align:center;transform:scaleX(0.9);-webkit-text-stroke:0.14px currentColor;">96</div><div style="position:absolute;top:725.09px;font-size:8.3px;line-height:10.38px;color:#a4a4a4;white-space:nowrap;left:730.60px;width:29.17px;text-align:center;transform:scaleX(0.88);">CC</div><div style="position:absolute;top:725.09px;font-size:8.3px;line-height:10.38px;color:#a4a4a4;white-space:nowrap;left:759.77px;width:29.17px;text-align:center;transform:scaleX(0.88);">V</div><div style="position:absolute;top:725.09px;font-size:8.3px;line-height:10.38px;color:#2a2a2a;white-space:nowrap;left:788.93px;width:29.17px;text-align:center;transform:scaleX(0.9);-webkit-text-stroke:0.14px currentColor;">140</div><div style="position:absolute;top:725.09px;font-size:8.3px;line-height:10.38px;color:#a4a4a4;white-space:nowrap;left:818.10px;width:28.70px;text-align:center;transform:scaleX(0.88);">BC</div><div style="position:absolute;top:725.09px;font-size:8.3px;line-height:10.38px;color:#a4a4a4;white-space:nowrap;left:846.80px;width:28.70px;text-align:center;transform:scaleX(0.88);">IV</div><div style="position:absolute;top:725.09px;font-size:8.3px;line-height:10.38px;color:#2a2a2a;white-space:nowrap;left:875.50px;width:28.70px;text-align:center;transform:scaleX(0.9);-webkit-text-stroke:0.14px currentColor;">72</div><div style="position:absolute;top:725.09px;font-size:8.3px;line-height:10.38px;color:#a4a4a4;white-space:nowrap;left:904.20px;width:28.97px;text-align:center;transform:scaleX(0.88);">BE</div><div style="position:absolute;top:725.09px;font-size:8.3px;line-height:10.38px;color:#a4a4a4;white-space:nowrap;left:933.17px;width:28.97px;text-align:center;transform:scaleX(0.88);">VI</div><div style="position:absolute;top:725.09px;font-size:8.3px;line-height:10.38px;color:#2a2a2a;white-space:nowrap;left:962.13px;width:28.97px;text-align:center;transform:scaleX(0.9);-webkit-text-stroke:0.14px currentColor;">93</div><div style="position:absolute;top:725.09px;font-size:8.3px;line-height:10.38px;color:#f59a3e;white-space:nowrap;left:1009.00px;width:40.00px;text-align:center;transform:scaleX(0.9);">731</div><div style="position:absolute;top:742.91px;font-size:8.1px;line-height:10.12px;color:#383838;white-space:nowrap;left:115.90px;width:40.00px;text-align:center;transform:scaleX(0.9);-webkit-text-stroke:0.14px currentColor;">0025</div><div style="position:absolute;top:742.91px;font-size:8.1px;line-height:10.12px;color:#383838;white-space:nowrap;left:168.60px;transform:scaleX(0.93);transform-origin:0 0;-webkit-text-stroke:0.14px currentColor;">Jefe Pequeña Empresa</div><div style="position:absolute;top:742.31px;font-size:8.3px;line-height:10.38px;color:#a4a4a4;white-space:nowrap;left:384.60px;width:28.67px;text-align:center;transform:scaleX(0.88);">D</div><div style="position:absolute;top:742.31px;font-size:8.3px;line-height:10.38px;color:#a4a4a4;white-space:nowrap;left:413.27px;width:28.67px;text-align:center;transform:scaleX(0.88);">IV</div><div style="position:absolute;top:742.31px;font-size:8.3px;line-height:10.38px;color:#2a2a2a;white-space:nowrap;left:441.93px;width:28.67px;text-align:center;transform:scaleX(0.9);-webkit-text-stroke:0.14px currentColor;">90</div><div style="position:absolute;top:742.31px;font-size:8.3px;line-height:10.38px;color:#a4a4a4;white-space:nowrap;left:470.60px;width:29.23px;text-align:center;transform:scaleX(0.88);">D</div><div style="position:absolute;top:742.31px;font-size:8.3px;line-height:10.38px;color:#a4a4a4;white-space:nowrap;left:499.83px;width:29.23px;text-align:center;transform:scaleX(0.88);">IV</div><div style="position:absolute;top:742.31px;font-size:8.3px;line-height:10.38px;color:#2a2a2a;white-space:nowrap;left:529.07px;width:29.23px;text-align:center;transform:scaleX(0.9);-webkit-text-stroke:0.14px currentColor;">117</div><div style="position:absolute;top:742.31px;font-size:8.3px;line-height:10.38px;color:#a4a4a4;white-space:nowrap;left:558.30px;width:28.70px;text-align:center;transform:scaleX(0.88);">CC</div><div style="position:absolute;top:742.31px;font-size:8.3px;line-height:10.38px;color:#a4a4a4;white-space:nowrap;left:587.00px;width:28.70px;text-align:center;transform:scaleX(0.88);">V</div><div style="position:absolute;top:742.31px;font-size:8.3px;line-height:10.38px;color:#2a2a2a;white-space:nowrap;left:615.70px;width:28.70px;text-align:center;transform:scaleX(0.9);-webkit-text-stroke:0.14px currentColor;">123</div><div style="position:absolute;top:742.31px;font-size:8.3px;line-height:10.38px;color:#a4a4a4;white-space:nowrap;left:644.40px;width:28.73px;text-align:center;transform:scaleX(0.88);">CC</div><div style="position:absolute;top:742.31px;font-size:8.3px;line-height:10.38px;color:#a4a4a4;white-space:nowrap;left:673.13px;width:28.73px;text-align:center;transform:scaleX(0.88);">V</div><div style="position:absolute;top:742.31px;font-size:8.3px;line-height:10.38px;color:#2a2a2a;white-space:nowrap;left:701.87px;width:28.73px;text-align:center;transform:scaleX(0.9);-webkit-text-stroke:0.14px currentColor;">123</div><div style="position:absolute;top:742.31px;font-size:8.3px;line-height:10.38px;color:#a4a4a4;white-space:nowrap;left:730.60px;width:29.17px;text-align:center;transform:scaleX(0.88);">BC</div><div style="position:absolute;top:742.31px;font-size:8.3px;line-height:10.38px;color:#a4a4a4;white-space:nowrap;left:759.77px;width:29.17px;text-align:center;transform:scaleX(0.88);">IV</div><div style="position:absolute;top:742.31px;font-size:8.3px;line-height:10.38px;color:#2a2a2a;white-space:nowrap;left:788.93px;width:29.17px;text-align:center;transform:scaleX(0.9);-webkit-text-stroke:0.14px currentColor;">109</div><div style="position:absolute;top:742.31px;font-size:8.3px;line-height:10.38px;color:#a4a4a4;white-space:nowrap;left:818.10px;width:28.70px;text-align:center;transform:scaleX(0.88);">CB</div><div style="position:absolute;top:742.31px;font-size:8.3px;line-height:10.38px;color:#a4a4a4;white-space:nowrap;left:846.80px;width:28.70px;text-align:center;transform:scaleX(0.88);">IV</div><div style="position:absolute;top:742.31px;font-size:8.3px;line-height:10.38px;color:#2a2a2a;white-space:nowrap;left:875.50px;width:28.70px;text-align:center;transform:scaleX(0.9);-webkit-text-stroke:0.14px currentColor;">72</div><div style="position:absolute;top:742.31px;font-size:8.3px;line-height:10.38px;color:#a4a4a4;white-space:nowrap;left:904.20px;width:28.97px;text-align:center;transform:scaleX(0.88);">CD</div><div style="position:absolute;top:742.31px;font-size:8.3px;line-height:10.38px;color:#a4a4a4;white-space:nowrap;left:933.17px;width:28.97px;text-align:center;transform:scaleX(0.88);">VI</div><div style="position:absolute;top:742.31px;font-size:8.3px;line-height:10.38px;color:#2a2a2a;white-space:nowrap;left:962.13px;width:28.97px;text-align:center;transform:scaleX(0.9);-webkit-text-stroke:0.14px currentColor;">93</div><div style="position:absolute;top:742.31px;font-size:8.3px;line-height:10.38px;color:#f59a3e;white-space:nowrap;left:1009.00px;width:40.00px;text-align:center;transform:scaleX(0.9);">727</div><div style="position:absolute;top:760.13px;font-size:8.1px;line-height:10.12px;color:#383838;white-space:nowrap;left:115.90px;width:40.00px;text-align:center;transform:scaleX(0.9);-webkit-text-stroke:0.14px currentColor;">0026</div><div style="position:absolute;top:760.13px;font-size:8.1px;line-height:10.12px;color:#383838;white-space:nowrap;left:168.60px;transform:scaleX(0.93);transform-origin:0 0;-webkit-text-stroke:0.14px currentColor;">Jefe de Infraestructura Tecnológica</div><div style="position:absolute;top:759.53px;font-size:8.3px;line-height:10.38px;color:#a4a4a4;white-space:nowrap;left:384.60px;width:28.67px;text-align:center;transform:scaleX(0.88);">D</div><div style="position:absolute;top:759.53px;font-size:8.3px;line-height:10.38px;color:#a4a4a4;white-space:nowrap;left:413.27px;width:28.67px;text-align:center;transform:scaleX(0.88);">IV</div><div style="position:absolute;top:759.53px;font-size:8.3px;line-height:10.38px;color:#2a2a2a;white-space:nowrap;left:441.93px;width:28.67px;text-align:center;transform:scaleX(0.9);-webkit-text-stroke:0.14px currentColor;">90</div><div style="position:absolute;top:759.53px;font-size:8.3px;line-height:10.38px;color:#a4a4a4;white-space:nowrap;left:470.60px;width:29.23px;text-align:center;transform:scaleX(0.88);">D</div><div style="position:absolute;top:759.53px;font-size:8.3px;line-height:10.38px;color:#a4a4a4;white-space:nowrap;left:499.83px;width:29.23px;text-align:center;transform:scaleX(0.88);">IV</div><div style="position:absolute;top:759.53px;font-size:8.3px;line-height:10.38px;color:#2a2a2a;white-space:nowrap;left:529.07px;width:29.23px;text-align:center;transform:scaleX(0.9);-webkit-text-stroke:0.14px currentColor;">117</div><div style="position:absolute;top:759.53px;font-size:8.3px;line-height:10.38px;color:#a4a4a4;white-space:nowrap;left:558.30px;width:28.70px;text-align:center;transform:scaleX(0.88);">DB</div><div style="position:absolute;top:759.53px;font-size:8.3px;line-height:10.38px;color:#a4a4a4;white-space:nowrap;left:587.00px;width:28.70px;text-align:center;transform:scaleX(0.88);">V</div><div style="position:absolute;top:759.53px;font-size:8.3px;line-height:10.38px;color:#2a2a2a;white-space:nowrap;left:615.70px;width:28.70px;text-align:center;transform:scaleX(0.9);-webkit-text-stroke:0.14px currentColor;">123</div><div style="position:absolute;top:759.53px;font-size:8.3px;line-height:10.38px;color:#a4a4a4;white-space:nowrap;left:644.40px;width:28.73px;text-align:center;transform:scaleX(0.88);">CC</div><div style="position:absolute;top:759.53px;font-size:8.3px;line-height:10.38px;color:#a4a4a4;white-space:nowrap;left:673.13px;width:28.73px;text-align:center;transform:scaleX(0.88);">V</div><div style="position:absolute;top:759.53px;font-size:8.3px;line-height:10.38px;color:#2a2a2a;white-space:nowrap;left:701.87px;width:28.73px;text-align:center;transform:scaleX(0.9);-webkit-text-stroke:0.14px currentColor;">123</div><div style="position:absolute;top:759.53px;font-size:8.3px;line-height:10.38px;color:#a4a4a4;white-space:nowrap;left:730.60px;width:29.17px;text-align:center;transform:scaleX(0.88);">CB</div><div style="position:absolute;top:759.53px;font-size:8.3px;line-height:10.38px;color:#a4a4a4;white-space:nowrap;left:759.77px;width:29.17px;text-align:center;transform:scaleX(0.88);">IV</div><div style="position:absolute;top:759.53px;font-size:8.3px;line-height:10.38px;color:#2a2a2a;white-space:nowrap;left:788.93px;width:29.17px;text-align:center;transform:scaleX(0.9);-webkit-text-stroke:0.14px currentColor;">109</div><div style="position:absolute;top:759.53px;font-size:8.3px;line-height:10.38px;color:#a4a4a4;white-space:nowrap;left:818.10px;width:28.70px;text-align:center;transform:scaleX(0.88);">BC</div><div style="position:absolute;top:759.53px;font-size:8.3px;line-height:10.38px;color:#a4a4a4;white-space:nowrap;left:846.80px;width:28.70px;text-align:center;transform:scaleX(0.88);">IV</div><div style="position:absolute;top:759.53px;font-size:8.3px;line-height:10.38px;color:#2a2a2a;white-space:nowrap;left:875.50px;width:28.70px;text-align:center;transform:scaleX(0.9);-webkit-text-stroke:0.14px currentColor;">72</div><div style="position:absolute;top:759.53px;font-size:8.3px;line-height:10.38px;color:#a4a4a4;white-space:nowrap;left:904.20px;width:28.97px;text-align:center;transform:scaleX(0.88);">CC</div><div style="position:absolute;top:759.53px;font-size:8.3px;line-height:10.38px;color:#a4a4a4;white-space:nowrap;left:933.17px;width:28.97px;text-align:center;transform:scaleX(0.88);">V</div><div style="position:absolute;top:759.53px;font-size:8.3px;line-height:10.38px;color:#2a2a2a;white-space:nowrap;left:962.13px;width:28.97px;text-align:center;transform:scaleX(0.9);-webkit-text-stroke:0.14px currentColor;">77</div><div style="position:absolute;top:759.53px;font-size:8.3px;line-height:10.38px;color:#f59a3e;white-space:nowrap;left:1009.00px;width:40.00px;text-align:center;transform:scaleX(0.9);">711</div><div style="position:absolute;top:777.35px;font-size:8.1px;line-height:10.12px;color:#383838;white-space:nowrap;left:115.90px;width:40.00px;text-align:center;transform:scaleX(0.9);-webkit-text-stroke:0.14px currentColor;">0027</div><div style="position:absolute;top:777.35px;font-size:8.1px;line-height:10.12px;color:#383838;white-space:nowrap;left:168.60px;transform:scaleX(0.93);transform-origin:0 0;-webkit-text-stroke:0.14px currentColor;">Jefe de Administración de Personal</div><div style="position:absolute;top:776.75px;font-size:8.3px;line-height:10.38px;color:#a4a4a4;white-space:nowrap;left:384.60px;width:28.67px;text-align:center;transform:scaleX(0.88);">D</div><div style="position:absolute;top:776.75px;font-size:8.3px;line-height:10.38px;color:#a4a4a4;white-space:nowrap;left:413.27px;width:28.67px;text-align:center;transform:scaleX(0.88);">IV</div><div style="position:absolute;top:776.75px;font-size:8.3px;line-height:10.38px;color:#2a2a2a;white-space:nowrap;left:441.93px;width:28.67px;text-align:center;transform:scaleX(0.9);-webkit-text-stroke:0.14px currentColor;">90</div><div style="position:absolute;top:776.75px;font-size:8.3px;line-height:10.38px;color:#a4a4a4;white-space:nowrap;left:470.60px;width:29.23px;text-align:center;transform:scaleX(0.88);">D</div><div style="position:absolute;top:776.75px;font-size:8.3px;line-height:10.38px;color:#a4a4a4;white-space:nowrap;left:499.83px;width:29.23px;text-align:center;transform:scaleX(0.88);">IV</div><div style="position:absolute;top:776.75px;font-size:8.3px;line-height:10.38px;color:#2a2a2a;white-space:nowrap;left:529.07px;width:29.23px;text-align:center;transform:scaleX(0.9);-webkit-text-stroke:0.14px currentColor;">117</div><div style="position:absolute;top:776.75px;font-size:8.3px;line-height:10.38px;color:#a4a4a4;white-space:nowrap;left:558.30px;width:28.70px;text-align:center;transform:scaleX(0.88);">CB</div><div style="position:absolute;top:776.75px;font-size:8.3px;line-height:10.38px;color:#a4a4a4;white-space:nowrap;left:587.00px;width:28.70px;text-align:center;transform:scaleX(0.88);">IV</div><div style="position:absolute;top:776.75px;font-size:8.3px;line-height:10.38px;color:#2a2a2a;white-space:nowrap;left:615.70px;width:28.70px;text-align:center;transform:scaleX(0.9);-webkit-text-stroke:0.14px currentColor;">96</div><div style="position:absolute;top:776.75px;font-size:8.3px;line-height:10.38px;color:#a4a4a4;white-space:nowrap;left:644.40px;width:28.73px;text-align:center;transform:scaleX(0.88);">CC</div><div style="position:absolute;top:776.75px;font-size:8.3px;line-height:10.38px;color:#a4a4a4;white-space:nowrap;left:673.13px;width:28.73px;text-align:center;transform:scaleX(0.88);">V</div><div style="position:absolute;top:776.75px;font-size:8.3px;line-height:10.38px;color:#2a2a2a;white-space:nowrap;left:701.87px;width:28.73px;text-align:center;transform:scaleX(0.9);-webkit-text-stroke:0.14px currentColor;">123</div><div style="position:absolute;top:776.75px;font-size:8.3px;line-height:10.38px;color:#a4a4a4;white-space:nowrap;left:730.60px;width:29.17px;text-align:center;transform:scaleX(0.88);">CB</div><div style="position:absolute;top:776.75px;font-size:8.3px;line-height:10.38px;color:#a4a4a4;white-space:nowrap;left:759.77px;width:29.17px;text-align:center;transform:scaleX(0.88);">IV</div><div style="position:absolute;top:776.75px;font-size:8.3px;line-height:10.38px;color:#2a2a2a;white-space:nowrap;left:788.93px;width:29.17px;text-align:center;transform:scaleX(0.9);-webkit-text-stroke:0.14px currentColor;">109</div><div style="position:absolute;top:776.75px;font-size:8.3px;line-height:10.38px;color:#a4a4a4;white-space:nowrap;left:818.10px;width:28.70px;text-align:center;transform:scaleX(0.88);">CC</div><div style="position:absolute;top:776.75px;font-size:8.3px;line-height:10.38px;color:#a4a4a4;white-space:nowrap;left:846.80px;width:28.70px;text-align:center;transform:scaleX(0.88);">V</div><div style="position:absolute;top:776.75px;font-size:8.3px;line-height:10.38px;color:#2a2a2a;white-space:nowrap;left:875.50px;width:28.70px;text-align:center;transform:scaleX(0.9);-webkit-text-stroke:0.14px currentColor;">91</div><div style="position:absolute;top:776.75px;font-size:8.3px;line-height:10.38px;color:#a4a4a4;white-space:nowrap;left:904.20px;width:28.97px;text-align:center;transform:scaleX(0.88);">CC</div><div style="position:absolute;top:776.75px;font-size:8.3px;line-height:10.38px;color:#a4a4a4;white-space:nowrap;left:933.17px;width:28.97px;text-align:center;transform:scaleX(0.88);">V</div><div style="position:absolute;top:776.75px;font-size:8.3px;line-height:10.38px;color:#2a2a2a;white-space:nowrap;left:962.13px;width:28.97px;text-align:center;transform:scaleX(0.9);-webkit-text-stroke:0.14px currentColor;">77</div><div style="position:absolute;top:776.75px;font-size:8.3px;line-height:10.38px;color:#f59a3e;white-space:nowrap;left:1009.00px;width:40.00px;text-align:center;transform:scaleX(0.9);">703</div><div style="position:absolute;top:794.57px;font-size:8.1px;line-height:10.12px;color:#383838;white-space:nowrap;left:115.90px;width:40.00px;text-align:center;transform:scaleX(0.9);-webkit-text-stroke:0.14px currentColor;">0028</div><div style="position:absolute;top:794.57px;font-size:8.1px;line-height:10.12px;color:#383838;white-space:nowrap;left:168.60px;transform:scaleX(0.93);transform-origin:0 0;-webkit-text-stroke:0.14px currentColor;">Jefe de Cobranza Judicial</div><div style="position:absolute;top:793.97px;font-size:8.3px;line-height:10.38px;color:#a4a4a4;white-space:nowrap;left:384.60px;width:28.67px;text-align:center;transform:scaleX(0.88);">D</div><div style="position:absolute;top:793.97px;font-size:8.3px;line-height:10.38px;color:#a4a4a4;white-space:nowrap;left:413.27px;width:28.67px;text-align:center;transform:scaleX(0.88);">IV</div><div style="position:absolute;top:793.97px;font-size:8.3px;line-height:10.38px;color:#2a2a2a;white-space:nowrap;left:441.93px;width:28.67px;text-align:center;transform:scaleX(0.9);-webkit-text-stroke:0.14px currentColor;">90</div><div style="position:absolute;top:793.97px;font-size:8.3px;line-height:10.38px;color:#a4a4a4;white-space:nowrap;left:470.60px;width:29.23px;text-align:center;transform:scaleX(0.88);">D</div><div style="position:absolute;top:793.97px;font-size:8.3px;line-height:10.38px;color:#a4a4a4;white-space:nowrap;left:499.83px;width:29.23px;text-align:center;transform:scaleX(0.88);">IV</div><div style="position:absolute;top:793.97px;font-size:8.3px;line-height:10.38px;color:#2a2a2a;white-space:nowrap;left:529.07px;width:29.23px;text-align:center;transform:scaleX(0.9);-webkit-text-stroke:0.14px currentColor;">117</div><div style="position:absolute;top:793.97px;font-size:8.3px;line-height:10.38px;color:#a4a4a4;white-space:nowrap;left:558.30px;width:28.70px;text-align:center;transform:scaleX(0.88);">CB</div><div style="position:absolute;top:793.97px;font-size:8.3px;line-height:10.38px;color:#a4a4a4;white-space:nowrap;left:587.00px;width:28.70px;text-align:center;transform:scaleX(0.88);">IV</div><div style="position:absolute;top:793.97px;font-size:8.3px;line-height:10.38px;color:#2a2a2a;white-space:nowrap;left:615.70px;width:28.70px;text-align:center;transform:scaleX(0.9);-webkit-text-stroke:0.14px currentColor;">96</div><div style="position:absolute;top:793.97px;font-size:8.3px;line-height:10.38px;color:#a4a4a4;white-space:nowrap;left:644.40px;width:28.73px;text-align:center;transform:scaleX(0.88);">CC</div><div style="position:absolute;top:793.97px;font-size:8.3px;line-height:10.38px;color:#a4a4a4;white-space:nowrap;left:673.13px;width:28.73px;text-align:center;transform:scaleX(0.88);">V</div><div style="position:absolute;top:793.97px;font-size:8.3px;line-height:10.38px;color:#2a2a2a;white-space:nowrap;left:701.87px;width:28.73px;text-align:center;transform:scaleX(0.9);-webkit-text-stroke:0.14px currentColor;">123</div><div style="position:absolute;top:793.97px;font-size:8.3px;line-height:10.38px;color:#a4a4a4;white-space:nowrap;left:730.60px;width:29.17px;text-align:center;transform:scaleX(0.88);">CB</div><div style="position:absolute;top:793.97px;font-size:8.3px;line-height:10.38px;color:#a4a4a4;white-space:nowrap;left:759.77px;width:29.17px;text-align:center;transform:scaleX(0.88);">IV</div><div style="position:absolute;top:793.97px;font-size:8.3px;line-height:10.38px;color:#2a2a2a;white-space:nowrap;left:788.93px;width:29.17px;text-align:center;transform:scaleX(0.9);-webkit-text-stroke:0.14px currentColor;">109</div><div style="position:absolute;top:793.97px;font-size:8.3px;line-height:10.38px;color:#a4a4a4;white-space:nowrap;left:818.10px;width:28.70px;text-align:center;transform:scaleX(0.88);">CC</div><div style="position:absolute;top:793.97px;font-size:8.3px;line-height:10.38px;color:#a4a4a4;white-space:nowrap;left:846.80px;width:28.70px;text-align:center;transform:scaleX(0.88);">V</div><div style="position:absolute;top:793.97px;font-size:8.3px;line-height:10.38px;color:#2a2a2a;white-space:nowrap;left:875.50px;width:28.70px;text-align:center;transform:scaleX(0.9);-webkit-text-stroke:0.14px currentColor;">91</div><div style="position:absolute;top:793.97px;font-size:8.3px;line-height:10.38px;color:#a4a4a4;white-space:nowrap;left:904.20px;width:28.97px;text-align:center;transform:scaleX(0.88);">CC</div><div style="position:absolute;top:793.97px;font-size:8.3px;line-height:10.38px;color:#a4a4a4;white-space:nowrap;left:933.17px;width:28.97px;text-align:center;transform:scaleX(0.88);">V</div><div style="position:absolute;top:793.97px;font-size:8.3px;line-height:10.38px;color:#2a2a2a;white-space:nowrap;left:962.13px;width:28.97px;text-align:center;transform:scaleX(0.9);-webkit-text-stroke:0.14px currentColor;">77</div><div style="position:absolute;top:793.97px;font-size:8.3px;line-height:10.38px;color:#f59a3e;white-space:nowrap;left:1009.00px;width:40.00px;text-align:center;transform:scaleX(0.9);">703</div><div style="position:absolute;top:811.79px;font-size:8.1px;line-height:10.12px;color:#383838;white-space:nowrap;left:115.90px;width:40.00px;text-align:center;transform:scaleX(0.9);-webkit-text-stroke:0.14px currentColor;">0029</div><div style="position:absolute;top:811.79px;font-size:8.1px;line-height:10.12px;color:#383838;white-space:nowrap;left:168.60px;transform:scaleX(0.93);transform-origin:0 0;-webkit-text-stroke:0.14px currentColor;">Jefe de Auditoría Interna</div><div style="position:absolute;top:811.19px;font-size:8.3px;line-height:10.38px;color:#a4a4a4;white-space:nowrap;left:384.60px;width:28.67px;text-align:center;transform:scaleX(0.88);">D</div><div style="position:absolute;top:811.19px;font-size:8.3px;line-height:10.38px;color:#a4a4a4;white-space:nowrap;left:413.27px;width:28.67px;text-align:center;transform:scaleX(0.88);">IV</div><div style="position:absolute;top:811.19px;font-size:8.3px;line-height:10.38px;color:#2a2a2a;white-space:nowrap;left:441.93px;width:28.67px;text-align:center;transform:scaleX(0.9);-webkit-text-stroke:0.14px currentColor;">90</div><div style="position:absolute;top:811.19px;font-size:8.3px;line-height:10.38px;color:#a4a4a4;white-space:nowrap;left:470.60px;width:29.23px;text-align:center;transform:scaleX(0.88);">D</div><div style="position:absolute;top:811.19px;font-size:8.3px;line-height:10.38px;color:#a4a4a4;white-space:nowrap;left:499.83px;width:29.23px;text-align:center;transform:scaleX(0.88);">IV</div><div style="position:absolute;top:811.19px;font-size:8.3px;line-height:10.38px;color:#2a2a2a;white-space:nowrap;left:529.07px;width:29.23px;text-align:center;transform:scaleX(0.9);-webkit-text-stroke:0.14px currentColor;">117</div><div style="position:absolute;top:811.19px;font-size:8.3px;line-height:10.38px;color:#a4a4a4;white-space:nowrap;left:558.30px;width:28.70px;text-align:center;transform:scaleX(0.88);">CB</div><div style="position:absolute;top:811.19px;font-size:8.3px;line-height:10.38px;color:#a4a4a4;white-space:nowrap;left:587.00px;width:28.70px;text-align:center;transform:scaleX(0.88);">IV</div><div style="position:absolute;top:811.19px;font-size:8.3px;line-height:10.38px;color:#2a2a2a;white-space:nowrap;left:615.70px;width:28.70px;text-align:center;transform:scaleX(0.9);-webkit-text-stroke:0.14px currentColor;">96</div><div style="position:absolute;top:811.19px;font-size:8.3px;line-height:10.38px;color:#a4a4a4;white-space:nowrap;left:644.40px;width:28.73px;text-align:center;transform:scaleX(0.88);">CB</div><div style="position:absolute;top:811.19px;font-size:8.3px;line-height:10.38px;color:#a4a4a4;white-space:nowrap;left:673.13px;width:28.73px;text-align:center;transform:scaleX(0.88);">IV</div><div style="position:absolute;top:811.19px;font-size:8.3px;line-height:10.38px;color:#2a2a2a;white-space:nowrap;left:701.87px;width:28.73px;text-align:center;transform:scaleX(0.9);-webkit-text-stroke:0.14px currentColor;">96</div><div style="position:absolute;top:811.19px;font-size:8.3px;line-height:10.38px;color:#a4a4a4;white-space:nowrap;left:730.60px;width:29.17px;text-align:center;transform:scaleX(0.88);">CB</div><div style="position:absolute;top:811.19px;font-size:8.3px;line-height:10.38px;color:#a4a4a4;white-space:nowrap;left:759.77px;width:29.17px;text-align:center;transform:scaleX(0.88);">IV</div><div style="position:absolute;top:811.19px;font-size:8.3px;line-height:10.38px;color:#2a2a2a;white-space:nowrap;left:788.93px;width:29.17px;text-align:center;transform:scaleX(0.9);-webkit-text-stroke:0.14px currentColor;">109</div><div style="position:absolute;top:811.19px;font-size:8.3px;line-height:10.38px;color:#a4a4a4;white-space:nowrap;left:818.10px;width:28.70px;text-align:center;transform:scaleX(0.88);">CC</div><div style="position:absolute;top:811.19px;font-size:8.3px;line-height:10.38px;color:#a4a4a4;white-space:nowrap;left:846.80px;width:28.70px;text-align:center;transform:scaleX(0.88);">V</div><div style="position:absolute;top:811.19px;font-size:8.3px;line-height:10.38px;color:#2a2a2a;white-space:nowrap;left:875.50px;width:28.70px;text-align:center;transform:scaleX(0.9);-webkit-text-stroke:0.14px currentColor;">91</div><div style="position:absolute;top:811.19px;font-size:8.3px;line-height:10.38px;color:#a4a4a4;white-space:nowrap;left:904.20px;width:28.97px;text-align:center;transform:scaleX(0.88);">CD</div><div style="position:absolute;top:811.19px;font-size:8.3px;line-height:10.38px;color:#a4a4a4;white-space:nowrap;left:933.17px;width:28.97px;text-align:center;transform:scaleX(0.88);">VI</div><div style="position:absolute;top:811.19px;font-size:8.3px;line-height:10.38px;color:#2a2a2a;white-space:nowrap;left:962.13px;width:28.97px;text-align:center;transform:scaleX(0.9);-webkit-text-stroke:0.14px currentColor;">93</div><div style="position:absolute;top:811.19px;font-size:8.3px;line-height:10.38px;color:#f59a3e;white-space:nowrap;left:1009.00px;width:40.00px;text-align:center;transform:scaleX(0.9);">692</div><div style="position:absolute;top:829.01px;font-size:8.1px;line-height:10.12px;color:#383838;white-space:nowrap;left:115.90px;width:40.00px;text-align:center;transform:scaleX(0.9);-webkit-text-stroke:0.14px currentColor;">0030</div><div style="position:absolute;top:829.01px;font-size:8.1px;line-height:10.12px;color:#383838;white-space:nowrap;left:168.60px;transform:scaleX(0.93);transform-origin:0 0;-webkit-text-stroke:0.14px currentColor;">Jefe de Capacitación y Comunicación Interna</div><div style="position:absolute;top:828.41px;font-size:8.3px;line-height:10.38px;color:#a4a4a4;white-space:nowrap;left:384.60px;width:28.67px;text-align:center;transform:scaleX(0.88);">D</div><div style="position:absolute;top:828.41px;font-size:8.3px;line-height:10.38px;color:#a4a4a4;white-space:nowrap;left:413.27px;width:28.67px;text-align:center;transform:scaleX(0.88);">IV</div><div style="position:absolute;top:828.41px;font-size:8.3px;line-height:10.38px;color:#2a2a2a;white-space:nowrap;left:441.93px;width:28.67px;text-align:center;transform:scaleX(0.9);-webkit-text-stroke:0.14px currentColor;">90</div><div style="position:absolute;top:828.41px;font-size:8.3px;line-height:10.38px;color:#a4a4a4;white-space:nowrap;left:470.60px;width:29.23px;text-align:center;transform:scaleX(0.88);">D</div><div style="position:absolute;top:828.41px;font-size:8.3px;line-height:10.38px;color:#a4a4a4;white-space:nowrap;left:499.83px;width:29.23px;text-align:center;transform:scaleX(0.88);">IV</div><div style="position:absolute;top:828.41px;font-size:8.3px;line-height:10.38px;color:#2a2a2a;white-space:nowrap;left:529.07px;width:29.23px;text-align:center;transform:scaleX(0.9);-webkit-text-stroke:0.14px currentColor;">117</div><div style="position:absolute;top:828.41px;font-size:8.3px;line-height:10.38px;color:#a4a4a4;white-space:nowrap;left:558.30px;width:28.70px;text-align:center;transform:scaleX(0.88);">CB</div><div style="position:absolute;top:828.41px;font-size:8.3px;line-height:10.38px;color:#a4a4a4;white-space:nowrap;left:587.00px;width:28.70px;text-align:center;transform:scaleX(0.88);">IV</div><div style="position:absolute;top:828.41px;font-size:8.3px;line-height:10.38px;color:#2a2a2a;white-space:nowrap;left:615.70px;width:28.70px;text-align:center;transform:scaleX(0.9);-webkit-text-stroke:0.14px currentColor;">96</div><div style="position:absolute;top:828.41px;font-size:8.3px;line-height:10.38px;color:#a4a4a4;white-space:nowrap;left:644.40px;width:28.73px;text-align:center;transform:scaleX(0.88);">CC</div><div style="position:absolute;top:828.41px;font-size:8.3px;line-height:10.38px;color:#a4a4a4;white-space:nowrap;left:673.13px;width:28.73px;text-align:center;transform:scaleX(0.88);">V</div><div style="position:absolute;top:828.41px;font-size:8.3px;line-height:10.38px;color:#2a2a2a;white-space:nowrap;left:701.87px;width:28.73px;text-align:center;transform:scaleX(0.9);-webkit-text-stroke:0.14px currentColor;">123</div><div style="position:absolute;top:828.41px;font-size:8.3px;line-height:10.38px;color:#a4a4a4;white-space:nowrap;left:730.60px;width:29.17px;text-align:center;transform:scaleX(0.88);">CB</div><div style="position:absolute;top:828.41px;font-size:8.3px;line-height:10.38px;color:#a4a4a4;white-space:nowrap;left:759.77px;width:29.17px;text-align:center;transform:scaleX(0.88);">IV</div><div style="position:absolute;top:828.41px;font-size:8.3px;line-height:10.38px;color:#2a2a2a;white-space:nowrap;left:788.93px;width:29.17px;text-align:center;transform:scaleX(0.9);-webkit-text-stroke:0.14px currentColor;">109</div><div style="position:absolute;top:828.41px;font-size:8.3px;line-height:10.38px;color:#a4a4a4;white-space:nowrap;left:818.10px;width:28.70px;text-align:center;transform:scaleX(0.88);">CC</div><div style="position:absolute;top:828.41px;font-size:8.3px;line-height:10.38px;color:#a4a4a4;white-space:nowrap;left:846.80px;width:28.70px;text-align:center;transform:scaleX(0.88);">V</div><div style="position:absolute;top:828.41px;font-size:8.3px;line-height:10.38px;color:#2a2a2a;white-space:nowrap;left:875.50px;width:28.70px;text-align:center;transform:scaleX(0.9);-webkit-text-stroke:0.14px currentColor;">91</div><div style="position:absolute;top:828.41px;font-size:8.3px;line-height:10.38px;color:#a4a4a4;white-space:nowrap;left:904.20px;width:28.97px;text-align:center;transform:scaleX(0.88);">CB</div><div style="position:absolute;top:828.41px;font-size:8.3px;line-height:10.38px;color:#a4a4a4;white-space:nowrap;left:933.17px;width:28.97px;text-align:center;transform:scaleX(0.88);">IV</div><div style="position:absolute;top:828.41px;font-size:8.3px;line-height:10.38px;color:#2a2a2a;white-space:nowrap;left:962.13px;width:28.97px;text-align:center;transform:scaleX(0.9);-webkit-text-stroke:0.14px currentColor;">62</div><div style="position:absolute;top:828.41px;font-size:8.3px;line-height:10.38px;color:#f59a3e;white-space:nowrap;left:1009.00px;width:40.00px;text-align:center;transform:scaleX(0.9);">688</div><div style="position:absolute;top:846.23px;font-size:8.1px;line-height:10.12px;color:#383838;white-space:nowrap;left:115.90px;width:40.00px;text-align:center;transform:scaleX(0.9);-webkit-text-stroke:0.14px currentColor;">0031</div><div style="position:absolute;top:846.23px;font-size:8.1px;line-height:10.12px;color:#383838;white-space:nowrap;left:168.60px;transform:scaleX(0.93);transform-origin:0 0;-webkit-text-stroke:0.14px currentColor;">Jefe de Consumo</div><div style="position:absolute;top:845.63px;font-size:8.3px;line-height:10.38px;color:#a4a4a4;white-space:nowrap;left:384.60px;width:28.67px;text-align:center;transform:scaleX(0.88);">D</div><div style="position:absolute;top:845.63px;font-size:8.3px;line-height:10.38px;color:#a4a4a4;white-space:nowrap;left:413.27px;width:28.67px;text-align:center;transform:scaleX(0.88);">IV</div><div style="position:absolute;top:845.63px;font-size:8.3px;line-height:10.38px;color:#2a2a2a;white-space:nowrap;left:441.93px;width:28.67px;text-align:center;transform:scaleX(0.9);-webkit-text-stroke:0.14px currentColor;">90</div><div style="position:absolute;top:845.63px;font-size:8.3px;line-height:10.38px;color:#a4a4a4;white-space:nowrap;left:470.60px;width:29.23px;text-align:center;transform:scaleX(0.88);">D</div><div style="position:absolute;top:845.63px;font-size:8.3px;line-height:10.38px;color:#a4a4a4;white-space:nowrap;left:499.83px;width:29.23px;text-align:center;transform:scaleX(0.88);">IV</div><div style="position:absolute;top:845.63px;font-size:8.3px;line-height:10.38px;color:#2a2a2a;white-space:nowrap;left:529.07px;width:29.23px;text-align:center;transform:scaleX(0.9);-webkit-text-stroke:0.14px currentColor;">117</div><div style="position:absolute;top:845.63px;font-size:8.3px;line-height:10.38px;color:#a4a4a4;white-space:nowrap;left:558.30px;width:28.70px;text-align:center;transform:scaleX(0.88);">CB</div><div style="position:absolute;top:845.63px;font-size:8.3px;line-height:10.38px;color:#a4a4a4;white-space:nowrap;left:587.00px;width:28.70px;text-align:center;transform:scaleX(0.88);">IV</div><div style="position:absolute;top:845.63px;font-size:8.3px;line-height:10.38px;color:#2a2a2a;white-space:nowrap;left:615.70px;width:28.70px;text-align:center;transform:scaleX(0.9);-webkit-text-stroke:0.14px currentColor;">96</div><div style="position:absolute;top:845.63px;font-size:8.3px;line-height:10.38px;color:#a4a4a4;white-space:nowrap;left:644.40px;width:28.73px;text-align:center;transform:scaleX(0.88);">CC</div><div style="position:absolute;top:845.63px;font-size:8.3px;line-height:10.38px;color:#a4a4a4;white-space:nowrap;left:673.13px;width:28.73px;text-align:center;transform:scaleX(0.88);">V</div><div style="position:absolute;top:845.63px;font-size:8.3px;line-height:10.38px;color:#2a2a2a;white-space:nowrap;left:701.87px;width:28.73px;text-align:center;transform:scaleX(0.9);-webkit-text-stroke:0.14px currentColor;">123</div><div style="position:absolute;top:845.63px;font-size:8.3px;line-height:10.38px;color:#a4a4a4;white-space:nowrap;left:730.60px;width:29.17px;text-align:center;transform:scaleX(0.88);">BC</div><div style="position:absolute;top:845.63px;font-size:8.3px;line-height:10.38px;color:#a4a4a4;white-space:nowrap;left:759.77px;width:29.17px;text-align:center;transform:scaleX(0.88);">IV</div><div style="position:absolute;top:845.63px;font-size:8.3px;line-height:10.38px;color:#2a2a2a;white-space:nowrap;left:788.93px;width:29.17px;text-align:center;transform:scaleX(0.9);-webkit-text-stroke:0.14px currentColor;">109</div><div style="position:absolute;top:845.63px;font-size:8.3px;line-height:10.38px;color:#a4a4a4;white-space:nowrap;left:818.10px;width:28.70px;text-align:center;transform:scaleX(0.88);">CC</div><div style="position:absolute;top:845.63px;font-size:8.3px;line-height:10.38px;color:#a4a4a4;white-space:nowrap;left:846.80px;width:28.70px;text-align:center;transform:scaleX(0.88);">V</div><div style="position:absolute;top:845.63px;font-size:8.3px;line-height:10.38px;color:#2a2a2a;white-space:nowrap;left:875.50px;width:28.70px;text-align:center;transform:scaleX(0.9);-webkit-text-stroke:0.14px currentColor;">91</div><div style="position:absolute;top:845.63px;font-size:8.3px;line-height:10.38px;color:#a4a4a4;white-space:nowrap;left:904.20px;width:28.97px;text-align:center;transform:scaleX(0.88);">BC</div><div style="position:absolute;top:845.63px;font-size:8.3px;line-height:10.38px;color:#a4a4a4;white-space:nowrap;left:933.17px;width:28.97px;text-align:center;transform:scaleX(0.88);">IV</div><div style="position:absolute;top:845.63px;font-size:8.3px;line-height:10.38px;color:#2a2a2a;white-space:nowrap;left:962.13px;width:28.97px;text-align:center;transform:scaleX(0.9);-webkit-text-stroke:0.14px currentColor;">62</div><div style="position:absolute;top:845.63px;font-size:8.3px;line-height:10.38px;color:#f59a3e;white-space:nowrap;left:1009.00px;width:40.00px;text-align:center;transform:scaleX(0.9);">688</div><div style="position:absolute;top:863.45px;font-size:8.1px;line-height:10.12px;color:#383838;white-space:nowrap;left:115.90px;width:40.00px;text-align:center;transform:scaleX(0.9);-webkit-text-stroke:0.14px currentColor;">0032</div><div style="position:absolute;top:863.45px;font-size:8.1px;line-height:10.12px;color:#383838;white-space:nowrap;left:168.60px;transform:scaleX(0.93);transform-origin:0 0;-webkit-text-stroke:0.14px currentColor;">Jefe de Crédito Agropecuario</div><div style="position:absolute;top:862.85px;font-size:8.3px;line-height:10.38px;color:#a4a4a4;white-space:nowrap;left:384.60px;width:28.67px;text-align:center;transform:scaleX(0.88);">D</div><div style="position:absolute;top:862.85px;font-size:8.3px;line-height:10.38px;color:#a4a4a4;white-space:nowrap;left:413.27px;width:28.67px;text-align:center;transform:scaleX(0.88);">IV</div><div style="position:absolute;top:862.85px;font-size:8.3px;line-height:10.38px;color:#2a2a2a;white-space:nowrap;left:441.93px;width:28.67px;text-align:center;transform:scaleX(0.9);-webkit-text-stroke:0.14px currentColor;">90</div><div style="position:absolute;top:862.85px;font-size:8.3px;line-height:10.38px;color:#a4a4a4;white-space:nowrap;left:470.60px;width:29.23px;text-align:center;transform:scaleX(0.88);">D</div><div style="position:absolute;top:862.85px;font-size:8.3px;line-height:10.38px;color:#a4a4a4;white-space:nowrap;left:499.83px;width:29.23px;text-align:center;transform:scaleX(0.88);">IV</div><div style="position:absolute;top:862.85px;font-size:8.3px;line-height:10.38px;color:#2a2a2a;white-space:nowrap;left:529.07px;width:29.23px;text-align:center;transform:scaleX(0.9);-webkit-text-stroke:0.14px currentColor;">117</div><div style="position:absolute;top:862.85px;font-size:8.3px;line-height:10.38px;color:#a4a4a4;white-space:nowrap;left:558.30px;width:28.70px;text-align:center;transform:scaleX(0.88);">CB</div><div style="position:absolute;top:862.85px;font-size:8.3px;line-height:10.38px;color:#a4a4a4;white-space:nowrap;left:587.00px;width:28.70px;text-align:center;transform:scaleX(0.88);">IV</div><div style="position:absolute;top:862.85px;font-size:8.3px;line-height:10.38px;color:#2a2a2a;white-space:nowrap;left:615.70px;width:28.70px;text-align:center;transform:scaleX(0.9);-webkit-text-stroke:0.14px currentColor;">96</div><div style="position:absolute;top:862.85px;font-size:8.3px;line-height:10.38px;color:#a4a4a4;white-space:nowrap;left:644.40px;width:28.73px;text-align:center;transform:scaleX(0.88);">CC</div><div style="position:absolute;top:862.85px;font-size:8.3px;line-height:10.38px;color:#a4a4a4;white-space:nowrap;left:673.13px;width:28.73px;text-align:center;transform:scaleX(0.88);">V</div><div style="position:absolute;top:862.85px;font-size:8.3px;line-height:10.38px;color:#2a2a2a;white-space:nowrap;left:701.87px;width:28.73px;text-align:center;transform:scaleX(0.9);-webkit-text-stroke:0.14px currentColor;">123</div><div style="position:absolute;top:862.85px;font-size:8.3px;line-height:10.38px;color:#a4a4a4;white-space:nowrap;left:730.60px;width:29.17px;text-align:center;transform:scaleX(0.88);">BC</div><div style="position:absolute;top:862.85px;font-size:8.3px;line-height:10.38px;color:#a4a4a4;white-space:nowrap;left:759.77px;width:29.17px;text-align:center;transform:scaleX(0.88);">IV</div><div style="position:absolute;top:862.85px;font-size:8.3px;line-height:10.38px;color:#2a2a2a;white-space:nowrap;left:788.93px;width:29.17px;text-align:center;transform:scaleX(0.9);-webkit-text-stroke:0.14px currentColor;">109</div><div style="position:absolute;top:862.85px;font-size:8.3px;line-height:10.38px;color:#a4a4a4;white-space:nowrap;left:818.10px;width:28.70px;text-align:center;transform:scaleX(0.88);">CC</div><div style="position:absolute;top:862.85px;font-size:8.3px;line-height:10.38px;color:#a4a4a4;white-space:nowrap;left:846.80px;width:28.70px;text-align:center;transform:scaleX(0.88);">V</div><div style="position:absolute;top:862.85px;font-size:8.3px;line-height:10.38px;color:#2a2a2a;white-space:nowrap;left:875.50px;width:28.70px;text-align:center;transform:scaleX(0.9);-webkit-text-stroke:0.14px currentColor;">91</div><div style="position:absolute;top:862.85px;font-size:8.3px;line-height:10.38px;color:#a4a4a4;white-space:nowrap;left:904.20px;width:28.97px;text-align:center;transform:scaleX(0.88);">BC</div><div style="position:absolute;top:862.85px;font-size:8.3px;line-height:10.38px;color:#a4a4a4;white-space:nowrap;left:933.17px;width:28.97px;text-align:center;transform:scaleX(0.88);">IV</div><div style="position:absolute;top:862.85px;font-size:8.3px;line-height:10.38px;color:#2a2a2a;white-space:nowrap;left:962.13px;width:28.97px;text-align:center;transform:scaleX(0.9);-webkit-text-stroke:0.14px currentColor;">62</div><div style="position:absolute;top:862.85px;font-size:8.3px;line-height:10.38px;color:#f59a3e;white-space:nowrap;left:1009.00px;width:40.00px;text-align:center;transform:scaleX(0.9);">688</div><div style="position:absolute;left:80.80px;top:880.00px;width:999.20px;height:18.50px;background:#eeeeee;border-top:0.8px solid #d6d6d6;"></div><div style="position:absolute;left:120.60px;top:882.00px;width:0.80px;height:14.00px;background:#dcdcdc;"></div><svg style="position:absolute;left:88px;top:884.6px" width="30" height="10" viewBox="0 0 30 10"><path d="M7,2 l-4,3 l4,3 z M19,2 l4,3 l-4,3 z" fill="#b8b8b8"/></svg><div style="position:absolute;left:124.20px;top:882.00px;width:59.20px;height:13.60px;background:#02559b;"></div><svg style="position:absolute;left:137.9px;top:885.0px" width="8" height="9" viewBox="0 0 8 9"><path d="M1.9,3.9 v-1.3 a1.6,1.6 0 0 1 3.2,0 v1.3" fill="none" stroke="#c9d9ea" stroke-width="1.1"/><rect x="0.6" y="3.7" width="5.8" height="3.6" rx="0.5" fill="#c9d9ea"/></svg><div style="position:absolute;top:883.64px;font-size:8.6px;line-height:10.75px;color:#eef3f8;white-space:nowrap;left:148.50px;">Inicio</div><div style="position:absolute;left:188.30px;top:882.00px;width:63.70px;height:13.60px;background:#02559b;"></div><svg style="position:absolute;left:196.0px;top:885.0px" width="8" height="9" viewBox="0 0 8 9"><path d="M1.9,3.9 v-1.3 a1.6,1.6 0 0 1 3.2,0 v1.3" fill="none" stroke="#c9d9ea" stroke-width="1.1"/><rect x="0.6" y="3.7" width="5.8" height="3.6" rx="0.5" fill="#c9d9ea"/></svg><div style="position:absolute;top:883.64px;font-size:8.6px;line-height:10.75px;color:#eef3f8;white-space:nowrap;left:205.50px;">Resumen</div><svg style="position:absolute;left:264.6px;top:885.0px" width="8" height="9" viewBox="0 0 8 9"><path d="M1.9,3.9 v-1.3 a1.6,1.6 0 0 1 3.2,0 v1.3" fill="none" stroke="#5a5a5a" stroke-width="1.1"/><rect x="0.6" y="3.7" width="5.8" height="3.6" rx="0.5" fill="#5a5a5a"/></svg><div style="position:absolute;top:883.64px;font-size:8.6px;line-height:10.75px;color:#8a8a8a;white-space:nowrap;left:275.00px;">Factores</div><div style="position:absolute;left:320.30px;top:882.50px;width:0.80px;height:13.00px;background:#d0d0d0;"></div><svg style="position:absolute;left:330.8px;top:885.0px" width="8" height="9" viewBox="0 0 8 9"><path d="M1.9,3.9 v-1.3 a1.6,1.6 0 0 1 3.2,0 v1.3" fill="none" stroke="#5a5a5a" stroke-width="1.1"/><rect x="0.6" y="3.7" width="5.8" height="3.6" rx="0.5" fill="#5a5a5a"/></svg><div style="position:absolute;top:883.64px;font-size:8.6px;line-height:10.75px;color:#8a8a8a;white-space:nowrap;left:341.00px;">Categorias</div><div style="position:absolute;left:395.00px;top:882.50px;width:0.80px;height:13.00px;background:#d0d0d0;"></div><div style="position:absolute;left:396.30px;top:879.80px;width:67.60px;height:15.20px;background:linear-gradient(#fff4e8,#fcc38d);box-shadow:0 0 0 0.7px #fff,0 0.6px 1.2px 0.7px rgba(0,0,0,0.18);"></div><div style="position:absolute;top:883.05px;font-size:8.8px;line-height:11.0px;color:#16804a;white-space:nowrap;font-weight:bold;left:395.20px;width:70.00px;text-align:center;transform:scaleX(0.95);">Matriz ECP</div><div style="position:absolute;top:881.61px;font-size:11px;line-height:13.75px;color:#555;white-space:nowrap;left:471.20px;width:12.00px;text-align:center;">+</div><div style="position:absolute;left:490.00px;top:882.50px;width:0.80px;height:13.00px;background:#d0d0d0;"></div><div style="position:absolute;left:80.80px;top:898.00px;width:999.20px;height:15.50px;background:linear-gradient(#ebebeb,#dcdcdc);border-top:0.9px solid #cfcfcf;"></div><div style="position:absolute;top:900.45px;font-size:8.8px;line-height:11.0px;color:#6a6a6a;white-space:nowrap;left:96.80px;">Listo</div><svg style="position:absolute;left:128px;top:899px" width="40" height="14" viewBox="128 899 40 14" fill="none" stroke="#666" stroke-width="0.9">
<circle cx="131.7" cy="902.3" r="1.2" fill="#666" stroke="none"/>
<path d="M132.5,902.3 h6.5 M138,901.3 l1.2,1 l-1.2,1 M132.2,903 v6 M130,909.6 h5.2 M138.6,903.3 v4.8 q0,1.4 -1.4,1.4"/>
<circle cx="156.8" cy="902.1" r="1.3" stroke-width="0.8"/>
<path d="M152.6,904.2 q4.2,-0.8 8.4,0 M156.8,904.4 v3 l-2.2,3.3 M156.8,907.4 l1.6,1.8 M159.2,908.4 l2.6,2.4 M161.8,908.4 l-2.6,2.4" stroke-width="0.8"/>
</svg><div style="position:absolute;top:900.45px;font-size:8.8px;line-height:11.0px;color:#5e5e5e;white-space:nowrap;left:166.20px;transform:scaleX(0.985);transform-origin:0 0;">Accesibilidad: es necesario investigar</div></div>
</body></html>
